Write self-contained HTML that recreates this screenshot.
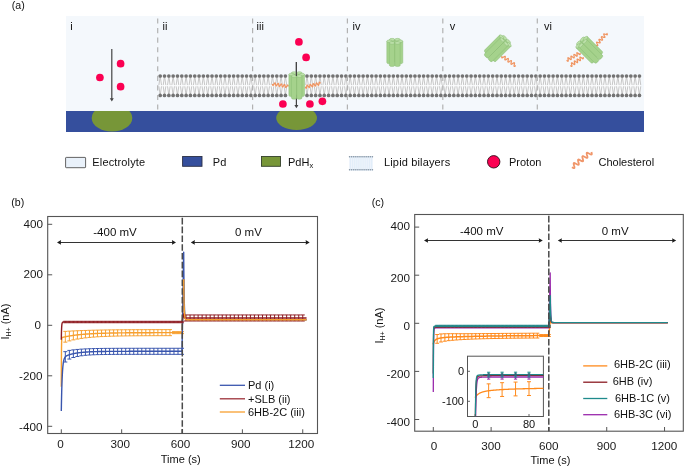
<!DOCTYPE html>
<html><head><meta charset="utf-8"><style>
html,body{margin:0;padding:0;background:#fff;}
body{width:685px;height:468px;overflow:hidden;}
svg{display:block;will-change:transform;}
</style></head><body>
<svg width="685" height="468" viewBox="0 0 685 468">
<rect width="685" height="468" fill="#fff"/>
<rect x="66" y="16" width="578" height="95" fill="#f4f8fc"/>
<rect x="66" y="111" width="578" height="21" fill="#354f9d"/>
<rect x="159.2" y="76.0" width="481.26000000000005" height="19.400000000000006" fill="#fbfcfd"/><path d="M158.9,85.10000000000001 L160.2,76.0 L161.5,85.10000000000001 M158.9,86.3 L160.2,95.4 L161.5,86.3 M163.22,85.10000000000001 L164.52,76.0 L165.82,85.10000000000001 M163.22,86.3 L164.52,95.4 L165.82,86.3 M167.54,85.10000000000001 L168.84,76.0 L170.14,85.10000000000001 M167.54,86.3 L168.84,95.4 L170.14,86.3 M171.85,85.10000000000001 L173.15,76.0 L174.45,85.10000000000001 M171.85,86.3 L173.15,95.4 L174.45,86.3 M176.17,85.10000000000001 L177.47,76.0 L178.77,85.10000000000001 M176.17,86.3 L177.47,95.4 L178.77,86.3 M180.49,85.10000000000001 L181.79,76.0 L183.09,85.10000000000001 M180.49,86.3 L181.79,95.4 L183.09,86.3 M184.81,85.10000000000001 L186.11,76.0 L187.41,85.10000000000001 M184.81,86.3 L186.11,95.4 L187.41,86.3 M189.12,85.10000000000001 L190.42,76.0 L191.72,85.10000000000001 M189.12,86.3 L190.42,95.4 L191.72,86.3 M193.44,85.10000000000001 L194.74,76.0 L196.04,85.10000000000001 M193.44,86.3 L194.74,95.4 L196.04,86.3 M197.76,85.10000000000001 L199.06,76.0 L200.36,85.10000000000001 M197.76,86.3 L199.06,95.4 L200.36,86.3 M202.08,85.10000000000001 L203.38,76.0 L204.68,85.10000000000001 M202.08,86.3 L203.38,95.4 L204.68,86.3 M206.39,85.10000000000001 L207.69,76.0 L208.99,85.10000000000001 M206.39,86.3 L207.69,95.4 L208.99,86.3 M210.71,85.10000000000001 L212.01,76.0 L213.31,85.10000000000001 M210.71,86.3 L212.01,95.4 L213.31,86.3 M215.03,85.10000000000001 L216.33,76.0 L217.63,85.10000000000001 M215.03,86.3 L216.33,95.4 L217.63,86.3 M219.35,85.10000000000001 L220.65,76.0 L221.95,85.10000000000001 M219.35,86.3 L220.65,95.4 L221.95,86.3 M223.66,85.10000000000001 L224.96,76.0 L226.26,85.10000000000001 M223.66,86.3 L224.96,95.4 L226.26,86.3 M227.98,85.10000000000001 L229.28,76.0 L230.58,85.10000000000001 M227.98,86.3 L229.28,95.4 L230.58,86.3 M232.3,85.10000000000001 L233.6,76.0 L234.9,85.10000000000001 M232.3,86.3 L233.6,95.4 L234.9,86.3 M236.62,85.10000000000001 L237.92,76.0 L239.22,85.10000000000001 M236.62,86.3 L237.92,95.4 L239.22,86.3 M240.94,85.10000000000001 L242.24,76.0 L243.54,85.10000000000001 M240.94,86.3 L242.24,95.4 L243.54,86.3 M245.25,85.10000000000001 L246.55,76.0 L247.85,85.10000000000001 M245.25,86.3 L246.55,95.4 L247.85,86.3 M249.57,85.10000000000001 L250.87,76.0 L252.17,85.10000000000001 M249.57,86.3 L250.87,95.4 L252.17,86.3 M253.89,85.10000000000001 L255.19,76.0 L256.49,85.10000000000001 M253.89,86.3 L255.19,95.4 L256.49,86.3 M258.21,85.10000000000001 L259.51,76.0 L260.81,85.10000000000001 M258.21,86.3 L259.51,95.4 L260.81,86.3 M262.52,85.10000000000001 L263.82,76.0 L265.12,85.10000000000001 M262.52,86.3 L263.82,95.4 L265.12,86.3 M266.84,85.10000000000001 L268.14,76.0 L269.44,85.10000000000001 M266.84,86.3 L268.14,95.4 L269.44,86.3 M271.16,85.10000000000001 L272.46,76.0 L273.76,85.10000000000001 M271.16,86.3 L272.46,95.4 L273.76,86.3 M275.48,85.10000000000001 L276.78,76.0 L278.08,85.10000000000001 M275.48,86.3 L276.78,95.4 L278.08,86.3 M279.79,85.10000000000001 L281.09,76.0 L282.39,85.10000000000001 M279.79,86.3 L281.09,95.4 L282.39,86.3 M284.11,85.10000000000001 L285.41,76.0 L286.71,85.10000000000001 M284.11,86.3 L285.41,95.4 L286.71,86.3 M305.7,85.10000000000001 L307,76.0 L308.3,85.10000000000001 M305.7,86.3 L307,95.4 L308.3,86.3 M310.02,85.10000000000001 L311.32,76.0 L312.62,85.10000000000001 M310.02,86.3 L311.32,95.4 L312.62,86.3 M314.34,85.10000000000001 L315.64,76.0 L316.94,85.10000000000001 M314.34,86.3 L315.64,95.4 L316.94,86.3 M318.65,85.10000000000001 L319.95,76.0 L321.25,85.10000000000001 M318.65,86.3 L319.95,95.4 L321.25,86.3 M322.97,85.10000000000001 L324.27,76.0 L325.57,85.10000000000001 M322.97,86.3 L324.27,95.4 L325.57,86.3 M327.29,85.10000000000001 L328.59,76.0 L329.89,85.10000000000001 M327.29,86.3 L328.59,95.4 L329.89,86.3 M331.61,85.10000000000001 L332.91,76.0 L334.21,85.10000000000001 M331.61,86.3 L332.91,95.4 L334.21,86.3 M335.92,85.10000000000001 L337.22,76.0 L338.52,85.10000000000001 M335.92,86.3 L337.22,95.4 L338.52,86.3 M340.24,85.10000000000001 L341.54,76.0 L342.84,85.10000000000001 M340.24,86.3 L341.54,95.4 L342.84,86.3 M344.56,85.10000000000001 L345.86,76.0 L347.16,85.10000000000001 M344.56,86.3 L345.86,95.4 L347.16,86.3 M348.88,85.10000000000001 L350.18,76.0 L351.48,85.10000000000001 M348.88,86.3 L350.18,95.4 L351.48,86.3 M353.19,85.10000000000001 L354.49,76.0 L355.79,85.10000000000001 M353.19,86.3 L354.49,95.4 L355.79,86.3 M357.51,85.10000000000001 L358.81,76.0 L360.11,85.10000000000001 M357.51,86.3 L358.81,95.4 L360.11,86.3 M361.83,85.10000000000001 L363.13,76.0 L364.43,85.10000000000001 M361.83,86.3 L363.13,95.4 L364.43,86.3 M366.15,85.10000000000001 L367.45,76.0 L368.75,85.10000000000001 M366.15,86.3 L367.45,95.4 L368.75,86.3 M370.47,85.10000000000001 L371.77,76.0 L373.07,85.10000000000001 M370.47,86.3 L371.77,95.4 L373.07,86.3 M374.78,85.10000000000001 L376.08,76.0 L377.38,85.10000000000001 M374.78,86.3 L376.08,95.4 L377.38,86.3 M379.1,85.10000000000001 L380.4,76.0 L381.7,85.10000000000001 M379.1,86.3 L380.4,95.4 L381.7,86.3 M383.42,85.10000000000001 L384.72,76.0 L386.02,85.10000000000001 M383.42,86.3 L384.72,95.4 L386.02,86.3 M387.74,85.10000000000001 L389.04,76.0 L390.34,85.10000000000001 M387.74,86.3 L389.04,95.4 L390.34,86.3 M392.05,85.10000000000001 L393.35,76.0 L394.65,85.10000000000001 M392.05,86.3 L393.35,95.4 L394.65,86.3 M396.37,85.10000000000001 L397.67,76.0 L398.97,85.10000000000001 M396.37,86.3 L397.67,95.4 L398.97,86.3 M400.69,85.10000000000001 L401.99,76.0 L403.29,85.10000000000001 M400.69,86.3 L401.99,95.4 L403.29,86.3 M405.01,85.10000000000001 L406.31,76.0 L407.61,85.10000000000001 M405.01,86.3 L406.31,95.4 L407.61,86.3 M409.32,85.10000000000001 L410.62,76.0 L411.92,85.10000000000001 M409.32,86.3 L410.62,95.4 L411.92,86.3 M413.64,85.10000000000001 L414.94,76.0 L416.24,85.10000000000001 M413.64,86.3 L414.94,95.4 L416.24,86.3 M417.96,85.10000000000001 L419.26,76.0 L420.56,85.10000000000001 M417.96,86.3 L419.26,95.4 L420.56,86.3 M422.28,85.10000000000001 L423.58,76.0 L424.88,85.10000000000001 M422.28,86.3 L423.58,95.4 L424.88,86.3 M426.59,85.10000000000001 L427.89,76.0 L429.19,85.10000000000001 M426.59,86.3 L427.89,95.4 L429.19,86.3 M430.91,85.10000000000001 L432.21,76.0 L433.51,85.10000000000001 M430.91,86.3 L432.21,95.4 L433.51,86.3 M435.23,85.10000000000001 L436.53,76.0 L437.83,85.10000000000001 M435.23,86.3 L436.53,95.4 L437.83,86.3 M439.55,85.10000000000001 L440.85,76.0 L442.15,85.10000000000001 M439.55,86.3 L440.85,95.4 L442.15,86.3 M443.87,85.10000000000001 L445.17,76.0 L446.47,85.10000000000001 M443.87,86.3 L445.17,95.4 L446.47,86.3 M448.18,85.10000000000001 L449.48,76.0 L450.78,85.10000000000001 M448.18,86.3 L449.48,95.4 L450.78,86.3 M452.5,85.10000000000001 L453.8,76.0 L455.1,85.10000000000001 M452.5,86.3 L453.8,95.4 L455.1,86.3 M456.82,85.10000000000001 L458.12,76.0 L459.42,85.10000000000001 M456.82,86.3 L458.12,95.4 L459.42,86.3 M461.14,85.10000000000001 L462.44,76.0 L463.74,85.10000000000001 M461.14,86.3 L462.44,95.4 L463.74,86.3 M465.45,85.10000000000001 L466.75,76.0 L468.05,85.10000000000001 M465.45,86.3 L466.75,95.4 L468.05,86.3 M469.77,85.10000000000001 L471.07,76.0 L472.37,85.10000000000001 M469.77,86.3 L471.07,95.4 L472.37,86.3 M474.09,85.10000000000001 L475.39,76.0 L476.69,85.10000000000001 M474.09,86.3 L475.39,95.4 L476.69,86.3 M478.41,85.10000000000001 L479.71,76.0 L481.01,85.10000000000001 M478.41,86.3 L479.71,95.4 L481.01,86.3 M482.72,85.10000000000001 L484.02,76.0 L485.32,85.10000000000001 M482.72,86.3 L484.02,95.4 L485.32,86.3 M487.04,85.10000000000001 L488.34,76.0 L489.64,85.10000000000001 M487.04,86.3 L488.34,95.4 L489.64,86.3 M491.36,85.10000000000001 L492.66,76.0 L493.96,85.10000000000001 M491.36,86.3 L492.66,95.4 L493.96,86.3 M495.68,85.10000000000001 L496.98,76.0 L498.28,85.10000000000001 M495.68,86.3 L496.98,95.4 L498.28,86.3 M499.99,85.10000000000001 L501.29,76.0 L502.59,85.10000000000001 M499.99,86.3 L501.29,95.4 L502.59,86.3 M504.31,85.10000000000001 L505.61,76.0 L506.91,85.10000000000001 M504.31,86.3 L505.61,95.4 L506.91,86.3 M508.63,85.10000000000001 L509.93,76.0 L511.23,85.10000000000001 M508.63,86.3 L509.93,95.4 L511.23,86.3 M512.95,85.10000000000001 L514.25,76.0 L515.55,85.10000000000001 M512.95,86.3 L514.25,95.4 L515.55,86.3 M517.27,85.10000000000001 L518.57,76.0 L519.87,85.10000000000001 M517.27,86.3 L518.57,95.4 L519.87,86.3 M521.58,85.10000000000001 L522.88,76.0 L524.18,85.10000000000001 M521.58,86.3 L522.88,95.4 L524.18,86.3 M525.9,85.10000000000001 L527.2,76.0 L528.5,85.10000000000001 M525.9,86.3 L527.2,95.4 L528.5,86.3 M530.22,85.10000000000001 L531.52,76.0 L532.82,85.10000000000001 M530.22,86.3 L531.52,95.4 L532.82,86.3 M534.54,85.10000000000001 L535.84,76.0 L537.14,85.10000000000001 M534.54,86.3 L535.84,95.4 L537.14,86.3 M538.85,85.10000000000001 L540.15,76.0 L541.45,85.10000000000001 M538.85,86.3 L540.15,95.4 L541.45,86.3 M543.17,85.10000000000001 L544.47,76.0 L545.77,85.10000000000001 M543.17,86.3 L544.47,95.4 L545.77,86.3 M547.49,85.10000000000001 L548.79,76.0 L550.09,85.10000000000001 M547.49,86.3 L548.79,95.4 L550.09,86.3 M551.81,85.10000000000001 L553.11,76.0 L554.41,85.10000000000001 M551.81,86.3 L553.11,95.4 L554.41,86.3 M556.12,85.10000000000001 L557.42,76.0 L558.72,85.10000000000001 M556.12,86.3 L557.42,95.4 L558.72,86.3 M560.44,85.10000000000001 L561.74,76.0 L563.04,85.10000000000001 M560.44,86.3 L561.74,95.4 L563.04,86.3 M564.76,85.10000000000001 L566.06,76.0 L567.36,85.10000000000001 M564.76,86.3 L566.06,95.4 L567.36,86.3 M569.08,85.10000000000001 L570.38,76.0 L571.68,85.10000000000001 M569.08,86.3 L570.38,95.4 L571.68,86.3 M573.4,85.10000000000001 L574.7,76.0 L576,85.10000000000001 M573.4,86.3 L574.7,95.4 L576,86.3 M577.71,85.10000000000001 L579.01,76.0 L580.31,85.10000000000001 M577.71,86.3 L579.01,95.4 L580.31,86.3 M582.03,85.10000000000001 L583.33,76.0 L584.63,85.10000000000001 M582.03,86.3 L583.33,95.4 L584.63,86.3 M586.35,85.10000000000001 L587.65,76.0 L588.95,85.10000000000001 M586.35,86.3 L587.65,95.4 L588.95,86.3 M590.67,85.10000000000001 L591.97,76.0 L593.27,85.10000000000001 M590.67,86.3 L591.97,95.4 L593.27,86.3 M594.98,85.10000000000001 L596.28,76.0 L597.58,85.10000000000001 M594.98,86.3 L596.28,95.4 L597.58,86.3 M599.3,85.10000000000001 L600.6,76.0 L601.9,85.10000000000001 M599.3,86.3 L600.6,95.4 L601.9,86.3 M603.62,85.10000000000001 L604.92,76.0 L606.22,85.10000000000001 M603.62,86.3 L604.92,95.4 L606.22,86.3 M607.94,85.10000000000001 L609.24,76.0 L610.54,85.10000000000001 M607.94,86.3 L609.24,95.4 L610.54,86.3 M612.25,85.10000000000001 L613.55,76.0 L614.85,85.10000000000001 M612.25,86.3 L613.55,95.4 L614.85,86.3 M616.57,85.10000000000001 L617.87,76.0 L619.17,85.10000000000001 M616.57,86.3 L617.87,95.4 L619.17,86.3 M620.89,85.10000000000001 L622.19,76.0 L623.49,85.10000000000001 M620.89,86.3 L622.19,95.4 L623.49,86.3 M625.21,85.10000000000001 L626.51,76.0 L627.81,85.10000000000001 M625.21,86.3 L626.51,95.4 L627.81,86.3 M629.52,85.10000000000001 L630.82,76.0 L632.12,85.10000000000001 M629.52,86.3 L630.82,95.4 L632.12,86.3 M633.84,85.10000000000001 L635.14,76.0 L636.44,85.10000000000001 M633.84,86.3 L635.14,95.4 L636.44,86.3 M638.16,85.10000000000001 L639.46,76.0 L640.76,85.10000000000001 M638.16,86.3 L639.46,95.4 L640.76,86.3" stroke="#bdbdbd" stroke-width="0.85" fill="none"/><circle cx="160.2" cy="76.0" r="1.85" fill="#737373"/><circle cx="160.2" cy="95.4" r="1.85" fill="#737373"/><circle cx="164.52" cy="76.0" r="1.85" fill="#737373"/><circle cx="164.52" cy="95.4" r="1.85" fill="#737373"/><circle cx="168.84" cy="76.0" r="1.85" fill="#737373"/><circle cx="168.84" cy="95.4" r="1.85" fill="#737373"/><circle cx="173.15" cy="76.0" r="1.85" fill="#737373"/><circle cx="173.15" cy="95.4" r="1.85" fill="#737373"/><circle cx="177.47" cy="76.0" r="1.85" fill="#737373"/><circle cx="177.47" cy="95.4" r="1.85" fill="#737373"/><circle cx="181.79" cy="76.0" r="1.85" fill="#737373"/><circle cx="181.79" cy="95.4" r="1.85" fill="#737373"/><circle cx="186.11" cy="76.0" r="1.85" fill="#737373"/><circle cx="186.11" cy="95.4" r="1.85" fill="#737373"/><circle cx="190.42" cy="76.0" r="1.85" fill="#737373"/><circle cx="190.42" cy="95.4" r="1.85" fill="#737373"/><circle cx="194.74" cy="76.0" r="1.85" fill="#737373"/><circle cx="194.74" cy="95.4" r="1.85" fill="#737373"/><circle cx="199.06" cy="76.0" r="1.85" fill="#737373"/><circle cx="199.06" cy="95.4" r="1.85" fill="#737373"/><circle cx="203.38" cy="76.0" r="1.85" fill="#737373"/><circle cx="203.38" cy="95.4" r="1.85" fill="#737373"/><circle cx="207.69" cy="76.0" r="1.85" fill="#737373"/><circle cx="207.69" cy="95.4" r="1.85" fill="#737373"/><circle cx="212.01" cy="76.0" r="1.85" fill="#737373"/><circle cx="212.01" cy="95.4" r="1.85" fill="#737373"/><circle cx="216.33" cy="76.0" r="1.85" fill="#737373"/><circle cx="216.33" cy="95.4" r="1.85" fill="#737373"/><circle cx="220.65" cy="76.0" r="1.85" fill="#737373"/><circle cx="220.65" cy="95.4" r="1.85" fill="#737373"/><circle cx="224.96" cy="76.0" r="1.85" fill="#737373"/><circle cx="224.96" cy="95.4" r="1.85" fill="#737373"/><circle cx="229.28" cy="76.0" r="1.85" fill="#737373"/><circle cx="229.28" cy="95.4" r="1.85" fill="#737373"/><circle cx="233.6" cy="76.0" r="1.85" fill="#737373"/><circle cx="233.6" cy="95.4" r="1.85" fill="#737373"/><circle cx="237.92" cy="76.0" r="1.85" fill="#737373"/><circle cx="237.92" cy="95.4" r="1.85" fill="#737373"/><circle cx="242.24" cy="76.0" r="1.85" fill="#737373"/><circle cx="242.24" cy="95.4" r="1.85" fill="#737373"/><circle cx="246.55" cy="76.0" r="1.85" fill="#737373"/><circle cx="246.55" cy="95.4" r="1.85" fill="#737373"/><circle cx="250.87" cy="76.0" r="1.85" fill="#737373"/><circle cx="250.87" cy="95.4" r="1.85" fill="#737373"/><circle cx="255.19" cy="76.0" r="1.85" fill="#737373"/><circle cx="255.19" cy="95.4" r="1.85" fill="#737373"/><circle cx="259.51" cy="76.0" r="1.85" fill="#737373"/><circle cx="259.51" cy="95.4" r="1.85" fill="#737373"/><circle cx="263.82" cy="76.0" r="1.85" fill="#737373"/><circle cx="263.82" cy="95.4" r="1.85" fill="#737373"/><circle cx="268.14" cy="76.0" r="1.85" fill="#737373"/><circle cx="268.14" cy="95.4" r="1.85" fill="#737373"/><circle cx="272.46" cy="76.0" r="1.85" fill="#737373"/><circle cx="272.46" cy="95.4" r="1.85" fill="#737373"/><circle cx="276.78" cy="76.0" r="1.85" fill="#737373"/><circle cx="276.78" cy="95.4" r="1.85" fill="#737373"/><circle cx="281.09" cy="76.0" r="1.85" fill="#737373"/><circle cx="281.09" cy="95.4" r="1.85" fill="#737373"/><circle cx="285.41" cy="76.0" r="1.85" fill="#737373"/><circle cx="285.41" cy="95.4" r="1.85" fill="#737373"/><circle cx="307" cy="76.0" r="1.85" fill="#737373"/><circle cx="307" cy="95.4" r="1.85" fill="#737373"/><circle cx="311.32" cy="76.0" r="1.85" fill="#737373"/><circle cx="311.32" cy="95.4" r="1.85" fill="#737373"/><circle cx="315.64" cy="76.0" r="1.85" fill="#737373"/><circle cx="315.64" cy="95.4" r="1.85" fill="#737373"/><circle cx="319.95" cy="76.0" r="1.85" fill="#737373"/><circle cx="319.95" cy="95.4" r="1.85" fill="#737373"/><circle cx="324.27" cy="76.0" r="1.85" fill="#737373"/><circle cx="324.27" cy="95.4" r="1.85" fill="#737373"/><circle cx="328.59" cy="76.0" r="1.85" fill="#737373"/><circle cx="328.59" cy="95.4" r="1.85" fill="#737373"/><circle cx="332.91" cy="76.0" r="1.85" fill="#737373"/><circle cx="332.91" cy="95.4" r="1.85" fill="#737373"/><circle cx="337.22" cy="76.0" r="1.85" fill="#737373"/><circle cx="337.22" cy="95.4" r="1.85" fill="#737373"/><circle cx="341.54" cy="76.0" r="1.85" fill="#737373"/><circle cx="341.54" cy="95.4" r="1.85" fill="#737373"/><circle cx="345.86" cy="76.0" r="1.85" fill="#737373"/><circle cx="345.86" cy="95.4" r="1.85" fill="#737373"/><circle cx="350.18" cy="76.0" r="1.85" fill="#737373"/><circle cx="350.18" cy="95.4" r="1.85" fill="#737373"/><circle cx="354.49" cy="76.0" r="1.85" fill="#737373"/><circle cx="354.49" cy="95.4" r="1.85" fill="#737373"/><circle cx="358.81" cy="76.0" r="1.85" fill="#737373"/><circle cx="358.81" cy="95.4" r="1.85" fill="#737373"/><circle cx="363.13" cy="76.0" r="1.85" fill="#737373"/><circle cx="363.13" cy="95.4" r="1.85" fill="#737373"/><circle cx="367.45" cy="76.0" r="1.85" fill="#737373"/><circle cx="367.45" cy="95.4" r="1.85" fill="#737373"/><circle cx="371.77" cy="76.0" r="1.85" fill="#737373"/><circle cx="371.77" cy="95.4" r="1.85" fill="#737373"/><circle cx="376.08" cy="76.0" r="1.85" fill="#737373"/><circle cx="376.08" cy="95.4" r="1.85" fill="#737373"/><circle cx="380.4" cy="76.0" r="1.85" fill="#737373"/><circle cx="380.4" cy="95.4" r="1.85" fill="#737373"/><circle cx="384.72" cy="76.0" r="1.85" fill="#737373"/><circle cx="384.72" cy="95.4" r="1.85" fill="#737373"/><circle cx="389.04" cy="76.0" r="1.85" fill="#737373"/><circle cx="389.04" cy="95.4" r="1.85" fill="#737373"/><circle cx="393.35" cy="76.0" r="1.85" fill="#737373"/><circle cx="393.35" cy="95.4" r="1.85" fill="#737373"/><circle cx="397.67" cy="76.0" r="1.85" fill="#737373"/><circle cx="397.67" cy="95.4" r="1.85" fill="#737373"/><circle cx="401.99" cy="76.0" r="1.85" fill="#737373"/><circle cx="401.99" cy="95.4" r="1.85" fill="#737373"/><circle cx="406.31" cy="76.0" r="1.85" fill="#737373"/><circle cx="406.31" cy="95.4" r="1.85" fill="#737373"/><circle cx="410.62" cy="76.0" r="1.85" fill="#737373"/><circle cx="410.62" cy="95.4" r="1.85" fill="#737373"/><circle cx="414.94" cy="76.0" r="1.85" fill="#737373"/><circle cx="414.94" cy="95.4" r="1.85" fill="#737373"/><circle cx="419.26" cy="76.0" r="1.85" fill="#737373"/><circle cx="419.26" cy="95.4" r="1.85" fill="#737373"/><circle cx="423.58" cy="76.0" r="1.85" fill="#737373"/><circle cx="423.58" cy="95.4" r="1.85" fill="#737373"/><circle cx="427.89" cy="76.0" r="1.85" fill="#737373"/><circle cx="427.89" cy="95.4" r="1.85" fill="#737373"/><circle cx="432.21" cy="76.0" r="1.85" fill="#737373"/><circle cx="432.21" cy="95.4" r="1.85" fill="#737373"/><circle cx="436.53" cy="76.0" r="1.85" fill="#737373"/><circle cx="436.53" cy="95.4" r="1.85" fill="#737373"/><circle cx="440.85" cy="76.0" r="1.85" fill="#737373"/><circle cx="440.85" cy="95.4" r="1.85" fill="#737373"/><circle cx="445.17" cy="76.0" r="1.85" fill="#737373"/><circle cx="445.17" cy="95.4" r="1.85" fill="#737373"/><circle cx="449.48" cy="76.0" r="1.85" fill="#737373"/><circle cx="449.48" cy="95.4" r="1.85" fill="#737373"/><circle cx="453.8" cy="76.0" r="1.85" fill="#737373"/><circle cx="453.8" cy="95.4" r="1.85" fill="#737373"/><circle cx="458.12" cy="76.0" r="1.85" fill="#737373"/><circle cx="458.12" cy="95.4" r="1.85" fill="#737373"/><circle cx="462.44" cy="76.0" r="1.85" fill="#737373"/><circle cx="462.44" cy="95.4" r="1.85" fill="#737373"/><circle cx="466.75" cy="76.0" r="1.85" fill="#737373"/><circle cx="466.75" cy="95.4" r="1.85" fill="#737373"/><circle cx="471.07" cy="76.0" r="1.85" fill="#737373"/><circle cx="471.07" cy="95.4" r="1.85" fill="#737373"/><circle cx="475.39" cy="76.0" r="1.85" fill="#737373"/><circle cx="475.39" cy="95.4" r="1.85" fill="#737373"/><circle cx="479.71" cy="76.0" r="1.85" fill="#737373"/><circle cx="479.71" cy="95.4" r="1.85" fill="#737373"/><circle cx="484.02" cy="76.0" r="1.85" fill="#737373"/><circle cx="484.02" cy="95.4" r="1.85" fill="#737373"/><circle cx="488.34" cy="76.0" r="1.85" fill="#737373"/><circle cx="488.34" cy="95.4" r="1.85" fill="#737373"/><circle cx="492.66" cy="76.0" r="1.85" fill="#737373"/><circle cx="492.66" cy="95.4" r="1.85" fill="#737373"/><circle cx="496.98" cy="76.0" r="1.85" fill="#737373"/><circle cx="496.98" cy="95.4" r="1.85" fill="#737373"/><circle cx="501.29" cy="76.0" r="1.85" fill="#737373"/><circle cx="501.29" cy="95.4" r="1.85" fill="#737373"/><circle cx="505.61" cy="76.0" r="1.85" fill="#737373"/><circle cx="505.61" cy="95.4" r="1.85" fill="#737373"/><circle cx="509.93" cy="76.0" r="1.85" fill="#737373"/><circle cx="509.93" cy="95.4" r="1.85" fill="#737373"/><circle cx="514.25" cy="76.0" r="1.85" fill="#737373"/><circle cx="514.25" cy="95.4" r="1.85" fill="#737373"/><circle cx="518.57" cy="76.0" r="1.85" fill="#737373"/><circle cx="518.57" cy="95.4" r="1.85" fill="#737373"/><circle cx="522.88" cy="76.0" r="1.85" fill="#737373"/><circle cx="522.88" cy="95.4" r="1.85" fill="#737373"/><circle cx="527.2" cy="76.0" r="1.85" fill="#737373"/><circle cx="527.2" cy="95.4" r="1.85" fill="#737373"/><circle cx="531.52" cy="76.0" r="1.85" fill="#737373"/><circle cx="531.52" cy="95.4" r="1.85" fill="#737373"/><circle cx="535.84" cy="76.0" r="1.85" fill="#737373"/><circle cx="535.84" cy="95.4" r="1.85" fill="#737373"/><circle cx="540.15" cy="76.0" r="1.85" fill="#737373"/><circle cx="540.15" cy="95.4" r="1.85" fill="#737373"/><circle cx="544.47" cy="76.0" r="1.85" fill="#737373"/><circle cx="544.47" cy="95.4" r="1.85" fill="#737373"/><circle cx="548.79" cy="76.0" r="1.85" fill="#737373"/><circle cx="548.79" cy="95.4" r="1.85" fill="#737373"/><circle cx="553.11" cy="76.0" r="1.85" fill="#737373"/><circle cx="553.11" cy="95.4" r="1.85" fill="#737373"/><circle cx="557.42" cy="76.0" r="1.85" fill="#737373"/><circle cx="557.42" cy="95.4" r="1.85" fill="#737373"/><circle cx="561.74" cy="76.0" r="1.85" fill="#737373"/><circle cx="561.74" cy="95.4" r="1.85" fill="#737373"/><circle cx="566.06" cy="76.0" r="1.85" fill="#737373"/><circle cx="566.06" cy="95.4" r="1.85" fill="#737373"/><circle cx="570.38" cy="76.0" r="1.85" fill="#737373"/><circle cx="570.38" cy="95.4" r="1.85" fill="#737373"/><circle cx="574.7" cy="76.0" r="1.85" fill="#737373"/><circle cx="574.7" cy="95.4" r="1.85" fill="#737373"/><circle cx="579.01" cy="76.0" r="1.85" fill="#737373"/><circle cx="579.01" cy="95.4" r="1.85" fill="#737373"/><circle cx="583.33" cy="76.0" r="1.85" fill="#737373"/><circle cx="583.33" cy="95.4" r="1.85" fill="#737373"/><circle cx="587.65" cy="76.0" r="1.85" fill="#737373"/><circle cx="587.65" cy="95.4" r="1.85" fill="#737373"/><circle cx="591.97" cy="76.0" r="1.85" fill="#737373"/><circle cx="591.97" cy="95.4" r="1.85" fill="#737373"/><circle cx="596.28" cy="76.0" r="1.85" fill="#737373"/><circle cx="596.28" cy="95.4" r="1.85" fill="#737373"/><circle cx="600.6" cy="76.0" r="1.85" fill="#737373"/><circle cx="600.6" cy="95.4" r="1.85" fill="#737373"/><circle cx="604.92" cy="76.0" r="1.85" fill="#737373"/><circle cx="604.92" cy="95.4" r="1.85" fill="#737373"/><circle cx="609.24" cy="76.0" r="1.85" fill="#737373"/><circle cx="609.24" cy="95.4" r="1.85" fill="#737373"/><circle cx="613.55" cy="76.0" r="1.85" fill="#737373"/><circle cx="613.55" cy="95.4" r="1.85" fill="#737373"/><circle cx="617.87" cy="76.0" r="1.85" fill="#737373"/><circle cx="617.87" cy="95.4" r="1.85" fill="#737373"/><circle cx="622.19" cy="76.0" r="1.85" fill="#737373"/><circle cx="622.19" cy="95.4" r="1.85" fill="#737373"/><circle cx="626.51" cy="76.0" r="1.85" fill="#737373"/><circle cx="626.51" cy="95.4" r="1.85" fill="#737373"/><circle cx="630.82" cy="76.0" r="1.85" fill="#737373"/><circle cx="630.82" cy="95.4" r="1.85" fill="#737373"/><circle cx="635.14" cy="76.0" r="1.85" fill="#737373"/><circle cx="635.14" cy="95.4" r="1.85" fill="#737373"/><circle cx="639.46" cy="76.0" r="1.85" fill="#737373"/><circle cx="639.46" cy="95.4" r="1.85" fill="#737373"/>
<line x1="157.7" y1="18.5" x2="157.7" y2="111" stroke="#b2b2b2" stroke-width="1.2" stroke-dasharray="5.1,4.45"/>
<line x1="252.6" y1="18.5" x2="252.6" y2="111" stroke="#b2b2b2" stroke-width="1.2" stroke-dasharray="5.1,4.45"/>
<line x1="347.4" y1="18.5" x2="347.4" y2="111" stroke="#b2b2b2" stroke-width="1.2" stroke-dasharray="5.1,4.45"/>
<line x1="442.8" y1="18.5" x2="442.8" y2="111" stroke="#b2b2b2" stroke-width="1.2" stroke-dasharray="5.1,4.45"/>
<line x1="537.3" y1="18.5" x2="537.3" y2="111" stroke="#b2b2b2" stroke-width="1.2" stroke-dasharray="5.1,4.45"/>
<text x="70.3" y="29.6" font-family="Liberation Sans, sans-serif" font-size="11" fill="#111">i</text>
<text x="162.5" y="29.6" font-family="Liberation Sans, sans-serif" font-size="11" fill="#111">ii</text>
<text x="256.5" y="29.6" font-family="Liberation Sans, sans-serif" font-size="11" fill="#111">iii</text>
<text x="352.6" y="29.6" font-family="Liberation Sans, sans-serif" font-size="11" fill="#111">iv</text>
<text x="449.8" y="29.6" font-family="Liberation Sans, sans-serif" font-size="11" fill="#111">v</text>
<text x="544.0" y="29.6" font-family="Liberation Sans, sans-serif" font-size="11" fill="#111">vi</text>
<clipPath id="c112"><rect x="90.7" y="111" width="42.6" height="30"/></clipPath><ellipse cx="112" cy="118" rx="20.3" ry="13.4" fill="#779638" clip-path="url(#c112)"/>
<line x1="111.8" y1="49" x2="111.8" y2="99.0" stroke="#444" stroke-width="1.2"/><path d="M109.8,98.3 L113.8,98.3 L111.8,101.5 Z" fill="#444"/>
<circle cx="120.6" cy="63.7" r="3.85" fill="#fb0052"/>
<circle cx="99.9" cy="77.5" r="3.85" fill="#fb0052"/>
<circle cx="120.6" cy="86.7" r="3.85" fill="#fb0052"/>
<clipPath id="c296"><rect x="275.20000000000005" y="111" width="42.8" height="30"/></clipPath><ellipse cx="296.6" cy="118" rx="20.4" ry="12" fill="#779638" clip-path="url(#c296)"/>
<path d="M272.4,83.9 L272.55,84.63 L272.73,85.18 L272.97,85.41 L273.26,85.27 L273.61,84.81 L273.99,84.16 L274.37,83.51 L274.72,83.05 L275.01,82.91 L275.25,83.14 L275.43,83.69 L275.58,84.42 L275.73,85.15 L275.91,85.7 L276.15,85.93 L276.44,85.79 L276.79,85.33 L277.17,84.68 L277.55,84.03 L277.9,83.57 L278.19,83.43 L278.43,83.66 L278.61,84.21 L278.76,84.94 L278.91,85.67 L279.09,86.22 L279.33,86.45 L279.62,86.31 L279.97,85.85 L280.35,85.2 L280.73,84.55 L281.08,84.09 L281.37,83.95 L281.61,84.18 L281.79,84.73 L281.94,85.46 L282.09,86.19 L282.27,86.74 L282.51,86.97 L282.8,86.83 L283.15,86.37 L283.53,85.72 L283.91,85.07 L284.26,84.61 L284.55,84.47 L284.79,84.7 L284.97,85.25 L285.12,85.98 L285.27,86.71 L285.45,87.26 L285.69,87.49 L285.98,87.35 L286.33,86.89 L286.71,86.24 L287.09,85.59 L287.44,85.13 L287.73,84.99 L287.97,85.22 L288.15,85.77 L288.3,86.5" stroke="#f09460" stroke-width="1.25" fill="none"/>
<path d="M305.2,87 L305.62,87.62 L305.99,88.06 L306.29,88.18 L306.5,87.94 L306.64,87.38 L306.73,86.64 L306.82,85.9 L306.96,85.34 L307.17,85.1 L307.47,85.22 L307.84,85.66 L308.26,86.28 L308.68,86.9 L309.05,87.34 L309.35,87.46 L309.56,87.22 L309.7,86.66 L309.79,85.92 L309.88,85.18 L310.02,84.62 L310.23,84.38 L310.53,84.5 L310.9,84.94 L311.32,85.56 L311.74,86.18 L312.11,86.62 L312.41,86.74 L312.62,86.5 L312.76,85.94 L312.85,85.2 L312.94,84.46 L313.08,83.9 L313.29,83.66 L313.59,83.78 L313.96,84.22 L314.38,84.84 L314.8,85.46 L315.17,85.9 L315.47,86.02 L315.68,85.78 L315.82,85.22 L315.91,84.48 L316,83.74 L316.14,83.18 L316.35,82.94 L316.65,83.06 L317.02,83.5 L317.44,84.12 L317.86,84.74 L318.23,85.18 L318.53,85.3 L318.74,85.06 L318.88,84.5 L318.97,83.76 L319.06,83.02 L319.2,82.46 L319.41,82.22 L319.71,82.34 L320.08,82.78 L320.5,83.4" stroke="#f09460" stroke-width="1.25" fill="none"/>
<line x1="296.4" y1="62.1" x2="296.4" y2="105.8" stroke="#444" stroke-width="1.2"/><path d="M294.4,105.1 L298.4,105.1 L296.4,108.3 Z" fill="#444"/>
<g transform="translate(296.7,85.3) rotate(0) scale(0.98)"><path d="M-5.4,-12.6 L-5.4,9 A2.7,1.35 0 0 0 0,9 L0,-12.6 Z" fill="#a5d28c" stroke="#86b971" stroke-width="0.45"/><ellipse cx="-2.7" cy="-12.6" rx="2.7" ry="1.35" fill="#bde0aa" stroke="#86b971" stroke-width="0.45"/><path d="M0,-12.6 L0,9 A2.7,1.35 0 0 0 5.4,9 L5.4,-12.6 Z" fill="#a5d28c" stroke="#86b971" stroke-width="0.45"/><ellipse cx="2.7" cy="-12.6" rx="2.7" ry="1.35" fill="#bde0aa" stroke="#86b971" stroke-width="0.45"/><path d="M-8,-11 L-8,10.2 A2.7,1.35 0 0 0 -2.6,10.2 L-2.6,-11 Z" fill="#a5d28c" stroke="#86b971" stroke-width="0.45"/><ellipse cx="-5.3" cy="-11" rx="2.7" ry="1.35" fill="#bde0aa" stroke="#86b971" stroke-width="0.45"/><path d="M2.6,-11 L2.6,10.2 A2.7,1.35 0 0 0 8,10.2 L8,-11 Z" fill="#a5d28c" stroke="#86b971" stroke-width="0.45"/><ellipse cx="5.3" cy="-11" rx="2.7" ry="1.35" fill="#bde0aa" stroke="#86b971" stroke-width="0.45"/><path d="M-5.4,-9.4 L-5.4,12.9 A2.7,1.35 0 0 0 0,12.9 L0,-9.4 Z" fill="#a5d28c" stroke="#86b971" stroke-width="0.45"/><ellipse cx="-2.7" cy="-9.4" rx="2.7" ry="1.35" fill="#bde0aa" stroke="#86b971" stroke-width="0.45"/><path d="M0,-9.4 L0,12.9 A2.7,1.35 0 0 0 5.4,12.9 L5.4,-9.4 Z" fill="#a5d28c" stroke="#86b971" stroke-width="0.45"/><ellipse cx="2.7" cy="-9.4" rx="2.7" ry="1.35" fill="#bde0aa" stroke="#86b971" stroke-width="0.45"/></g>
<line x1="296.4" y1="62.1" x2="296.4" y2="76" stroke="#444" stroke-width="1.2"/>
<circle cx="298.9" cy="41.9" r="3.85" fill="#fb0052"/>
<circle cx="306.1" cy="57.4" r="3.85" fill="#fb0052"/>
<circle cx="282.9" cy="104" r="3.85" fill="#fb0052"/>
<circle cx="309.9" cy="104" r="3.85" fill="#fb0052"/>
<circle cx="322.4" cy="101.3" r="3.85" fill="#fb0052"/>
<g transform="translate(394.8,52.3) rotate(0) scale(1.0)"><path d="M-5.4,-12.6 L-5.4,9 A2.7,1.35 0 0 0 0,9 L0,-12.6 Z" fill="#a5d28c" stroke="#86b971" stroke-width="0.45"/><ellipse cx="-2.7" cy="-12.6" rx="2.7" ry="1.35" fill="#bde0aa" stroke="#86b971" stroke-width="0.45"/><path d="M0,-12.6 L0,9 A2.7,1.35 0 0 0 5.4,9 L5.4,-12.6 Z" fill="#a5d28c" stroke="#86b971" stroke-width="0.45"/><ellipse cx="2.7" cy="-12.6" rx="2.7" ry="1.35" fill="#bde0aa" stroke="#86b971" stroke-width="0.45"/><path d="M-8,-11 L-8,10.2 A2.7,1.35 0 0 0 -2.6,10.2 L-2.6,-11 Z" fill="#a5d28c" stroke="#86b971" stroke-width="0.45"/><ellipse cx="-5.3" cy="-11" rx="2.7" ry="1.35" fill="#bde0aa" stroke="#86b971" stroke-width="0.45"/><path d="M2.6,-11 L2.6,10.2 A2.7,1.35 0 0 0 8,10.2 L8,-11 Z" fill="#a5d28c" stroke="#86b971" stroke-width="0.45"/><ellipse cx="5.3" cy="-11" rx="2.7" ry="1.35" fill="#bde0aa" stroke="#86b971" stroke-width="0.45"/><path d="M-5.4,-9.4 L-5.4,12.9 A2.7,1.35 0 0 0 0,12.9 L0,-9.4 Z" fill="#a5d28c" stroke="#86b971" stroke-width="0.45"/><ellipse cx="-2.7" cy="-9.4" rx="2.7" ry="1.35" fill="#bde0aa" stroke="#86b971" stroke-width="0.45"/><path d="M0,-9.4 L0,12.9 A2.7,1.35 0 0 0 5.4,12.9 L5.4,-9.4 Z" fill="#a5d28c" stroke="#86b971" stroke-width="0.45"/><ellipse cx="2.7" cy="-9.4" rx="2.7" ry="1.35" fill="#bde0aa" stroke="#86b971" stroke-width="0.45"/></g>
<path d="M502,56 L501.84,56.72 L501.77,57.32 L501.84,57.7 L502.11,57.81 L502.54,57.67 L503.12,57.34 L503.74,56.93 L504.34,56.56 L504.83,56.34 L505.16,56.37 L505.29,56.66 L505.26,57.2 L505.12,57.89 L504.96,58.62 L504.84,59.27 L504.87,59.73 L505.06,59.94 L505.45,59.88 L505.98,59.6 L506.6,59.2 L507.22,58.8 L507.75,58.52 L508.14,58.46 L508.33,58.67 L508.36,59.13 L508.24,59.78 L508.08,60.51 L507.94,61.2 L507.91,61.74 L508.04,62.03 L508.37,62.06 L508.86,61.84 L509.46,61.47 L510.08,61.06 L510.66,60.73 L511.09,60.59 L511.36,60.7 L511.43,61.08 L511.36,61.68 L511.2,62.4 L511.04,63.12 L510.97,63.72 L511.04,64.1 L511.31,64.21 L511.74,64.07 L512.32,63.74 L512.94,63.33 L513.54,62.96 L514.03,62.74 L514.36,62.77 L514.49,63.06 L514.46,63.6 L514.32,64.29 L514.16,65.02 L514.04,65.67 L514.07,66.13 L514.26,66.34 L514.65,66.28 L515.18,66 L515.8,65.6" stroke="#f09460" stroke-width="1.25" fill="none"/>
<g transform="translate(497.5,48.5) rotate(45) scale(1.0)"><path d="M-5.4,-12.6 L-5.4,9 A2.7,1.35 0 0 0 0,9 L0,-12.6 Z" fill="#a5d28c" stroke="#86b971" stroke-width="0.45"/><ellipse cx="-2.7" cy="-12.6" rx="2.7" ry="1.35" fill="#bde0aa" stroke="#86b971" stroke-width="0.45"/><path d="M0,-12.6 L0,9 A2.7,1.35 0 0 0 5.4,9 L5.4,-12.6 Z" fill="#a5d28c" stroke="#86b971" stroke-width="0.45"/><ellipse cx="2.7" cy="-12.6" rx="2.7" ry="1.35" fill="#bde0aa" stroke="#86b971" stroke-width="0.45"/><path d="M-8,-11 L-8,10.2 A2.7,1.35 0 0 0 -2.6,10.2 L-2.6,-11 Z" fill="#a5d28c" stroke="#86b971" stroke-width="0.45"/><ellipse cx="-5.3" cy="-11" rx="2.7" ry="1.35" fill="#bde0aa" stroke="#86b971" stroke-width="0.45"/><path d="M2.6,-11 L2.6,10.2 A2.7,1.35 0 0 0 8,10.2 L8,-11 Z" fill="#a5d28c" stroke="#86b971" stroke-width="0.45"/><ellipse cx="5.3" cy="-11" rx="2.7" ry="1.35" fill="#bde0aa" stroke="#86b971" stroke-width="0.45"/><path d="M-5.4,-9.4 L-5.4,12.9 A2.7,1.35 0 0 0 0,12.9 L0,-9.4 Z" fill="#a5d28c" stroke="#86b971" stroke-width="0.45"/><ellipse cx="-2.7" cy="-9.4" rx="2.7" ry="1.35" fill="#bde0aa" stroke="#86b971" stroke-width="0.45"/><path d="M0,-9.4 L0,12.9 A2.7,1.35 0 0 0 5.4,12.9 L5.4,-9.4 Z" fill="#a5d28c" stroke="#86b971" stroke-width="0.45"/><ellipse cx="2.7" cy="-9.4" rx="2.7" ry="1.35" fill="#bde0aa" stroke="#86b971" stroke-width="0.45"/></g>
<path d="M566.6,60.3 L567.16,60.77 L567.64,61.11 L567.99,61.22 L568.19,61.04 L568.23,60.6 L568.17,59.95 L568.05,59.22 L567.96,58.53 L567.96,58.01 L568.1,57.74 L568.4,57.76 L568.85,58.03 L569.39,58.47 L569.95,58.95 L570.47,59.35 L570.87,59.54 L571.12,59.47 L571.21,59.11 L571.18,58.52 L571.07,57.8 L570.96,57.08 L570.92,56.49 L571.01,56.13 L571.26,56.06 L571.67,56.25 L572.18,56.65 L572.74,57.13 L573.28,57.57 L573.73,57.84 L574.03,57.86 L574.18,57.59 L574.18,57.07 L574.08,56.38 L573.97,55.65 L573.9,55 L573.94,54.56 L574.14,54.38 L574.49,54.49 L574.98,54.83 L575.53,55.3 L576.09,55.77 L576.57,56.11 L576.93,56.22 L577.12,56.04 L577.17,55.6 L577.1,54.95 L576.98,54.22 L576.89,53.53 L576.89,53.01 L577.03,52.74 L577.34,52.76 L577.78,53.03 L578.32,53.47 L578.89,53.95 L579.4,54.35 L579.8,54.54 L580.05,54.47 L580.15,54.11 L580.11,53.52 L580,52.8" stroke="#f09460" stroke-width="1.25" fill="none"/>
<path d="M570.3,65.6 L570.89,66.02 L571.4,66.32 L571.77,66.4 L571.95,66.21 L571.95,65.76 L571.83,65.12 L571.65,64.4 L571.5,63.72 L571.46,63.2 L571.58,62.92 L571.88,62.92 L572.35,63.15 L572.92,63.54 L573.52,63.98 L574.07,64.33 L574.49,64.49 L574.73,64.39 L574.79,64.02 L574.7,63.44 L574.53,62.73 L574.36,62.03 L574.28,61.44 L574.34,61.08 L574.58,60.98 L575,61.14 L575.54,61.49 L576.15,61.92 L576.72,62.32 L577.19,62.55 L577.49,62.54 L577.61,62.26 L577.57,61.74 L577.42,61.06 L577.24,60.34 L577.11,59.71 L577.12,59.26 L577.3,59.07 L577.66,59.15 L578.17,59.45 L578.77,59.87 L579.36,60.29 L579.87,60.58 L580.23,60.66 L580.41,60.47 L580.42,60.03 L580.3,59.39 L580.12,58.67 L579.97,57.99 L579.92,57.47 L580.04,57.19 L580.35,57.18 L580.81,57.42 L581.39,57.81 L581.99,58.24 L582.54,58.59 L582.95,58.75 L583.2,58.66 L583.26,58.29 L583.17,57.71 L583,57" stroke="#f09460" stroke-width="1.25" fill="none"/>
<path d="M596,45.3 L596.69,45.54 L597.27,45.69 L597.65,45.66 L597.79,45.42 L597.69,44.97 L597.42,44.37 L597.07,43.71 L596.76,43.08 L596.6,42.58 L596.65,42.27 L596.95,42.17 L597.47,42.26 L598.14,42.48 L598.85,42.73 L599.48,42.92 L599.93,42.96 L600.15,42.79 L600.13,42.41 L599.9,41.85 L599.57,41.2 L599.23,40.55 L599.01,39.99 L598.98,39.61 L599.2,39.44 L599.66,39.48 L600.29,39.67 L600.99,39.92 L601.66,40.14 L602.18,40.23 L602.48,40.13 L602.54,39.82 L602.37,39.32 L602.06,38.69 L601.71,38.03 L601.44,37.43 L601.34,36.98 L601.48,36.74 L601.86,36.71 L602.44,36.86 L603.13,37.1 L603.83,37.34 L604.41,37.49 L604.79,37.46 L604.92,37.22 L604.83,36.77 L604.55,36.17 L604.2,35.51 L603.89,34.88 L603.73,34.38 L603.78,34.07 L604.09,33.97 L604.61,34.06 L605.27,34.28 L605.98,34.53 L606.61,34.72 L607.06,34.76 L607.28,34.59 L607.26,34.21 L607.04,33.65 L606.7,33" stroke="#f09460" stroke-width="1.25" fill="none"/>
<g transform="translate(589.5,50) rotate(-45) scale(1.0)"><path d="M-5.4,-12.6 L-5.4,9 A2.7,1.35 0 0 0 0,9 L0,-12.6 Z" fill="#a5d28c" stroke="#86b971" stroke-width="0.45"/><ellipse cx="-2.7" cy="-12.6" rx="2.7" ry="1.35" fill="#bde0aa" stroke="#86b971" stroke-width="0.45"/><path d="M0,-12.6 L0,9 A2.7,1.35 0 0 0 5.4,9 L5.4,-12.6 Z" fill="#a5d28c" stroke="#86b971" stroke-width="0.45"/><ellipse cx="2.7" cy="-12.6" rx="2.7" ry="1.35" fill="#bde0aa" stroke="#86b971" stroke-width="0.45"/><path d="M-8,-11 L-8,10.2 A2.7,1.35 0 0 0 -2.6,10.2 L-2.6,-11 Z" fill="#a5d28c" stroke="#86b971" stroke-width="0.45"/><ellipse cx="-5.3" cy="-11" rx="2.7" ry="1.35" fill="#bde0aa" stroke="#86b971" stroke-width="0.45"/><path d="M2.6,-11 L2.6,10.2 A2.7,1.35 0 0 0 8,10.2 L8,-11 Z" fill="#a5d28c" stroke="#86b971" stroke-width="0.45"/><ellipse cx="5.3" cy="-11" rx="2.7" ry="1.35" fill="#bde0aa" stroke="#86b971" stroke-width="0.45"/><path d="M-5.4,-9.4 L-5.4,12.9 A2.7,1.35 0 0 0 0,12.9 L0,-9.4 Z" fill="#a5d28c" stroke="#86b971" stroke-width="0.45"/><ellipse cx="-2.7" cy="-9.4" rx="2.7" ry="1.35" fill="#bde0aa" stroke="#86b971" stroke-width="0.45"/><path d="M0,-9.4 L0,12.9 A2.7,1.35 0 0 0 5.4,12.9 L5.4,-9.4 Z" fill="#a5d28c" stroke="#86b971" stroke-width="0.45"/><ellipse cx="2.7" cy="-9.4" rx="2.7" ry="1.35" fill="#bde0aa" stroke="#86b971" stroke-width="0.45"/></g>
<rect x="65.6" y="157.4" width="20" height="10.3" rx="0.6" fill="#e9f1fa" stroke="#5c5c5c" stroke-width="0.95"/>
<text x="92.3" y="166.2" font-family="Liberation Sans, sans-serif" font-size="11" fill="#111" letter-spacing="0.15">Electrolyte</text>
<rect x="182.6" y="156.5" width="19.4" height="9.8" fill="#354f9d" stroke="#2b2f45" stroke-width="0.9"/>
<text x="212.8" y="166.2" font-family="Liberation Sans, sans-serif" font-size="11" fill="#111">Pd</text>
<rect x="261.5" y="156.5" width="19" height="9.8" fill="#779638" stroke="#33402a" stroke-width="0.9"/>
<text x="288" y="166.2" font-family="Liberation Sans, sans-serif" font-size="11" fill="#111">PdH<tspan font-size="7.5" dy="2">x</tspan></text>
<rect x="349" y="156" width="24" height="14.6" fill="#e1edf9"/><path d="M349.60,157.5 L349.60,169 M351.67,157.5 L351.67,169 M353.75,157.5 L353.75,169 M355.82,157.5 L355.82,169 M357.89,157.5 L357.89,169 M359.96,157.5 L359.96,169 M362.04,157.5 L362.04,169 M364.11,157.5 L364.11,169 M366.18,157.5 L366.18,169 M368.25,157.5 L368.25,169 M370.33,157.5 L370.33,169 M372.40,157.5 L372.40,169" stroke="#f6f9fd" stroke-width="0.7"/><circle cx="349.60" cy="156.7" r="0.8" fill="#8592a0"/><circle cx="349.60" cy="169.8" r="0.8" fill="#8592a0"/><circle cx="351.67" cy="156.7" r="0.8" fill="#8592a0"/><circle cx="351.67" cy="169.8" r="0.8" fill="#8592a0"/><circle cx="353.75" cy="156.7" r="0.8" fill="#8592a0"/><circle cx="353.75" cy="169.8" r="0.8" fill="#8592a0"/><circle cx="355.82" cy="156.7" r="0.8" fill="#8592a0"/><circle cx="355.82" cy="169.8" r="0.8" fill="#8592a0"/><circle cx="357.89" cy="156.7" r="0.8" fill="#8592a0"/><circle cx="357.89" cy="169.8" r="0.8" fill="#8592a0"/><circle cx="359.96" cy="156.7" r="0.8" fill="#8592a0"/><circle cx="359.96" cy="169.8" r="0.8" fill="#8592a0"/><circle cx="362.04" cy="156.7" r="0.8" fill="#8592a0"/><circle cx="362.04" cy="169.8" r="0.8" fill="#8592a0"/><circle cx="364.11" cy="156.7" r="0.8" fill="#8592a0"/><circle cx="364.11" cy="169.8" r="0.8" fill="#8592a0"/><circle cx="366.18" cy="156.7" r="0.8" fill="#8592a0"/><circle cx="366.18" cy="169.8" r="0.8" fill="#8592a0"/><circle cx="368.25" cy="156.7" r="0.8" fill="#8592a0"/><circle cx="368.25" cy="169.8" r="0.8" fill="#8592a0"/><circle cx="370.33" cy="156.7" r="0.8" fill="#8592a0"/><circle cx="370.33" cy="169.8" r="0.8" fill="#8592a0"/><circle cx="372.40" cy="156.7" r="0.8" fill="#8592a0"/><circle cx="372.40" cy="169.8" r="0.8" fill="#8592a0"/>
<text x="384" y="166.2" font-family="Liberation Sans, sans-serif" font-size="11" fill="#111" letter-spacing="0.15">Lipid bilayers</text>
<circle cx="493.7" cy="161.8" r="6.2" fill="#fb0052" stroke="#3a1020" stroke-width="0.95"/>
<text x="509" y="166.2" font-family="Liberation Sans, sans-serif" font-size="11" fill="#111">Proton</text>
<path d="M571.9,167.3 L572.82,167.79 L573.6,168.12 L574.16,168.16 L574.44,167.84 L574.45,167.18 L574.25,166.27 L573.97,165.25 L573.73,164.28 L573.67,163.52 L573.85,163.09 L574.32,163.01 L575.03,163.25 L575.92,163.71 L576.85,164.22 L577.7,164.62 L578.34,164.76 L578.71,164.56 L578.8,164.01 L578.67,163.17 L578.4,162.17 L578.13,161.16 L578,160.32 L578.09,159.77 L578.46,159.57 L579.1,159.72 L579.95,160.12 L580.88,160.63 L581.77,161.08 L582.48,161.33 L582.95,161.25 L583.13,160.81 L583.07,160.06 L582.83,159.09 L582.55,158.06 L582.35,157.15 L582.36,156.49 L582.64,156.18 L583.2,156.21 L583.98,156.54 L584.9,157.03 L585.82,157.52 L586.6,157.85 L587.16,157.89 L587.44,157.57 L587.45,156.92 L587.25,156 L586.97,154.98 L586.73,154.01 L586.67,153.25 L586.85,152.82 L587.32,152.74 L588.03,152.98 L588.92,153.44 L589.85,153.95 L590.7,154.35 L591.34,154.49 L591.71,154.3 L591.8,153.75 L591.67,152.9 L591.4,151.9" stroke="#f0966a" stroke-width="1.8" fill="none"/>
<text x="598.5" y="166.2" font-family="Liberation Sans, sans-serif" font-size="11" fill="#111">Cholesterol</text>
<text x="11.8" y="8.8" font-family="Liberation Sans, sans-serif" font-size="10.6" fill="#111">(a)</text>
<text x="11.3" y="206" font-family="Liberation Sans, sans-serif" font-size="10.6" fill="#111">(b)</text>
<text x="371.7" y="205.5" font-family="Liberation Sans, sans-serif" font-size="10.6" fill="#111">(c)</text>
<rect x="47.7" y="216.5" width="269.8" height="217.0" fill="none" stroke="#555" stroke-width="1.1"/><line x1="47.7" y1="224.3" x2="52.2" y2="224.3" stroke="#555" stroke-width="1"/><line x1="47.7" y1="274.8" x2="52.2" y2="274.8" stroke="#555" stroke-width="1"/><line x1="47.7" y1="325.3" x2="52.2" y2="325.3" stroke="#555" stroke-width="1"/><line x1="47.7" y1="375.8" x2="52.2" y2="375.8" stroke="#555" stroke-width="1"/><line x1="47.7" y1="426.3" x2="52.2" y2="426.3" stroke="#555" stroke-width="1"/><text x="43" y="227.79" font-family="Liberation Sans, sans-serif" font-size="11.7" fill="#1a1a1a" text-anchor="end">400</text><text x="42.9" y="278.44" font-family="Liberation Sans, sans-serif" font-size="11.7" fill="#1a1a1a" text-anchor="end">200</text><text x="40.9" y="328.94" font-family="Liberation Sans, sans-serif" font-size="11.7" fill="#1a1a1a" text-anchor="end">0</text><text x="42.4" y="379.79" font-family="Liberation Sans, sans-serif" font-size="11.7" fill="#1a1a1a" text-anchor="end">-200</text><text x="42.4" y="430.59" font-family="Liberation Sans, sans-serif" font-size="11.7" fill="#1a1a1a" text-anchor="end">-400</text><line x1="61.3" y1="433.5" x2="61.3" y2="429.3" stroke="#555" stroke-width="1"/><text x="60.6" y="448.4" font-family="Liberation Sans, sans-serif" font-size="11.7" fill="#1a1a1a" text-anchor="middle">0</text><line x1="121.66" y1="433.5" x2="121.66" y2="429.3" stroke="#555" stroke-width="1"/><text x="120.16" y="448.4" font-family="Liberation Sans, sans-serif" font-size="11.7" fill="#1a1a1a" text-anchor="middle">300</text><line x1="182.02" y1="433.5" x2="182.02" y2="429.3" stroke="#555" stroke-width="1"/><text x="180.52" y="448.4" font-family="Liberation Sans, sans-serif" font-size="11.7" fill="#1a1a1a" text-anchor="middle">600</text><line x1="242.38" y1="433.5" x2="242.38" y2="429.3" stroke="#555" stroke-width="1"/><text x="240.88" y="448.4" font-family="Liberation Sans, sans-serif" font-size="11.7" fill="#1a1a1a" text-anchor="middle">900</text><line x1="302.74" y1="433.5" x2="302.74" y2="429.3" stroke="#555" stroke-width="1"/><text x="301.24" y="448.4" font-family="Liberation Sans, sans-serif" font-size="11.7" fill="#1a1a1a" text-anchor="middle">1200</text>
<path d="M65.32,331.37 L65.32,342.15 M63.32,331.37 L67.32,331.37 M63.32,342.15 L67.32,342.15 M69.35,331.14 L69.35,340.88 M67.35,331.14 L71.35,331.14 M67.35,340.88 L71.35,340.88 M73.37,330.93 L73.37,339.86 M71.37,330.93 L75.37,330.93 M71.37,339.86 L75.37,339.86 M77.4,330.75 L77.4,339.04 M75.4,330.75 L79.4,330.75 M75.4,339.04 L79.4,339.04 M81.42,330.58 L81.42,338.38 M79.42,330.58 L83.42,330.58 M79.42,338.38 L83.42,338.38 M85.44,330.44 L85.44,337.85 M83.44,330.44 L87.44,330.44 M83.44,337.85 L87.44,337.85 M89.47,330.31 L89.47,337.42 M87.47,330.31 L91.47,330.31 M87.47,337.42 L91.47,337.42 M93.49,330.2 L93.49,337.08 M91.49,330.2 L95.49,330.2 M91.49,337.08 L95.49,337.08 M97.52,330.11 L97.52,336.81 M95.52,330.11 L99.52,330.11 M95.52,336.81 L99.52,336.81 M101.54,330.03 L101.54,336.58 M99.54,330.03 L103.54,330.03 M99.54,336.58 L103.54,336.58 M105.56,329.96 L105.56,336.41 M103.56,329.96 L107.56,329.96 M103.56,336.41 L107.56,336.41 M109.59,329.9 L109.59,336.26 M107.59,329.9 L111.59,329.9 M107.59,336.26 L111.59,336.26 M113.61,329.85 L113.61,336.15 M111.61,329.85 L115.61,329.85 M111.61,336.15 L115.61,336.15 M117.64,329.81 L117.64,336.05 M115.64,329.81 L119.64,329.81 M115.64,336.05 L119.64,336.05 M121.66,329.77 L121.66,335.98 M119.66,329.77 L123.66,329.77 M119.66,335.98 L123.66,335.98 M125.68,329.74 L125.68,335.91 M123.68,329.74 L127.68,329.74 M123.68,335.91 L127.68,335.91 M129.71,329.72 L129.71,335.86 M127.71,329.72 L131.71,329.72 M127.71,335.86 L131.71,335.86 M133.73,329.7 L133.73,335.82 M131.73,329.7 L135.73,329.7 M131.73,335.82 L135.73,335.82 M137.76,329.68 L137.76,335.79 M135.76,329.68 L139.76,329.68 M135.76,335.79 L139.76,335.79 M141.78,329.66 L141.78,335.77 M139.78,329.66 L143.78,329.66 M139.78,335.77 L143.78,335.77 M145.8,329.65 L145.8,335.74 M143.8,329.65 L147.8,329.65 M143.8,335.74 L147.8,335.74 M149.83,329.64 L149.83,335.73 M147.83,329.64 L151.83,329.64 M147.83,335.73 L151.83,335.73 M153.85,329.63 L153.85,335.71 M151.85,329.63 L155.85,329.63 M151.85,335.71 L155.85,335.71 M157.88,329.63 L157.88,335.7 M155.88,329.63 L159.88,329.63 M155.88,335.7 L159.88,335.7 M161.9,329.62 L161.9,335.69 M159.9,329.62 L163.9,329.62 M159.9,335.69 L163.9,335.69 M165.92,329.62 L165.92,335.68 M163.92,329.62 L167.92,329.62 M163.92,335.68 L167.92,335.68 M169.95,329.61 L169.95,335.68 M167.95,329.61 L171.95,329.61 M167.95,335.68 L171.95,335.68 M173.97,331.63 L173.97,333.65 M171.97,331.63 L175.97,331.63 M171.97,333.65 L175.97,333.65 M178,331.63 L178,333.65 M176,331.63 L180,331.63 M176,333.65 L180,333.65 M182.02,331.63 L182.02,333.65 M180.02,331.63 L184.02,331.63 M180.02,333.65 L184.02,333.65" stroke="#f7a030" stroke-width="1.0" fill="none"/>
<path d="M61.3,386.66 L61.3,386.63 L61.3,386.51 L61.3,386.24 L61.3,385.8 L61.3,385.17 L61.31,384.34 L61.31,383.28 L61.31,382.01 L61.32,380.53 L61.32,378.83 L61.33,376.95 L61.34,374.9 L61.35,372.7 L61.36,370.39 L61.37,367.99 L61.38,365.55 L61.39,363.09 L61.41,360.65 L61.42,358.26 L61.44,355.96 L61.46,353.76 L61.48,351.69 L61.5,349.76 L61.52,348 L61.54,346.4 L61.57,344.97 L61.59,343.7 L61.62,342.6 L61.65,341.65 L61.68,340.84 L61.71,340.15 L61.75,339.59 L61.78,339.12 L61.82,338.75 L61.86,338.44 L61.9,338.2 L61.94,338.02 L61.99,337.87 L62.04,337.76 L62.08,337.67 L62.13,337.6 L62.19,337.55 L62.24,337.5 L62.29,337.47 L62.35,337.44 L62.41,337.42 L62.47,337.4 L62.54,337.38 L62.6,337.36 L62.67,337.34 L62.74,337.33 L62.81,337.31 L62.88,337.29 L62.96,337.27 L63.04,337.25 L63.12,337.24 L63.2,337.22 L63.28,337.2 L63.37,337.18 L63.46,337.16 L63.55,337.14 L63.64,337.12 L63.74,337.1 L63.84,337.07 L63.94,337.05 L64.04,337.03 L64.15,337.01 L64.25,336.98 L64.36,336.96 L64.47,336.94 L64.59,336.91 L64.71,336.89 L64.83,336.86 L64.95,336.84 L65.07,336.81 L65.2,336.78 L65.33,336.76 L65.46,336.73 L65.6,336.7 L65.73,336.67 L65.87,336.65 L66.02,336.62 L66.16,336.59 L66.31,336.56 L66.46,336.53 L66.61,336.5 L66.77,336.47 L66.93,336.44 L67.09,336.41 L67.25,336.38 L67.42,336.35 L67.59,336.32 L67.76,336.29 L67.93,336.25 L68.11,336.22 L68.29,336.19 L68.48,336.16 L68.66,336.12 L68.85,336.09 L69.04,336.06 L69.24,336.03 L69.44,335.99 L69.64,335.96 L69.84,335.93 L70.05,335.89 L70.26,335.86 L70.47,335.82 L70.69,335.79 L70.91,335.76 L71.13,335.72 L71.35,335.69 L71.58,335.65 L71.81,335.62 L72.05,335.58 L72.28,335.55 L72.52,335.51 L72.77,335.48 L73.01,335.44 L73.26,335.41 L73.52,335.37 L73.77,335.34 L74.03,335.3 L74.29,335.27 L74.56,335.24 L74.83,335.2 L75.1,335.17 L75.38,335.13 L75.65,335.1 L75.94,335.06 L76.22,335.03 L76.51,334.99 L76.8,334.96 L77.1,334.93 L77.4,334.89 L77.7,334.86 L78,334.82 L78.31,334.79 L78.63,334.76 L78.94,334.72 L79.26,334.69 L79.58,334.66 L79.91,334.63 L80.24,334.59 L80.57,334.56 L80.91,334.53 L81.25,334.5 L81.59,334.46 L81.94,334.43 L82.29,334.4 L82.64,334.37 L83,334.34 L83.36,334.31 L83.72,334.28 L84.09,334.25 L84.46,334.22 L84.84,334.19 L85.22,334.16 L85.6,334.13 L85.99,334.1 L86.38,334.07 L86.77,334.05 L87.17,334.02 L87.57,333.99 L87.97,333.96 L88.38,333.94 L88.79,333.91 L89.21,333.88 L89.63,333.86 L90.05,333.83 L90.48,333.81 L90.91,333.78 L91.35,333.76 L91.79,333.73 L92.23,333.71 L92.67,333.68 L93.12,333.66 L93.58,333.64 L94.04,333.61 L94.5,333.59 L94.96,333.57 L95.43,333.55 L95.91,333.53 L96.38,333.51 L96.86,333.48 L97.35,333.46 L97.84,333.44 L98.33,333.42 L98.83,333.4 L99.33,333.39 L99.84,333.37 L100.34,333.35 L100.86,333.33 L101.37,333.31 L101.9,333.29 L102.42,333.28 L102.95,333.26 L103.48,333.24 L104.02,333.23 L104.56,333.21 L105.11,333.19 L105.66,333.18 L106.21,333.16 L106.77,333.15 L107.33,333.14 L107.9,333.12 L108.47,333.11 L109.04,333.09 L109.62,333.08 L110.2,333.07 L110.79,333.05 L111.38,333.04 L111.98,333.03 L112.58,333.02 L113.18,333.01 L113.79,332.99 L114.4,332.98 L115.02,332.97 L115.64,332.96 L116.27,332.95 L116.89,332.94 L117.53,332.93 L118.17,332.92 L118.81,332.91 L119.46,332.9 L120.11,332.89 L120.76,332.89 L121.42,332.88 L122.09,332.87 L122.76,332.86 L123.43,332.85 L124.11,332.85 L124.79,332.84 L125.48,332.83 L126.17,332.82 L126.86,332.82 L127.56,332.81 L128.26,332.8 L128.97,332.8 L129.69,332.79 L130.4,332.79 L131.13,332.78 L131.85,332.77 L132.58,332.77 L133.32,332.76 L134.06,332.76 L134.8,332.75 L135.55,332.75 L136.31,332.74 L137.07,332.74 L137.83,332.74 L138.6,332.73 L139.37,332.73 L140.15,332.72 L140.93,332.72 L141.71,332.72 L142.5,332.71 L143.3,332.71 L144.1,332.7 L144.9,332.7 L145.71,332.7 L146.53,332.7 L147.35,332.69 L148.17,332.69 L149,332.69 L149.83,332.68 L150.67,332.68 L151.51,332.68 L152.36,332.68 L153.21,332.67 L154.07,332.67 L154.93,332.67 L155.79,332.67 L156.66,332.67 L157.54,332.66 L158.42,332.66 L159.31,332.66 L160.2,332.66 L161.09,332.66 L161.99,332.66 L162.89,332.65 L163.8,332.65 L164.72,332.65 L165.64,332.65 L166.56,332.65 L167.49,332.65 L168.43,332.65 L169.36,332.65 L170.31,332.64 L171.26,332.64 L172.21,332.64 L173.17,332.64 L174.13,332.64 L175.1,332.64 L176.07,332.64 L177.05,332.64 L178.04,332.64 L179.02,332.64 L180.02,332.64 L181.02,332.64 L182.02,332.64 L183.69,279.35 L183.69,279.35 L183.69,279.39 L183.69,279.46 L183.69,279.57 L183.69,279.75 L183.7,279.97 L183.7,280.27 L183.7,280.63 L183.71,281.06 L183.71,281.56 L183.72,282.13 L183.73,282.78 L183.74,283.5 L183.75,284.29 L183.76,285.15 L183.77,286.08 L183.78,287.07 L183.8,288.12 L183.81,289.22 L183.83,290.37 L183.85,291.56 L183.87,292.78 L183.89,294.03 L183.91,295.3 L183.94,296.59 L183.96,297.88 L183.99,299.17 L184.02,300.45 L184.05,301.71 L184.08,302.95 L184.11,304.16 L184.15,305.34 L184.18,306.48 L184.22,307.58 L184.26,308.63 L184.3,309.63 L184.35,310.57 L184.39,311.47 L184.44,312.3 L184.49,313.08 L184.54,313.8 L184.59,314.47 L184.65,315.08 L184.7,315.64 L184.76,316.15 L184.82,316.61 L184.88,317.02 L184.95,317.39 L185.01,317.72 L185.08,318.01 L185.15,318.27 L185.23,318.49 L185.3,318.69 L185.38,318.86 L185.46,319 L185.54,319.13 L185.62,319.23 L185.71,319.32 L185.8,319.4 L185.89,319.46 L185.98,319.52 L186.08,319.56 L186.17,319.6 L186.27,319.63 L186.37,319.65 L186.48,319.67 L186.59,319.69 L186.7,319.7 L186.81,319.71 L186.92,319.72 L187.04,319.72 L187.16,319.73 L187.28,319.73 L187.4,319.74 L187.53,319.74 L187.66,319.74 L187.79,319.74 L187.93,319.74 L188.06,319.74 L188.2,319.74 L188.34,319.74 L188.49,319.74 L188.64,319.74 L188.79,319.74 L188.94,319.74 L189.1,319.74 L189.25,319.74 L189.42,319.74 L189.58,319.74 L189.75,319.74 L189.92,319.74 L190.09,319.74 L190.26,319.74 L190.44,319.74 L190.62,319.74 L190.81,319.74 L190.99,319.74 L191.18,319.74 L191.38,319.74 L191.57,319.74 L191.77,319.74 L191.97,319.74 L192.18,319.74 L192.38,319.74 L192.59,319.74 L192.81,319.74 L193.02,319.74 L193.24,319.74 L193.47,319.74 L193.69,319.74 L193.92,319.74 L194.15,319.74 L194.39,319.74 L194.63,319.74 L194.87,319.74 L195.11,319.74 L195.36,319.74 L195.61,319.74 L195.87,319.74 L196.12,319.74 L196.38,319.74 L196.65,319.74 L196.92,319.74 L197.19,319.74 L197.46,319.74 L197.74,319.74 L198.02,319.74 L198.3,319.74 L198.59,319.74 L198.88,319.74 L199.17,319.75 L199.47,319.75 L199.77,319.75 L200.07,319.75 L200.38,319.75 L200.69,319.75 L201.01,319.75 L201.32,319.75 L201.65,319.75 L201.97,319.75 L202.3,319.75 L202.63,319.75 L202.96,319.75 L203.3,319.75 L203.65,319.75 L203.99,319.75 L204.34,319.75 L204.69,319.75 L205.05,319.75 L205.41,319.75 L205.77,319.75 L206.14,319.75 L206.51,319.75 L206.89,319.75 L207.27,319.75 L207.65,319.75 L208.03,319.75 L208.42,319.75 L208.82,319.75 L209.21,319.75 L209.61,319.75 L210.02,319.75 L210.43,319.75 L210.84,319.75 L211.26,319.75 L211.67,319.75 L212.1,319.75 L212.53,319.75 L212.96,319.75 L213.39,319.75 L213.83,319.75 L214.27,319.75 L214.72,319.75 L215.17,319.75 L215.62,319.75 L216.08,319.75 L216.54,319.75 L217.01,319.75 L217.48,319.75 L217.95,319.75 L218.43,319.75 L218.91,319.75 L219.4,319.75 L219.89,319.75 L220.38,319.75 L220.88,319.75 L221.38,319.75 L221.89,319.75 L222.4,319.75 L222.91,319.75 L223.43,319.75 L223.95,319.75 L224.48,319.75 L225.01,319.75 L225.54,319.75 L226.08,319.75 L226.63,319.75 L227.17,319.75 L227.72,319.75 L228.28,319.75 L228.84,319.75 L229.4,319.75 L229.97,319.75 L230.54,319.75 L231.12,319.75 L231.7,319.75 L232.28,319.75 L232.87,319.75 L233.47,319.75 L234.06,319.75 L234.67,319.75 L235.27,319.75 L235.88,319.75 L236.5,319.75 L237.12,319.75 L237.74,319.75 L238.37,319.75 L239,319.75 L239.64,319.75 L240.28,319.75 L240.92,319.75 L241.57,319.75 L242.22,319.75 L242.88,319.75 L243.55,319.75 L244.21,319.75 L244.89,319.75 L245.56,319.75 L246.24,319.75 L246.93,319.75 L247.62,319.75 L248.31,319.75 L249.01,319.75 L249.71,319.75 L250.42,319.75 L251.13,319.75 L251.85,319.75 L252.57,319.75 L253.3,319.75 L254.03,319.75 L254.76,319.75 L255.5,319.75 L256.25,319.75 L256.99,319.75 L257.75,319.75 L258.51,319.75 L259.27,319.75 L260.04,319.75 L260.81,319.75 L261.58,319.75 L262.37,319.75 L263.15,319.75 L263.94,319.75 L264.74,319.75 L265.54,319.75 L266.34,319.75 L267.15,319.75 L267.97,319.75 L268.78,319.75 L269.61,319.75 L270.44,319.75 L271.27,319.75 L272.11,319.75 L272.95,319.75 L273.8,319.75 L274.65,319.75 L275.51,319.75 L276.37,319.75 L277.24,319.75 L278.11,319.75 L278.99,319.75 L279.87,319.75 L280.75,319.75 L281.65,319.75 L282.54,319.75 L283.44,319.75 L284.35,319.75 L285.26,319.75 L286.18,319.75 L287.1,319.75 L288.02,319.75 L288.95,319.75 L289.89,319.75 L290.83,319.75 L291.77,319.75 L292.73,319.75 L293.68,319.75 L294.64,319.75 L295.61,319.75 L296.58,319.75 L297.55,319.75 L298.53,319.75 L299.52,319.75 L300.51,319.75 L301.51,319.75 L302.51,319.75 L303.51,319.75 L304.53,319.75 L305.54,319.75 L306.56,319.75" stroke="#f7a030" stroke-width="1.4" fill="none" stroke-linejoin="round"/>
<path d="M65.32,351.66 L65.32,362.01 M63.32,351.66 L67.32,351.66 M63.32,362.01 L67.32,362.01 M69.35,350.4 L69.35,359.06 M67.35,350.4 L71.35,350.4 M67.35,359.06 L71.35,359.06 M73.37,349.86 L73.37,357.5 M71.37,349.86 L75.37,349.86 M71.37,357.5 L75.37,357.5 M77.4,349.45 L77.4,356.47 M75.4,349.45 L79.4,349.45 M75.4,356.47 L79.4,356.47 M81.42,349.13 L81.42,355.78 M79.42,349.13 L83.42,349.13 M79.42,355.78 L83.42,355.78 M85.44,348.9 L85.44,355.31 M83.44,348.9 L87.44,348.9 M83.44,355.31 L87.44,355.31 M89.47,348.73 L89.47,355 M87.47,348.73 L91.47,348.73 M87.47,355 L91.47,355 M93.49,348.6 L93.49,354.79 M91.49,348.6 L95.49,348.6 M91.49,354.79 L95.49,354.79 M97.52,348.51 L97.52,354.64 M95.52,348.51 L99.52,348.51 M95.52,354.64 L99.52,354.64 M101.54,348.44 L101.54,354.55 M99.54,348.44 L103.54,348.44 M99.54,354.55 L103.54,354.55 M105.56,348.39 L105.56,354.48 M103.56,348.39 L107.56,348.39 M103.56,354.48 L107.56,354.48 M109.59,348.36 L109.59,354.44 M107.59,348.36 L111.59,348.36 M107.59,354.44 L111.59,354.44 M113.61,348.33 L113.61,354.41 M111.61,348.33 L115.61,348.33 M111.61,354.41 L115.61,354.41 M117.64,348.32 L117.64,354.38 M115.64,348.32 L119.64,348.32 M115.64,354.38 L119.64,354.38 M121.66,348.31 L121.66,354.37 M119.66,348.31 L123.66,348.31 M119.66,354.37 L123.66,354.37 M125.68,348.3 L125.68,354.36 M123.68,348.3 L127.68,348.3 M123.68,354.36 L127.68,354.36 M129.71,348.29 L129.71,354.35 M127.71,348.29 L131.71,348.29 M127.71,354.35 L131.71,354.35 M133.73,348.29 L133.73,354.35 M131.73,348.29 L135.73,348.29 M131.73,354.35 L135.73,354.35 M137.76,348.28 L137.76,354.34 M135.76,348.28 L139.76,348.28 M135.76,354.34 L139.76,354.34 M141.78,348.28 L141.78,354.34 M139.78,348.28 L143.78,348.28 M139.78,354.34 L143.78,354.34 M145.8,348.28 L145.8,354.34 M143.8,348.28 L147.8,348.28 M143.8,354.34 L147.8,354.34 M149.83,348.28 L149.83,354.34 M147.83,348.28 L151.83,348.28 M147.83,354.34 L151.83,354.34 M153.85,348.28 L153.85,354.34 M151.85,348.28 L155.85,348.28 M151.85,354.34 L155.85,354.34 M157.88,348.28 L157.88,354.34 M155.88,348.28 L159.88,348.28 M155.88,354.34 L159.88,354.34 M161.9,348.28 L161.9,354.34 M159.9,348.28 L163.9,348.28 M159.9,354.34 L163.9,354.34 M165.92,348.28 L165.92,354.34 M163.92,348.28 L167.92,348.28 M163.92,354.34 L167.92,354.34 M169.95,348.28 L169.95,354.34 M167.95,348.28 L171.95,348.28 M167.95,354.34 L171.95,354.34 M173.97,348.28 L173.97,354.34 M171.97,348.28 L175.97,348.28 M171.97,354.34 L175.97,354.34 M178,348.28 L178,354.34 M176,348.28 L180,348.28 M176,354.34 L180,354.34 M182.02,348.28 L182.02,354.34 M180.02,348.28 L184.02,348.28 M180.02,354.34 L184.02,354.34" stroke="#3a56ae" stroke-width="1.0" fill="none"/>
<path d="M61.3,410.9 L61.3,410.89 L61.3,410.87 L61.3,410.83 L61.3,410.75 L61.3,410.64 L61.31,410.5 L61.31,410.31 L61.31,410.08 L61.32,409.81 L61.32,409.48 L61.33,409.11 L61.34,408.68 L61.35,408.2 L61.36,407.67 L61.37,407.08 L61.38,406.44 L61.39,405.75 L61.41,405 L61.42,404.21 L61.44,403.36 L61.46,402.46 L61.48,401.52 L61.5,400.53 L61.52,399.5 L61.54,398.43 L61.57,397.32 L61.59,396.18 L61.62,395.01 L61.65,393.81 L61.68,392.59 L61.71,391.35 L61.75,390.1 L61.78,388.83 L61.82,387.56 L61.86,386.28 L61.9,385.01 L61.94,383.74 L61.99,382.48 L62.04,381.23 L62.08,380 L62.13,378.78 L62.19,377.59 L62.24,376.42 L62.29,375.28 L62.35,374.17 L62.41,373.09 L62.47,372.05 L62.54,371.04 L62.6,370.07 L62.67,369.13 L62.74,368.24 L62.81,367.38 L62.88,366.57 L62.96,365.79 L63.04,365.06 L63.12,364.36 L63.2,363.71 L63.28,363.09 L63.37,362.51 L63.46,361.96 L63.55,361.45 L63.64,360.97 L63.74,360.53 L63.84,360.11 L63.94,359.73 L64.04,359.37 L64.15,359.04 L64.25,358.73 L64.36,358.45 L64.47,358.19 L64.59,357.95 L64.71,357.72 L64.83,357.52 L64.95,357.33 L65.07,357.15 L65.2,356.99 L65.33,356.83 L65.46,356.69 L65.6,356.56 L65.73,356.44 L65.87,356.32 L66.02,356.21 L66.16,356.11 L66.31,356.01 L66.46,355.92 L66.61,355.83 L66.77,355.75 L66.93,355.67 L67.09,355.59 L67.25,355.51 L67.42,355.44 L67.59,355.36 L67.76,355.29 L67.93,355.22 L68.11,355.16 L68.29,355.09 L68.48,355.02 L68.66,354.96 L68.85,354.89 L69.04,354.83 L69.24,354.77 L69.44,354.7 L69.64,354.64 L69.84,354.58 L70.05,354.52 L70.26,354.46 L70.47,354.4 L70.69,354.34 L70.91,354.28 L71.13,354.22 L71.35,354.16 L71.58,354.1 L71.81,354.04 L72.05,353.99 L72.28,353.93 L72.52,353.87 L72.77,353.82 L73.01,353.76 L73.26,353.71 L73.52,353.65 L73.77,353.6 L74.03,353.55 L74.29,353.49 L74.56,353.44 L74.83,353.39 L75.1,353.34 L75.38,353.29 L75.65,353.24 L75.94,353.19 L76.22,353.14 L76.51,353.1 L76.8,353.05 L77.1,353 L77.4,352.96 L77.7,352.91 L78,352.87 L78.31,352.83 L78.63,352.78 L78.94,352.74 L79.26,352.7 L79.58,352.66 L79.91,352.62 L80.24,352.58 L80.57,352.55 L80.91,352.51 L81.25,352.47 L81.59,352.44 L81.94,352.4 L82.29,352.37 L82.64,352.34 L83,352.3 L83.36,352.27 L83.72,352.24 L84.09,352.21 L84.46,352.18 L84.84,352.15 L85.22,352.12 L85.6,352.09 L85.99,352.07 L86.38,352.04 L86.77,352.02 L87.17,351.99 L87.57,351.97 L87.97,351.94 L88.38,351.92 L88.79,351.9 L89.21,351.88 L89.63,351.85 L90.05,351.83 L90.48,351.81 L90.91,351.79 L91.35,351.78 L91.79,351.76 L92.23,351.74 L92.67,351.72 L93.12,351.71 L93.58,351.69 L94.04,351.67 L94.5,351.66 L94.96,351.64 L95.43,351.63 L95.91,351.62 L96.38,351.6 L96.86,351.59 L97.35,351.58 L97.84,351.57 L98.33,351.56 L98.83,351.55 L99.33,351.53 L99.84,351.52 L100.34,351.52 L100.86,351.51 L101.37,351.5 L101.9,351.49 L102.42,351.48 L102.95,351.47 L103.48,351.46 L104.02,351.46 L104.56,351.45 L105.11,351.44 L105.66,351.44 L106.21,351.43 L106.77,351.42 L107.33,351.42 L107.9,351.41 L108.47,351.41 L109.04,351.4 L109.62,351.4 L110.2,351.39 L110.79,351.39 L111.38,351.38 L111.98,351.38 L112.58,351.38 L113.18,351.37 L113.79,351.37 L114.4,351.37 L115.02,351.36 L115.64,351.36 L116.27,351.36 L116.89,351.35 L117.53,351.35 L118.17,351.35 L118.81,351.35 L119.46,351.34 L120.11,351.34 L120.76,351.34 L121.42,351.34 L122.09,351.34 L122.76,351.33 L123.43,351.33 L124.11,351.33 L124.79,351.33 L125.48,351.33 L126.17,351.33 L126.86,351.33 L127.56,351.33 L128.26,351.32 L128.97,351.32 L129.69,351.32 L130.4,351.32 L131.13,351.32 L131.85,351.32 L132.58,351.32 L133.32,351.32 L134.06,351.32 L134.8,351.32 L135.55,351.32 L136.31,351.32 L137.07,351.32 L137.83,351.31 L138.6,351.31 L139.37,351.31 L140.15,351.31 L140.93,351.31 L141.71,351.31 L142.5,351.31 L143.3,351.31 L144.1,351.31 L144.9,351.31 L145.71,351.31 L146.53,351.31 L147.35,351.31 L148.17,351.31 L149,351.31 L149.83,351.31 L150.67,351.31 L151.51,351.31 L152.36,351.31 L153.21,351.31 L154.07,351.31 L154.93,351.31 L155.79,351.31 L156.66,351.31 L157.54,351.31 L158.42,351.31 L159.31,351.31 L160.2,351.31 L161.09,351.31 L161.99,351.31 L162.89,351.31 L163.8,351.31 L164.72,351.31 L165.64,351.31 L166.56,351.31 L167.49,351.31 L168.43,351.31 L169.36,351.31 L170.31,351.31 L171.26,351.31 L172.21,351.31 L173.17,351.31 L174.13,351.31 L175.1,351.31 L176.07,351.31 L177.05,351.31 L178.04,351.31 L179.02,351.31 L180.02,351.31 L181.02,351.31 L182.02,351.31 L183.69,252.08 L183.69,252.09 L183.69,252.14 L183.69,252.26 L183.69,252.46 L183.69,252.75 L183.7,253.13 L183.7,253.62 L183.7,254.22 L183.71,254.94 L183.71,255.78 L183.72,256.74 L183.73,257.83 L183.74,259.03 L183.75,260.36 L183.76,261.8 L183.77,263.35 L183.78,265.01 L183.8,266.77 L183.81,268.61 L183.83,270.54 L183.85,272.53 L183.87,274.58 L183.89,276.67 L183.91,278.8 L183.94,280.96 L183.96,283.12 L183.99,285.27 L184.02,287.42 L184.05,289.54 L184.08,291.62 L184.11,293.65 L184.15,295.62 L184.18,297.53 L184.22,299.37 L184.26,301.13 L184.3,302.8 L184.35,304.39 L184.39,305.88 L184.44,307.28 L184.49,308.58 L184.54,309.79 L184.59,310.91 L184.65,311.93 L184.7,312.87 L184.76,313.72 L184.82,314.49 L184.88,315.18 L184.95,315.8 L185.01,316.35 L185.08,316.84 L185.15,317.27 L185.23,317.64 L185.3,317.97 L185.38,318.25 L185.46,318.5 L185.54,318.71 L185.62,318.89 L185.71,319.04 L185.8,319.17 L185.89,319.27 L185.98,319.36 L186.08,319.44 L186.17,319.5 L186.27,319.55 L186.37,319.59 L186.48,319.62 L186.59,319.65 L186.7,319.67 L186.81,319.69 L186.92,319.7 L187.04,319.71 L187.16,319.72 L187.28,319.72 L187.4,319.73 L187.53,319.73 L187.66,319.74 L187.79,319.74 L187.93,319.74 L188.06,319.74 L188.2,319.74 L188.34,319.74 L188.49,319.74 L188.64,319.74 L188.79,319.74 L188.94,319.74 L189.1,319.74 L189.25,319.74 L189.42,319.74 L189.58,319.74 L189.75,319.74 L189.92,319.74 L190.09,319.74 L190.26,319.74 L190.44,319.74 L190.62,319.74 L190.81,319.74 L190.99,319.74 L191.18,319.74 L191.38,319.74 L191.57,319.74 L191.77,319.74 L191.97,319.74 L192.18,319.74 L192.38,319.74 L192.59,319.74 L192.81,319.74 L193.02,319.74 L193.24,319.74 L193.47,319.74 L193.69,319.74 L193.92,319.74 L194.15,319.74 L194.39,319.74 L194.63,319.74 L194.87,319.74 L195.11,319.74 L195.36,319.74 L195.61,319.74 L195.87,319.74 L196.12,319.74 L196.38,319.74 L196.65,319.74 L196.92,319.74 L197.19,319.74 L197.46,319.74 L197.74,319.74 L198.02,319.74 L198.3,319.74 L198.59,319.74 L198.88,319.74 L199.17,319.74 L199.47,319.75 L199.77,319.75 L200.07,319.75 L200.38,319.75 L200.69,319.75 L201.01,319.75 L201.32,319.75 L201.65,319.75 L201.97,319.75 L202.3,319.75 L202.63,319.75 L202.96,319.75 L203.3,319.75 L203.65,319.75 L203.99,319.75 L204.34,319.75 L204.69,319.75 L205.05,319.75 L205.41,319.75 L205.77,319.75 L206.14,319.75 L206.51,319.75 L206.89,319.75 L207.27,319.75 L207.65,319.75 L208.03,319.75 L208.42,319.75 L208.82,319.75 L209.21,319.75 L209.61,319.75 L210.02,319.75 L210.43,319.75 L210.84,319.75 L211.26,319.75 L211.67,319.75 L212.1,319.75 L212.53,319.75 L212.96,319.75 L213.39,319.75 L213.83,319.75 L214.27,319.75 L214.72,319.75 L215.17,319.75 L215.62,319.75 L216.08,319.75 L216.54,319.75 L217.01,319.75 L217.48,319.75 L217.95,319.75 L218.43,319.75 L218.91,319.75 L219.4,319.75 L219.89,319.75 L220.38,319.75 L220.88,319.75 L221.38,319.75 L221.89,319.75 L222.4,319.75 L222.91,319.75 L223.43,319.75 L223.95,319.75 L224.48,319.75 L225.01,319.75 L225.54,319.75 L226.08,319.75 L226.63,319.75 L227.17,319.75 L227.72,319.75 L228.28,319.75 L228.84,319.75 L229.4,319.75 L229.97,319.75 L230.54,319.75 L231.12,319.75 L231.7,319.75 L232.28,319.75 L232.87,319.75 L233.47,319.75 L234.06,319.75 L234.67,319.75 L235.27,319.75 L235.88,319.75 L236.5,319.75 L237.12,319.75 L237.74,319.75 L238.37,319.75 L239,319.75 L239.64,319.75 L240.28,319.75 L240.92,319.75 L241.57,319.75 L242.22,319.75 L242.88,319.75 L243.55,319.75 L244.21,319.75 L244.89,319.75 L245.56,319.75 L246.24,319.75 L246.93,319.75 L247.62,319.75 L248.31,319.75 L249.01,319.75 L249.71,319.75 L250.42,319.75 L251.13,319.75 L251.85,319.75 L252.57,319.75 L253.3,319.75 L254.03,319.75 L254.76,319.75 L255.5,319.75 L256.25,319.75 L256.99,319.75 L257.75,319.75 L258.51,319.75 L259.27,319.75 L260.04,319.75 L260.81,319.75 L261.58,319.75 L262.37,319.75 L263.15,319.75 L263.94,319.75 L264.74,319.75 L265.54,319.75 L266.34,319.75 L267.15,319.75 L267.97,319.75 L268.78,319.75 L269.61,319.75 L270.44,319.75 L271.27,319.75 L272.11,319.75 L272.95,319.75 L273.8,319.75 L274.65,319.75 L275.51,319.75 L276.37,319.75 L277.24,319.75 L278.11,319.75 L278.99,319.75 L279.87,319.75 L280.75,319.75 L281.65,319.75 L282.54,319.75 L283.44,319.75 L284.35,319.75 L285.26,319.75 L286.18,319.75 L287.1,319.75 L288.02,319.75 L288.95,319.75 L289.89,319.75 L290.83,319.75 L291.77,319.75 L292.73,319.75 L293.68,319.75 L294.64,319.75 L295.61,319.75 L296.58,319.75 L297.55,319.75 L298.53,319.75 L299.52,319.75 L300.51,319.75 L301.51,319.75 L302.51,319.75 L303.51,319.75 L304.53,319.75 L305.54,319.75 L306.56,319.75" stroke="#3a56ae" stroke-width="1.4" fill="none" stroke-linejoin="round"/>
<path d="M65.32,321.26 L65.32,322.78 M63.32,321.26 L67.32,321.26 M63.32,322.78 L67.32,322.78 M69.35,321.26 L69.35,322.78 M67.35,321.26 L71.35,321.26 M67.35,322.78 L71.35,322.78 M73.37,321.26 L73.37,322.78 M71.37,321.26 L75.37,321.26 M71.37,322.78 L75.37,322.78 M77.4,321.26 L77.4,322.78 M75.4,321.26 L79.4,321.26 M75.4,322.78 L79.4,322.78 M81.42,321.26 L81.42,322.78 M79.42,321.26 L83.42,321.26 M79.42,322.78 L83.42,322.78 M85.44,321.26 L85.44,322.78 M83.44,321.26 L87.44,321.26 M83.44,322.78 L87.44,322.78 M89.47,321.26 L89.47,322.78 M87.47,321.26 L91.47,321.26 M87.47,322.78 L91.47,322.78 M93.49,321.26 L93.49,322.78 M91.49,321.26 L95.49,321.26 M91.49,322.78 L95.49,322.78 M97.52,321.26 L97.52,322.78 M95.52,321.26 L99.52,321.26 M95.52,322.78 L99.52,322.78 M101.54,321.26 L101.54,322.78 M99.54,321.26 L103.54,321.26 M99.54,322.78 L103.54,322.78 M105.56,321.26 L105.56,322.78 M103.56,321.26 L107.56,321.26 M103.56,322.78 L107.56,322.78 M109.59,321.26 L109.59,322.78 M107.59,321.26 L111.59,321.26 M107.59,322.78 L111.59,322.78 M113.61,321.26 L113.61,322.78 M111.61,321.26 L115.61,321.26 M111.61,322.78 L115.61,322.78 M117.64,321.26 L117.64,322.78 M115.64,321.26 L119.64,321.26 M115.64,322.78 L119.64,322.78 M121.66,321.26 L121.66,322.78 M119.66,321.26 L123.66,321.26 M119.66,322.78 L123.66,322.78 M125.68,321.26 L125.68,322.78 M123.68,321.26 L127.68,321.26 M123.68,322.78 L127.68,322.78 M129.71,321.26 L129.71,322.78 M127.71,321.26 L131.71,321.26 M127.71,322.78 L131.71,322.78 M133.73,321.26 L133.73,322.78 M131.73,321.26 L135.73,321.26 M131.73,322.78 L135.73,322.78 M137.76,321.26 L137.76,322.78 M135.76,321.26 L139.76,321.26 M135.76,322.78 L139.76,322.78 M141.78,321.26 L141.78,322.78 M139.78,321.26 L143.78,321.26 M139.78,322.78 L143.78,322.78 M145.8,321.26 L145.8,322.78 M143.8,321.26 L147.8,321.26 M143.8,322.78 L147.8,322.78 M149.83,321.26 L149.83,322.78 M147.83,321.26 L151.83,321.26 M147.83,322.78 L151.83,322.78 M153.85,321.26 L153.85,322.78 M151.85,321.26 L155.85,321.26 M151.85,322.78 L155.85,322.78 M157.88,321.26 L157.88,322.78 M155.88,321.26 L159.88,321.26 M155.88,322.78 L159.88,322.78 M161.9,321.26 L161.9,322.78 M159.9,321.26 L163.9,321.26 M159.9,322.78 L163.9,322.78 M165.92,321.26 L165.92,322.78 M163.92,321.26 L167.92,321.26 M163.92,322.78 L167.92,322.78 M169.95,321.26 L169.95,322.78 M167.95,321.26 L171.95,321.26 M167.95,322.78 L171.95,322.78 M173.97,321.26 L173.97,322.78 M171.97,321.26 L175.97,321.26 M171.97,322.78 L175.97,322.78 M178,321.26 L178,322.78 M176,321.26 L180,321.26 M176,322.78 L180,322.78 M182.02,321.26 L182.02,322.78 M180.02,321.26 L184.02,321.26 M180.02,322.78 L184.02,322.78" stroke="#8e1c22" stroke-width="0.9" fill="none"/>
<path d="M186.04,314.94 L186.04,321 M184.04,314.94 L188.04,314.94 M184.04,321 L188.04,321 M190.07,314.95 L190.07,321.01 M188.07,314.95 L192.07,314.95 M188.07,321.01 L192.07,321.01 M194.09,314.95 L194.09,321.01 M192.09,314.95 L196.09,314.95 M192.09,321.01 L196.09,321.01 M198.12,314.95 L198.12,321.01 M196.12,314.95 L200.12,314.95 M196.12,321.01 L200.12,321.01 M202.14,314.95 L202.14,321.01 M200.14,314.95 L204.14,314.95 M200.14,321.01 L204.14,321.01 M206.16,314.95 L206.16,321.01 M204.16,314.95 L208.16,314.95 M204.16,321.01 L208.16,321.01 M210.19,314.95 L210.19,321.01 M208.19,314.95 L212.19,314.95 M208.19,321.01 L212.19,321.01 M214.21,314.95 L214.21,321.01 M212.21,314.95 L216.21,314.95 M212.21,321.01 L216.21,321.01 M218.24,314.95 L218.24,321.01 M216.24,314.95 L220.24,314.95 M216.24,321.01 L220.24,321.01 M222.26,314.95 L222.26,321.01 M220.26,314.95 L224.26,314.95 M220.26,321.01 L224.26,321.01 M226.28,314.95 L226.28,321.01 M224.28,314.95 L228.28,314.95 M224.28,321.01 L228.28,321.01 M230.31,314.95 L230.31,321.01 M228.31,314.95 L232.31,314.95 M228.31,321.01 L232.31,321.01 M234.33,314.95 L234.33,321.01 M232.33,314.95 L236.33,314.95 M232.33,321.01 L236.33,321.01 M238.36,314.95 L238.36,321.01 M236.36,314.95 L240.36,314.95 M236.36,321.01 L240.36,321.01 M242.38,314.95 L242.38,321.01 M240.38,314.95 L244.38,314.95 M240.38,321.01 L244.38,321.01 M246.4,314.95 L246.4,321.01 M244.4,314.95 L248.4,314.95 M244.4,321.01 L248.4,321.01 M250.43,314.95 L250.43,321.01 M248.43,314.95 L252.43,314.95 M248.43,321.01 L252.43,321.01 M254.45,314.95 L254.45,321.01 M252.45,314.95 L256.45,314.95 M252.45,321.01 L256.45,321.01 M258.48,314.95 L258.48,321.01 M256.48,314.95 L260.48,314.95 M256.48,321.01 L260.48,321.01 M262.5,314.95 L262.5,321.01 M260.5,314.95 L264.5,314.95 M260.5,321.01 L264.5,321.01 M266.52,314.95 L266.52,321.01 M264.52,314.95 L268.52,314.95 M264.52,321.01 L268.52,321.01 M270.55,314.95 L270.55,321.01 M268.55,314.95 L272.55,314.95 M268.55,321.01 L272.55,321.01 M274.57,314.95 L274.57,321.01 M272.57,314.95 L276.57,314.95 M272.57,321.01 L276.57,321.01 M278.6,314.95 L278.6,321.01 M276.6,314.95 L280.6,314.95 M276.6,321.01 L280.6,321.01 M282.62,314.95 L282.62,321.01 M280.62,314.95 L284.62,314.95 M280.62,321.01 L284.62,321.01 M286.64,314.95 L286.64,321.01 M284.64,314.95 L288.64,314.95 M284.64,321.01 L288.64,321.01 M290.67,314.95 L290.67,321.01 M288.67,314.95 L292.67,314.95 M288.67,321.01 L292.67,321.01 M294.69,314.95 L294.69,321.01 M292.69,314.95 L296.69,314.95 M292.69,321.01 L296.69,321.01 M298.72,314.95 L298.72,321.01 M296.72,314.95 L300.72,314.95 M296.72,321.01 L300.72,321.01 M302.74,314.95 L302.74,321.01 M300.74,314.95 L304.74,314.95 M300.74,321.01 L304.74,321.01" stroke="#8e1c22" stroke-width="1.0" fill="none"/>
<path d="M61.3,339.69 L61.3,339.69 L61.3,339.67 L61.3,339.62 L61.3,339.55 L61.3,339.44 L61.31,339.3 L61.31,339.11 L61.31,338.89 L61.32,338.62 L61.32,338.31 L61.33,337.96 L61.34,337.57 L61.35,337.13 L61.36,336.66 L61.37,336.15 L61.38,335.61 L61.39,335.04 L61.41,334.44 L61.42,333.82 L61.44,333.19 L61.46,332.54 L61.48,331.89 L61.5,331.24 L61.52,330.59 L61.54,329.94 L61.57,329.32 L61.59,328.7 L61.62,328.11 L61.65,327.55 L61.68,327.01 L61.71,326.5 L61.75,326.02 L61.78,325.57 L61.82,325.15 L61.86,324.77 L61.9,324.42 L61.94,324.1 L61.99,323.82 L62.04,323.56 L62.08,323.33 L62.13,323.13 L62.19,322.96 L62.24,322.8 L62.29,322.67 L62.35,322.56 L62.41,322.46 L62.47,322.38 L62.54,322.31 L62.6,322.25 L62.67,322.21 L62.74,322.17 L62.81,322.14 L62.88,322.11 L62.96,322.09 L63.04,322.07 L63.12,322.06 L63.2,322.05 L63.28,322.04 L63.37,322.04 L63.46,322.03 L63.55,322.03 L63.64,322.02 L63.74,322.02 L63.84,322.02 L63.94,322.02 L64.04,322.02 L64.15,322.02 L64.25,322.02 L64.36,322.02 L64.47,322.02 L64.59,322.02 L64.71,322.02 L64.83,322.02 L64.95,322.02 L65.07,322.02 L65.2,322.02 L65.33,322.02 L65.46,322.02 L65.6,322.02 L65.73,322.02 L65.87,322.02 L66.02,322.02 L66.16,322.02 L66.31,322.02 L66.46,322.02 L66.61,322.02 L66.77,322.02 L66.93,322.02 L67.09,322.02 L67.25,322.02 L67.42,322.02 L67.59,322.02 L67.76,322.02 L67.93,322.02 L68.11,322.02 L68.29,322.02 L68.48,322.02 L68.66,322.02 L68.85,322.02 L69.04,322.02 L69.24,322.02 L69.44,322.02 L69.64,322.02 L69.84,322.02 L70.05,322.02 L70.26,322.02 L70.47,322.02 L70.69,322.02 L70.91,322.02 L71.13,322.02 L71.35,322.02 L71.58,322.02 L71.81,322.02 L72.05,322.02 L72.28,322.02 L72.52,322.02 L72.77,322.02 L73.01,322.02 L73.26,322.02 L73.52,322.02 L73.77,322.02 L74.03,322.02 L74.29,322.02 L74.56,322.02 L74.83,322.02 L75.1,322.02 L75.38,322.02 L75.65,322.02 L75.94,322.02 L76.22,322.02 L76.51,322.02 L76.8,322.02 L77.1,322.02 L77.4,322.02 L77.7,322.02 L78,322.02 L78.31,322.02 L78.63,322.02 L78.94,322.02 L79.26,322.02 L79.58,322.02 L79.91,322.02 L80.24,322.02 L80.57,322.02 L80.91,322.02 L81.25,322.02 L81.59,322.02 L81.94,322.02 L82.29,322.02 L82.64,322.02 L83,322.02 L83.36,322.02 L83.72,322.02 L84.09,322.02 L84.46,322.02 L84.84,322.02 L85.22,322.02 L85.6,322.02 L85.99,322.02 L86.38,322.02 L86.77,322.02 L87.17,322.02 L87.57,322.02 L87.97,322.02 L88.38,322.02 L88.79,322.02 L89.21,322.02 L89.63,322.02 L90.05,322.02 L90.48,322.02 L90.91,322.02 L91.35,322.02 L91.79,322.02 L92.23,322.02 L92.67,322.02 L93.12,322.02 L93.58,322.02 L94.04,322.02 L94.5,322.02 L94.96,322.02 L95.43,322.02 L95.91,322.02 L96.38,322.02 L96.86,322.02 L97.35,322.02 L97.84,322.02 L98.33,322.02 L98.83,322.02 L99.33,322.02 L99.84,322.02 L100.34,322.02 L100.86,322.02 L101.37,322.02 L101.9,322.02 L102.42,322.02 L102.95,322.02 L103.48,322.02 L104.02,322.02 L104.56,322.02 L105.11,322.02 L105.66,322.02 L106.21,322.02 L106.77,322.02 L107.33,322.02 L107.9,322.02 L108.47,322.02 L109.04,322.02 L109.62,322.02 L110.2,322.02 L110.79,322.02 L111.38,322.02 L111.98,322.02 L112.58,322.02 L113.18,322.02 L113.79,322.02 L114.4,322.02 L115.02,322.02 L115.64,322.02 L116.27,322.02 L116.89,322.02 L117.53,322.02 L118.17,322.02 L118.81,322.02 L119.46,322.02 L120.11,322.02 L120.76,322.02 L121.42,322.02 L122.09,322.02 L122.76,322.02 L123.43,322.02 L124.11,322.02 L124.79,322.02 L125.48,322.02 L126.17,322.02 L126.86,322.02 L127.56,322.02 L128.26,322.02 L128.97,322.02 L129.69,322.02 L130.4,322.02 L131.13,322.02 L131.85,322.02 L132.58,322.02 L133.32,322.02 L134.06,322.02 L134.8,322.02 L135.55,322.02 L136.31,322.02 L137.07,322.02 L137.83,322.02 L138.6,322.02 L139.37,322.02 L140.15,322.02 L140.93,322.02 L141.71,322.02 L142.5,322.02 L143.3,322.02 L144.1,322.02 L144.9,322.02 L145.71,322.02 L146.53,322.02 L147.35,322.02 L148.17,322.02 L149,322.02 L149.83,322.02 L150.67,322.02 L151.51,322.02 L152.36,322.02 L153.21,322.02 L154.07,322.02 L154.93,322.02 L155.79,322.02 L156.66,322.02 L157.54,322.02 L158.42,322.02 L159.31,322.02 L160.2,322.02 L161.09,322.02 L161.99,322.02 L162.89,322.02 L163.8,322.02 L164.72,322.02 L165.64,322.02 L166.56,322.02 L167.49,322.02 L168.43,322.02 L169.36,322.02 L170.31,322.02 L171.26,322.02 L172.21,322.02 L173.17,322.02 L174.13,322.02 L175.1,322.02 L176.07,322.02 L177.05,322.02 L178.04,322.02 L179.02,322.02 L180.02,322.02 L181.02,322.02 L182.02,322.02 L183.69,313.94 L183.69,313.94 L183.69,313.94 L183.69,313.95 L183.69,313.96 L183.69,313.98 L183.7,314.01 L183.7,314.04 L183.7,314.08 L183.71,314.13 L183.71,314.18 L183.72,314.24 L183.73,314.31 L183.74,314.39 L183.75,314.48 L183.76,314.57 L183.77,314.67 L183.78,314.78 L183.8,314.89 L183.81,315.01 L183.83,315.13 L183.85,315.26 L183.87,315.39 L183.89,315.52 L183.91,315.65 L183.94,315.79 L183.96,315.92 L183.99,316.05 L184.02,316.18 L184.05,316.31 L184.08,316.44 L184.11,316.56 L184.15,316.68 L184.18,316.79 L184.22,316.9 L184.26,317 L184.3,317.1 L184.35,317.19 L184.39,317.27 L184.44,317.35 L184.49,317.42 L184.54,317.49 L184.59,317.55 L184.65,317.6 L184.7,317.65 L184.76,317.7 L184.82,317.73 L184.88,317.77 L184.95,317.8 L185.01,317.83 L185.08,317.85 L185.15,317.87 L185.23,317.89 L185.3,317.9 L185.38,317.92 L185.46,317.93 L185.54,317.94 L185.62,317.94 L185.71,317.95 L185.8,317.96 L185.89,317.96 L185.98,317.96 L186.08,317.97 L186.17,317.97 L186.27,317.97 L186.37,317.97 L186.48,317.97 L186.59,317.97 L186.7,317.98 L186.81,317.98 L186.92,317.98 L187.04,317.98 L187.16,317.98 L187.28,317.98 L187.4,317.98 L187.53,317.98 L187.66,317.98 L187.79,317.98 L187.93,317.98 L188.06,317.98 L188.2,317.98 L188.34,317.98 L188.49,317.98 L188.64,317.98 L188.79,317.98 L188.94,317.98 L189.1,317.98 L189.25,317.98 L189.42,317.98 L189.58,317.98 L189.75,317.98 L189.92,317.98 L190.09,317.98 L190.26,317.98 L190.44,317.98 L190.62,317.98 L190.81,317.98 L190.99,317.98 L191.18,317.98 L191.38,317.98 L191.57,317.98 L191.77,317.98 L191.97,317.98 L192.18,317.98 L192.38,317.98 L192.59,317.98 L192.81,317.98 L193.02,317.98 L193.24,317.98 L193.47,317.98 L193.69,317.98 L193.92,317.98 L194.15,317.98 L194.39,317.98 L194.63,317.98 L194.87,317.98 L195.11,317.98 L195.36,317.98 L195.61,317.98 L195.87,317.98 L196.12,317.98 L196.38,317.98 L196.65,317.98 L196.92,317.98 L197.19,317.98 L197.46,317.98 L197.74,317.98 L198.02,317.98 L198.3,317.98 L198.59,317.98 L198.88,317.98 L199.17,317.98 L199.47,317.98 L199.77,317.98 L200.07,317.98 L200.38,317.98 L200.69,317.98 L201.01,317.98 L201.32,317.98 L201.65,317.98 L201.97,317.98 L202.3,317.98 L202.63,317.98 L202.96,317.98 L203.3,317.98 L203.65,317.98 L203.99,317.98 L204.34,317.98 L204.69,317.98 L205.05,317.98 L205.41,317.98 L205.77,317.98 L206.14,317.98 L206.51,317.98 L206.89,317.98 L207.27,317.98 L207.65,317.98 L208.03,317.98 L208.42,317.98 L208.82,317.98 L209.21,317.98 L209.61,317.98 L210.02,317.98 L210.43,317.98 L210.84,317.98 L211.26,317.98 L211.67,317.98 L212.1,317.98 L212.53,317.98 L212.96,317.98 L213.39,317.98 L213.83,317.98 L214.27,317.98 L214.72,317.98 L215.17,317.98 L215.62,317.98 L216.08,317.98 L216.54,317.98 L217.01,317.98 L217.48,317.98 L217.95,317.98 L218.43,317.98 L218.91,317.98 L219.4,317.98 L219.89,317.98 L220.38,317.98 L220.88,317.98 L221.38,317.98 L221.89,317.98 L222.4,317.98 L222.91,317.98 L223.43,317.98 L223.95,317.98 L224.48,317.98 L225.01,317.98 L225.54,317.98 L226.08,317.98 L226.63,317.98 L227.17,317.98 L227.72,317.98 L228.28,317.98 L228.84,317.98 L229.4,317.98 L229.97,317.98 L230.54,317.98 L231.12,317.98 L231.7,317.98 L232.28,317.98 L232.87,317.98 L233.47,317.98 L234.06,317.98 L234.67,317.98 L235.27,317.98 L235.88,317.98 L236.5,317.98 L237.12,317.98 L237.74,317.98 L238.37,317.98 L239,317.98 L239.64,317.98 L240.28,317.98 L240.92,317.98 L241.57,317.98 L242.22,317.98 L242.88,317.98 L243.55,317.98 L244.21,317.98 L244.89,317.98 L245.56,317.98 L246.24,317.98 L246.93,317.98 L247.62,317.98 L248.31,317.98 L249.01,317.98 L249.71,317.98 L250.42,317.98 L251.13,317.98 L251.85,317.98 L252.57,317.98 L253.3,317.98 L254.03,317.98 L254.76,317.98 L255.5,317.98 L256.25,317.98 L256.99,317.98 L257.75,317.98 L258.51,317.98 L259.27,317.98 L260.04,317.98 L260.81,317.98 L261.58,317.98 L262.37,317.98 L263.15,317.98 L263.94,317.98 L264.74,317.98 L265.54,317.98 L266.34,317.98 L267.15,317.98 L267.97,317.98 L268.78,317.98 L269.61,317.98 L270.44,317.98 L271.27,317.98 L272.11,317.98 L272.95,317.98 L273.8,317.98 L274.65,317.98 L275.51,317.98 L276.37,317.98 L277.24,317.98 L278.11,317.98 L278.99,317.98 L279.87,317.98 L280.75,317.98 L281.65,317.98 L282.54,317.98 L283.44,317.98 L284.35,317.98 L285.26,317.98 L286.18,317.98 L287.1,317.98 L288.02,317.98 L288.95,317.98 L289.89,317.98 L290.83,317.98 L291.77,317.98 L292.73,317.98 L293.68,317.98 L294.64,317.98 L295.61,317.98 L296.58,317.98 L297.55,317.98 L298.53,317.98 L299.52,317.98 L300.51,317.98 L301.51,317.98 L302.51,317.98 L303.51,317.98 L304.53,317.98 L305.54,317.98 L306.56,317.98" stroke="#8e1c22" stroke-width="1.4" fill="none" stroke-linejoin="round"/>
<path d="M183.69,279.35 L183.69,279.35 L183.69,279.39 L183.69,279.46 L183.69,279.57 L183.69,279.75 L183.7,279.97 L183.7,280.27 L183.7,280.63 L183.71,281.06 L183.71,281.56 L183.72,282.13 L183.73,282.78 L183.74,283.5 L183.75,284.29 L183.76,285.15 L183.77,286.08 L183.78,287.07 L183.8,288.12 L183.81,289.22 L183.83,290.37 L183.85,291.56 L183.87,292.78 L183.89,294.03 L183.91,295.3 L183.94,296.59 L183.96,297.88 L183.99,299.17 L184.02,300.45 L184.05,301.71 L184.08,302.95 L184.11,304.16 L184.15,305.34 L184.18,306.48 L184.22,307.58 L184.26,308.63 L184.3,309.63 L184.35,310.57 L184.39,311.47 L184.44,312.3 L184.49,313.08 L184.54,313.8 L184.59,314.47 L184.65,315.08 L184.7,315.64 L184.76,316.15 L184.82,316.61 L184.88,317.02 L184.95,317.39 L185.01,317.72 L185.08,318.01 L185.15,318.27 L185.23,318.49 L185.3,318.69 L185.38,318.86 L185.46,319 L185.54,319.13 L185.62,319.23 L185.71,319.32 L185.8,319.4 L185.89,319.46 L185.98,319.52 L186.08,319.56 L186.17,319.6 L186.27,319.63 L186.37,319.65 L186.48,319.67 L186.59,319.69 L186.7,319.7 L186.81,319.71 L186.92,319.72 L187.04,319.72 L187.16,319.73 L187.28,319.73 L187.4,319.74 L187.53,319.74 L187.66,319.74 L187.79,319.74 L187.93,319.74 L188.06,319.74 L188.2,319.74 L188.34,319.74 L188.49,319.74 L188.64,319.74 L188.79,319.74 L188.94,319.74 L189.1,319.74 L189.25,319.74 L189.42,319.74 L189.58,319.74 L189.75,319.74 L189.92,319.74 L190.09,319.74 L190.26,319.74 L190.44,319.74 L190.62,319.74 L190.81,319.74 L190.99,319.74 L191.18,319.74 L191.38,319.74 L191.57,319.74 L191.77,319.74 L191.97,319.74 L192.18,319.74 L192.38,319.74 L192.59,319.74 L192.81,319.74 L193.02,319.74 L193.24,319.74 L193.47,319.74 L193.69,319.74 L193.92,319.74 L194.15,319.74 L194.39,319.74 L194.63,319.74 L194.87,319.74 L195.11,319.74 L195.36,319.74 L195.61,319.74 L195.87,319.74 L196.12,319.74 L196.38,319.74 L196.65,319.74 L196.92,319.74 L197.19,319.74 L197.46,319.74 L197.74,319.74 L198.02,319.74 L198.3,319.74 L198.59,319.74 L198.88,319.74 L199.17,319.75 L199.47,319.75 L199.77,319.75 L200.07,319.75 L200.38,319.75 L200.69,319.75 L201.01,319.75 L201.32,319.75 L201.65,319.75 L201.97,319.75 L202.3,319.75 L202.63,319.75 L202.96,319.75 L203.3,319.75 L203.65,319.75 L203.99,319.75 L204.34,319.75 L204.69,319.75 L205.05,319.75 L205.41,319.75 L205.77,319.75 L206.14,319.75 L206.51,319.75 L206.89,319.75 L207.27,319.75 L207.65,319.75 L208.03,319.75 L208.42,319.75 L208.82,319.75 L209.21,319.75 L209.61,319.75 L210.02,319.75 L210.43,319.75 L210.84,319.75 L211.26,319.75 L211.67,319.75 L212.1,319.75 L212.53,319.75 L212.96,319.75 L213.39,319.75 L213.83,319.75 L214.27,319.75 L214.72,319.75 L215.17,319.75 L215.62,319.75 L216.08,319.75 L216.54,319.75 L217.01,319.75 L217.48,319.75 L217.95,319.75 L218.43,319.75 L218.91,319.75 L219.4,319.75 L219.89,319.75 L220.38,319.75 L220.88,319.75 L221.38,319.75 L221.89,319.75 L222.4,319.75 L222.91,319.75 L223.43,319.75 L223.95,319.75 L224.48,319.75 L225.01,319.75 L225.54,319.75 L226.08,319.75 L226.63,319.75 L227.17,319.75 L227.72,319.75 L228.28,319.75 L228.84,319.75 L229.4,319.75 L229.97,319.75 L230.54,319.75 L231.12,319.75 L231.7,319.75 L232.28,319.75 L232.87,319.75 L233.47,319.75 L234.06,319.75 L234.67,319.75 L235.27,319.75 L235.88,319.75 L236.5,319.75 L237.12,319.75 L237.74,319.75 L238.37,319.75 L239,319.75 L239.64,319.75 L240.28,319.75 L240.92,319.75 L241.57,319.75 L242.22,319.75 L242.88,319.75 L243.55,319.75 L244.21,319.75 L244.89,319.75 L245.56,319.75 L246.24,319.75 L246.93,319.75 L247.62,319.75 L248.31,319.75 L249.01,319.75 L249.71,319.75 L250.42,319.75 L251.13,319.75 L251.85,319.75 L252.57,319.75 L253.3,319.75 L254.03,319.75 L254.76,319.75 L255.5,319.75 L256.25,319.75 L256.99,319.75 L257.75,319.75 L258.51,319.75 L259.27,319.75 L260.04,319.75 L260.81,319.75 L261.58,319.75 L262.37,319.75 L263.15,319.75 L263.94,319.75 L264.74,319.75 L265.54,319.75 L266.34,319.75 L267.15,319.75 L267.97,319.75 L268.78,319.75 L269.61,319.75 L270.44,319.75 L271.27,319.75 L272.11,319.75 L272.95,319.75 L273.8,319.75 L274.65,319.75 L275.51,319.75 L276.37,319.75 L277.24,319.75 L278.11,319.75 L278.99,319.75 L279.87,319.75 L280.75,319.75 L281.65,319.75 L282.54,319.75 L283.44,319.75 L284.35,319.75 L285.26,319.75 L286.18,319.75 L287.1,319.75 L288.02,319.75 L288.95,319.75 L289.89,319.75 L290.83,319.75 L291.77,319.75 L292.73,319.75 L293.68,319.75 L294.64,319.75 L295.61,319.75 L296.58,319.75 L297.55,319.75 L298.53,319.75 L299.52,319.75 L300.51,319.75 L301.51,319.75 L302.51,319.75 L303.51,319.75 L304.53,319.75 L305.54,319.75 L306.56,319.75" stroke="#f7a030" stroke-width="1.4" fill="none"/>
<line x1="182.3" y1="217.8" x2="182.3" y2="433.5" stroke="#4a4a4a" stroke-width="1.5" stroke-dasharray="6.6,2.2"/>
<line x1="59" y1="242.4" x2="174" y2="242.4" stroke="#333" stroke-width="1.05"/><path d="M57,242.4 L61.1,240.1 L60.7,242.4 L61.1,244.7 Z" fill="#1a1a1a"/><path d="M176,242.4 L171.9,240.1 L172.3,242.4 L171.9,244.7 Z" fill="#1a1a1a"/><line x1="192.8" y1="242.4" x2="307.7" y2="242.4" stroke="#333" stroke-width="1.05"/><path d="M190.8,242.4 L194.9,240.1 L194.5,242.4 L194.9,244.7 Z" fill="#1a1a1a"/><path d="M309.7,242.4 L305.6,240.1 L306,242.4 L305.6,244.7 Z" fill="#1a1a1a"/><text x="115" y="236" font-family="Liberation Sans, sans-serif" font-size="11.5" fill="#111" text-anchor="middle">-400 mV</text><text x="248.4" y="236" font-family="Liberation Sans, sans-serif" font-size="11.5" fill="#111" text-anchor="middle">0 mV</text>
<line x1="219.8" y1="385.3" x2="245" y2="385.3" stroke="#3a56ae" stroke-width="1.3"/>
<text x="248" y="389.3" font-family="Liberation Sans, sans-serif" font-size="11" fill="#111">Pd (i)</text>
<line x1="219.8" y1="398.8" x2="245" y2="398.8" stroke="#9c3038" stroke-width="1.3"/>
<text x="248" y="402.8" font-family="Liberation Sans, sans-serif" font-size="11" fill="#111">+SLB (ii)</text>
<line x1="219.8" y1="412" x2="245" y2="412" stroke="#f7a030" stroke-width="1.3"/>
<text x="248" y="416" font-family="Liberation Sans, sans-serif" font-size="11" fill="#111">6HB-2C (iii)</text>
<text x="160.8" y="463" font-family="Liberation Sans, sans-serif" font-size="11" fill="#111">Time (s)</text>
<text transform="translate(8.6,339.6) rotate(-90)" font-family="Liberation Sans, sans-serif" font-size="11" fill="#111">I<tspan font-size="7" dy="2">H+</tspan><tspan dy="-2"> (nA)</tspan></text>
<rect x="414.7" y="214.5" width="268.59999999999997" height="216.7" fill="none" stroke="#555" stroke-width="1.1"/><line x1="414.7" y1="227.1" x2="419.2" y2="227.1" stroke="#555" stroke-width="1"/><line x1="414.7" y1="275.2" x2="419.2" y2="275.2" stroke="#555" stroke-width="1"/><line x1="414.7" y1="323.3" x2="419.2" y2="323.3" stroke="#555" stroke-width="1"/><line x1="414.7" y1="371.4" x2="419.2" y2="371.4" stroke="#555" stroke-width="1"/><line x1="414.7" y1="419.5" x2="419.2" y2="419.5" stroke="#555" stroke-width="1"/><text x="410" y="229.89" font-family="Liberation Sans, sans-serif" font-size="11.7" fill="#1a1a1a" text-anchor="end">400</text><text x="410" y="281.69" font-family="Liberation Sans, sans-serif" font-size="11.7" fill="#1a1a1a" text-anchor="end">200</text><text x="410.1" y="329.69" font-family="Liberation Sans, sans-serif" font-size="11.7" fill="#1a1a1a" text-anchor="end">0</text><text x="410" y="378.39" font-family="Liberation Sans, sans-serif" font-size="11.7" fill="#1a1a1a" text-anchor="end">-200</text><text x="410" y="426.49" font-family="Liberation Sans, sans-serif" font-size="11.7" fill="#1a1a1a" text-anchor="end">-400</text><line x1="433.3" y1="431.2" x2="433.3" y2="427.0" stroke="#555" stroke-width="1"/><text x="433.9" y="449.8" font-family="Liberation Sans, sans-serif" font-size="11.7" fill="#1a1a1a" text-anchor="middle">0</text><line x1="491.11" y1="431.2" x2="491.11" y2="427.0" stroke="#555" stroke-width="1"/><text x="490.91" y="449.8" font-family="Liberation Sans, sans-serif" font-size="11.7" fill="#1a1a1a" text-anchor="middle">300</text><line x1="548.92" y1="431.2" x2="548.92" y2="427.0" stroke="#555" stroke-width="1"/><text x="548.72" y="449.8" font-family="Liberation Sans, sans-serif" font-size="11.7" fill="#1a1a1a" text-anchor="middle">600</text><line x1="606.73" y1="431.2" x2="606.73" y2="427.0" stroke="#555" stroke-width="1"/><text x="606.53" y="449.8" font-family="Liberation Sans, sans-serif" font-size="11.7" fill="#1a1a1a" text-anchor="middle">900</text><line x1="664.54" y1="431.2" x2="664.54" y2="427.0" stroke="#555" stroke-width="1"/><text x="664.34" y="449.8" font-family="Liberation Sans, sans-serif" font-size="11.7" fill="#1a1a1a" text-anchor="middle">1200</text>
<path d="M437.15,334.53 L437.15,343.28 M435.22,334.53 L439.08,334.53 M435.22,343.28 L439.08,343.28 M441.01,333.94 L441.01,341.98 M439.08,333.94 L442.94,333.94 M439.08,341.98 L442.94,341.98 M444.86,333.75 L444.86,341.2 M442.93,333.75 L446.79,333.75 M442.93,341.2 L446.79,341.2 M448.72,333.7 L448.72,340.67 M446.79,333.7 L450.65,333.7 M446.79,340.67 L450.65,340.67 M452.57,333.7 L452.57,340.28 M450.64,333.7 L454.5,333.7 M450.64,340.28 L454.5,340.28 M456.42,333.71 L456.42,339.97 M454.49,333.71 L458.35,333.71 M454.49,339.97 L458.35,339.97 M460.28,333.71 L460.28,339.71 M458.35,333.71 L462.21,333.71 M458.35,339.71 L462.21,339.71 M464.13,333.71 L464.13,339.49 M462.2,333.71 L466.06,333.71 M462.2,339.49 L466.06,339.49 M467.99,333.7 L467.99,339.3 M466.06,333.7 L469.92,333.7 M466.06,339.3 L469.92,339.3 M471.84,333.68 L471.84,339.14 M469.91,333.68 L473.77,333.68 M469.91,339.14 L473.77,339.14 M475.69,333.65 L475.69,338.99 M473.76,333.65 L477.62,333.65 M473.76,338.99 L477.62,338.99 M479.55,333.62 L479.55,338.87 M477.62,333.62 L481.48,333.62 M477.62,338.87 L481.48,338.87 M483.4,333.59 L483.4,338.76 M481.47,333.59 L485.33,333.59 M481.47,338.76 L485.33,338.76 M487.26,333.56 L487.26,338.66 M485.33,333.56 L489.19,333.56 M485.33,338.66 L489.19,338.66 M491.11,333.52 L491.11,338.57 M489.18,333.52 L493.04,333.52 M489.18,338.57 L493.04,338.57 M494.96,333.49 L494.96,338.5 M493.03,333.49 L496.89,333.49 M493.03,338.5 L496.89,338.5 M498.82,333.46 L498.82,338.43 M496.89,333.46 L500.75,333.46 M496.89,338.43 L500.75,338.43 M502.67,333.42 L502.67,338.37 M500.74,333.42 L504.6,333.42 M500.74,338.37 L504.6,338.37 M506.53,333.39 L506.53,338.31 M504.6,333.39 L508.46,333.39 M504.6,338.31 L508.46,338.31 M510.38,333.36 L510.38,338.26 M508.45,333.36 L512.31,333.36 M508.45,338.26 L512.31,338.26 M514.23,333.33 L514.23,338.21 M512.3,333.33 L516.16,333.33 M512.3,338.21 L516.16,338.21 M518.09,333.3 L518.09,338.17 M516.16,333.3 L520.02,333.3 M516.16,338.17 L520.02,338.17 M521.94,333.28 L521.94,338.14 M520.01,333.28 L523.87,333.28 M520.01,338.14 L523.87,338.14 M525.8,333.25 L525.8,338.1 M523.87,333.25 L527.73,333.25 M523.87,338.1 L527.73,338.1 M529.65,333.23 L529.65,338.07 M527.72,333.23 L531.58,333.23 M527.72,338.07 L531.58,338.07 M533.5,333.21 L533.5,338.04 M531.57,333.21 L535.43,333.21 M531.57,338.04 L535.43,338.04 M537.36,333.19 L537.36,338.02 M535.43,333.19 L539.29,333.19 M535.43,338.02 L539.29,338.02 M541.21,334.62 L541.21,336.54 M539.28,334.62 L543.14,334.62 M539.28,336.54 L543.14,336.54 M545.07,334.6 L545.07,336.52 M543.14,334.6 L547,334.6 M543.14,336.52 L547,336.52 M548.92,334.58 L548.92,336.51 M546.99,334.58 L550.85,334.58 M546.99,336.51 L550.85,336.51" stroke="#ff8a1c" stroke-width="1.0" fill="none"/>
<path d="M433.3,344.22 L433.3,344.22 L433.3,344.22 L433.3,344.22 L433.3,344.21 L433.3,344.21 L433.31,344.19 L433.31,344.18 L433.31,344.16 L433.32,344.14 L433.32,344.12 L433.33,344.09 L433.34,344.06 L433.35,344.03 L433.35,343.99 L433.36,343.95 L433.38,343.9 L433.39,343.85 L433.4,343.8 L433.42,343.74 L433.43,343.67 L433.45,343.61 L433.47,343.54 L433.49,343.46 L433.51,343.39 L433.53,343.31 L433.56,343.22 L433.58,343.13 L433.61,343.04 L433.64,342.95 L433.67,342.86 L433.7,342.76 L433.73,342.66 L433.76,342.56 L433.8,342.45 L433.84,342.35 L433.88,342.24 L433.92,342.14 L433.96,342.03 L434,341.92 L434.05,341.82 L434.1,341.71 L434.15,341.6 L434.2,341.5 L434.25,341.39 L434.31,341.29 L434.36,341.19 L434.42,341.08 L434.48,340.98 L434.55,340.89 L434.61,340.79 L434.68,340.69 L434.75,340.6 L434.82,340.51 L434.89,340.42 L434.96,340.33 L435.04,340.25 L435.12,340.17 L435.2,340.08 L435.28,340.01 L435.37,339.93 L435.46,339.85 L435.54,339.78 L435.64,339.71 L435.73,339.64 L435.83,339.58 L435.92,339.51 L436.03,339.45 L436.13,339.39 L436.23,339.33 L436.34,339.27 L436.45,339.22 L436.56,339.16 L436.68,339.11 L436.79,339.06 L436.91,339 L437.03,338.95 L437.16,338.91 L437.29,338.86 L437.41,338.81 L437.55,338.77 L437.68,338.72 L437.82,338.68 L437.96,338.64 L438.1,338.59 L438.24,338.55 L438.39,338.51 L438.54,338.47 L438.69,338.43 L438.84,338.39 L439,338.36 L439.16,338.32 L439.32,338.28 L439.49,338.25 L439.65,338.21 L439.82,338.17 L440,338.14 L440.17,338.11 L440.35,338.07 L440.53,338.04 L440.72,338.01 L440.9,337.98 L441.09,337.94 L441.29,337.91 L441.48,337.88 L441.68,337.85 L441.88,337.82 L442.08,337.8 L442.29,337.77 L442.5,337.74 L442.71,337.71 L442.93,337.69 L443.15,337.66 L443.37,337.63 L443.59,337.61 L443.82,337.58 L444.05,337.56 L444.28,337.54 L444.52,337.51 L444.76,337.49 L445,337.47 L445.25,337.44 L445.49,337.42 L445.74,337.4 L446,337.38 L446.26,337.36 L446.52,337.34 L446.78,337.32 L447.05,337.3 L447.32,337.28 L447.59,337.26 L447.87,337.24 L448.15,337.22 L448.43,337.21 L448.72,337.19 L449.01,337.17 L449.3,337.15 L449.59,337.14 L449.89,337.12 L450.2,337.11 L450.5,337.09 L450.81,337.07 L451.12,337.06 L451.44,337.04 L451.76,337.03 L452.08,337.01 L452.4,337 L452.73,336.98 L453.06,336.97 L453.4,336.95 L453.74,336.94 L454.08,336.93 L454.43,336.91 L454.78,336.9 L455.13,336.88 L455.48,336.87 L455.84,336.86 L456.21,336.84 L456.57,336.83 L456.94,336.82 L457.32,336.81 L457.69,336.79 L458.08,336.78 L458.46,336.77 L458.85,336.75 L459.24,336.74 L459.63,336.73 L460.03,336.72 L460.43,336.7 L460.84,336.69 L461.25,336.68 L461.66,336.67 L462.08,336.66 L462.5,336.64 L462.92,336.63 L463.35,336.62 L463.78,336.61 L464.21,336.6 L464.65,336.58 L465.1,336.57 L465.54,336.56 L465.99,336.55 L466.44,336.54 L466.9,336.52 L467.36,336.51 L467.83,336.5 L468.3,336.49 L468.77,336.48 L469.24,336.47 L469.72,336.46 L470.21,336.44 L470.69,336.43 L471.19,336.42 L471.68,336.41 L472.18,336.4 L472.68,336.39 L473.19,336.38 L473.7,336.37 L474.22,336.35 L474.73,336.34 L475.26,336.33 L475.78,336.32 L476.31,336.31 L476.85,336.3 L477.39,336.29 L477.93,336.28 L478.47,336.27 L479.03,336.26 L479.58,336.25 L480.14,336.23 L480.7,336.22 L481.27,336.21 L481.84,336.2 L482.41,336.19 L482.99,336.18 L483.57,336.17 L484.16,336.16 L484.75,336.15 L485.34,336.14 L485.94,336.13 L486.55,336.12 L487.15,336.11 L487.76,336.1 L488.38,336.09 L489,336.08 L489.62,336.07 L490.25,336.06 L490.88,336.05 L491.52,336.04 L492.16,336.03 L492.8,336.02 L493.45,336.01 L494.11,336.01 L494.76,336 L495.43,335.99 L496.09,335.98 L496.76,335.97 L497.44,335.96 L498.11,335.95 L498.8,335.94 L499.48,335.93 L500.18,335.93 L500.87,335.92 L501.57,335.91 L502.28,335.9 L502.99,335.89 L503.7,335.88 L504.42,335.87 L505.14,335.87 L505.87,335.86 L506.6,335.85 L507.33,335.84 L508.07,335.83 L508.81,335.83 L509.56,335.82 L510.32,335.81 L511.07,335.8 L511.83,335.8 L512.6,335.79 L513.37,335.78 L514.15,335.77 L514.93,335.77 L515.71,335.76 L516.5,335.75 L517.29,335.75 L518.09,335.74 L518.89,335.73 L519.7,335.73 L520.51,335.72 L521.33,335.71 L522.15,335.71 L522.97,335.7 L523.8,335.69 L524.63,335.69 L525.47,335.68 L526.32,335.67 L527.16,335.67 L528.02,335.66 L528.87,335.66 L529.74,335.65 L530.6,335.64 L531.47,335.64 L532.35,335.63 L533.23,335.63 L534.12,335.62 L535,335.62 L535.9,335.61 L536.8,335.61 L537.7,335.6 L538.61,335.6 L539.52,335.59 L540.44,335.59 L541.37,335.58 L542.29,335.58 L543.23,335.57 L544.16,335.57 L545.1,335.56 L546.05,335.56 L547,335.55 L547.96,335.55 L548.92,335.54 L550.19,320.41 L550.19,320.41 L550.19,320.42 L550.19,320.42 L550.19,320.43 L550.2,320.44 L550.2,320.46 L550.2,320.47 L550.21,320.5 L550.21,320.53 L550.22,320.56 L550.22,320.6 L550.23,320.64 L550.24,320.68 L550.25,320.74 L550.26,320.79 L550.27,320.85 L550.28,320.91 L550.3,320.98 L550.31,321.05 L550.33,321.12 L550.34,321.2 L550.36,321.28 L550.38,321.36 L550.4,321.43 L550.43,321.51 L550.45,321.59 L550.48,321.67 L550.5,321.75 L550.53,321.83 L550.56,321.9 L550.6,321.98 L550.63,322.05 L550.66,322.11 L550.7,322.18 L550.74,322.24 L550.78,322.29 L550.82,322.35 L550.86,322.4 L550.91,322.44 L550.96,322.49 L551,322.53 L551.05,322.56 L551.11,322.6 L551.16,322.62 L551.22,322.65 L551.27,322.67 L551.33,322.69 L551.4,322.71 L551.46,322.73 L551.53,322.74 L551.59,322.76 L551.66,322.77 L551.73,322.78 L551.81,322.78 L551.88,322.79 L551.96,322.79 L552.04,322.8 L552.12,322.8 L552.21,322.81 L552.3,322.81 L552.38,322.81 L552.48,322.81 L552.57,322.81 L552.66,322.82 L552.76,322.82 L552.86,322.82 L552.96,322.82 L553.07,322.82 L553.18,322.82 L553.29,322.82 L553.4,322.82 L553.51,322.82 L553.63,322.82 L553.75,322.82 L553.87,322.82 L553.99,322.82 L554.12,322.82 L554.25,322.82 L554.38,322.82 L554.51,322.82 L554.65,322.82 L554.79,322.82 L554.93,322.82 L555.07,322.82 L555.22,322.82 L555.37,322.82 L555.52,322.82 L555.67,322.82 L555.83,322.82 L555.99,322.82 L556.15,322.82 L556.32,322.82 L556.49,322.82 L556.66,322.82 L556.83,322.82 L557.01,322.82 L557.18,322.82 L557.37,322.82 L557.55,322.82 L557.74,322.82 L557.93,322.82 L558.12,322.82 L558.32,322.82 L558.51,322.82 L558.72,322.82 L558.92,322.82 L559.13,322.82 L559.34,322.82 L559.55,322.82 L559.77,322.82 L559.99,322.82 L560.21,322.82 L560.43,322.82 L560.66,322.82 L560.89,322.82 L561.13,322.82 L561.36,322.82 L561.6,322.82 L561.85,322.82 L562.09,322.82 L562.34,322.82 L562.6,322.82 L562.85,322.82 L563.11,322.82 L563.37,322.82 L563.64,322.82 L563.91,322.82 L564.18,322.82 L564.45,322.82 L564.73,322.82 L565.01,322.82 L565.3,322.82 L565.58,322.82 L565.88,322.82 L566.17,322.82 L566.47,322.82 L566.77,322.82 L567.07,322.82 L567.38,322.82 L567.69,322.82 L568,322.82 L568.32,322.82 L568.64,322.82 L568.97,322.82 L569.3,322.82 L569.63,322.82 L569.96,322.82 L570.3,322.82 L570.64,322.82 L570.99,322.82 L571.33,322.82 L571.69,322.82 L572.04,322.82 L572.4,322.82 L572.76,322.82 L573.13,322.82 L573.5,322.82 L573.87,322.82 L574.25,322.82 L574.63,322.82 L575.01,322.82 L575.4,322.82 L575.79,322.82 L576.18,322.82 L576.58,322.82 L576.98,322.82 L577.39,322.82 L577.8,322.82 L578.21,322.82 L578.62,322.82 L579.04,322.82 L579.47,322.82 L579.9,322.82 L580.33,322.82 L580.76,322.82 L581.2,322.82 L581.64,322.82 L582.09,322.82 L582.54,322.82 L582.99,322.82 L583.45,322.82 L583.91,322.82 L584.38,322.82 L584.84,322.82 L585.32,322.82 L585.79,322.82 L586.27,322.82 L586.76,322.82 L587.25,322.82 L587.74,322.82 L588.23,322.82 L588.73,322.82 L589.24,322.82 L589.75,322.82 L590.26,322.82 L590.77,322.82 L591.29,322.82 L591.82,322.82 L592.34,322.82 L592.88,322.82 L593.41,322.82 L593.95,322.82 L594.49,322.82 L595.04,322.82 L595.59,322.82 L596.15,322.82 L596.71,322.82 L597.27,322.82 L597.84,322.82 L598.41,322.82 L598.99,322.82 L599.57,322.82 L600.15,322.82 L600.74,322.82 L601.34,322.82 L601.93,322.82 L602.53,322.82 L603.14,322.82 L603.75,322.82 L604.36,322.82 L604.98,322.82 L605.6,322.82 L606.23,322.82 L606.86,322.82 L607.49,322.82 L608.13,322.82 L608.77,322.82 L609.42,322.82 L610.07,322.82 L610.73,322.82 L611.39,322.82 L612.05,322.82 L612.72,322.82 L613.39,322.82 L614.07,322.82 L614.75,322.82 L615.44,322.82 L616.13,322.82 L616.82,322.82 L617.52,322.82 L618.23,322.82 L618.94,322.82 L619.65,322.82 L620.36,322.82 L621.09,322.82 L621.81,322.82 L622.54,322.82 L623.28,322.82 L624.01,322.82 L624.76,322.82 L625.51,322.82 L626.26,322.82 L627.02,322.82 L627.78,322.82 L628.54,322.82 L629.31,322.82 L630.09,322.82 L630.87,322.82 L631.65,322.82 L632.44,322.82 L633.23,322.82 L634.03,322.82 L634.83,322.82 L635.64,322.82 L636.45,322.82 L637.27,322.82 L638.09,322.82 L638.91,322.82 L639.74,322.82 L640.58,322.82 L641.42,322.82 L642.26,322.82 L643.11,322.82 L643.96,322.82 L644.82,322.82 L645.68,322.82 L646.55,322.82 L647.42,322.82 L648.3,322.82 L649.18,322.82 L650.07,322.82 L650.96,322.82 L651.85,322.82 L652.75,322.82 L653.66,322.82 L654.57,322.82 L655.48,322.82 L656.4,322.82 L657.33,322.82 L658.26,322.82 L659.19,322.82 L660.13,322.82 L661.07,322.82 L662.02,322.82 L662.98,322.82 L663.93,322.82 L664.9,322.82 L665.87,322.82 L666.84,322.82 L667.82,322.82" stroke="#ff8a1c" stroke-width="1.5" fill="none" stroke-linejoin="round"/>
<path d="M433.3,392.08 L433.3,392.06 L433.3,391.93 L433.3,391.67 L433.3,391.23 L433.3,390.6 L433.31,389.76 L433.31,388.7 L433.31,387.41 L433.32,385.89 L433.32,384.15 L433.33,382.19 L433.34,380.03 L433.35,377.68 L433.35,375.18 L433.36,372.55 L433.38,369.81 L433.39,367 L433.4,364.16 L433.42,361.3 L433.43,358.47 L433.45,355.7 L433.47,353.01 L433.49,350.42 L433.51,347.97 L433.53,345.66 L433.56,343.51 L433.58,341.53 L433.61,339.73 L433.64,338.09 L433.67,336.63 L433.7,335.34 L433.73,334.2 L433.76,333.21 L433.8,332.36 L433.84,331.64 L433.88,331.02 L433.92,330.5 L433.96,330.07 L434,329.71 L434.05,329.42 L434.1,329.18 L434.15,328.98 L434.2,328.82 L434.25,328.69 L434.31,328.58 L434.36,328.49 L434.42,328.41 L434.48,328.35 L434.55,328.3 L434.61,328.25 L434.68,328.21 L434.75,328.18 L434.82,328.15 L434.89,328.12 L434.96,328.1 L435.04,328.07 L435.12,328.05 L435.2,328.03 L435.28,328.02 L435.37,328 L435.46,327.99 L435.54,327.97 L435.64,327.96 L435.73,327.95 L435.83,327.94 L435.92,327.93 L436.03,327.93 L436.13,327.92 L436.23,327.91 L436.34,327.91 L436.45,327.9 L436.56,327.9 L436.68,327.89 L436.79,327.89 L436.91,327.89 L437.03,327.88 L437.16,327.88 L437.29,327.88 L437.41,327.88 L437.55,327.88 L437.68,327.88 L437.82,327.87 L437.96,327.87 L438.1,327.87 L438.24,327.87 L438.39,327.87 L438.54,327.87 L438.69,327.87 L438.84,327.87 L439,327.87 L439.16,327.87 L439.32,327.87 L439.49,327.87 L439.65,327.87 L439.82,327.87 L440,327.87 L440.17,327.87 L440.35,327.87 L440.53,327.87 L440.72,327.87 L440.9,327.87 L441.09,327.87 L441.29,327.87 L441.48,327.87 L441.68,327.87 L441.88,327.87 L442.08,327.87 L442.29,327.87 L442.5,327.87 L442.71,327.87 L442.93,327.87 L443.15,327.87 L443.37,327.87 L443.59,327.87 L443.82,327.87 L444.05,327.87 L444.28,327.87 L444.52,327.87 L444.76,327.87 L445,327.87 L445.25,327.87 L445.49,327.87 L445.74,327.87 L446,327.87 L446.26,327.87 L446.52,327.87 L446.78,327.87 L447.05,327.87 L447.32,327.87 L447.59,327.87 L447.87,327.87 L448.15,327.87 L448.43,327.87 L448.72,327.87 L449.01,327.87 L449.3,327.87 L449.59,327.87 L449.89,327.87 L450.2,327.87 L450.5,327.87 L450.81,327.87 L451.12,327.87 L451.44,327.87 L451.76,327.87 L452.08,327.87 L452.4,327.87 L452.73,327.87 L453.06,327.87 L453.4,327.87 L453.74,327.87 L454.08,327.87 L454.43,327.87 L454.78,327.87 L455.13,327.87 L455.48,327.87 L455.84,327.87 L456.21,327.87 L456.57,327.87 L456.94,327.87 L457.32,327.87 L457.69,327.87 L458.08,327.87 L458.46,327.87 L458.85,327.87 L459.24,327.87 L459.63,327.87 L460.03,327.87 L460.43,327.87 L460.84,327.87 L461.25,327.87 L461.66,327.87 L462.08,327.87 L462.5,327.87 L462.92,327.87 L463.35,327.87 L463.78,327.87 L464.21,327.87 L464.65,327.87 L465.1,327.87 L465.54,327.87 L465.99,327.87 L466.44,327.87 L466.9,327.87 L467.36,327.87 L467.83,327.87 L468.3,327.87 L468.77,327.87 L469.24,327.87 L469.72,327.87 L470.21,327.87 L470.69,327.87 L471.19,327.87 L471.68,327.87 L472.18,327.87 L472.68,327.87 L473.19,327.87 L473.7,327.87 L474.22,327.87 L474.73,327.87 L475.26,327.87 L475.78,327.87 L476.31,327.87 L476.85,327.87 L477.39,327.87 L477.93,327.87 L478.47,327.87 L479.03,327.87 L479.58,327.87 L480.14,327.87 L480.7,327.87 L481.27,327.87 L481.84,327.87 L482.41,327.87 L482.99,327.87 L483.57,327.87 L484.16,327.87 L484.75,327.87 L485.34,327.87 L485.94,327.87 L486.55,327.87 L487.15,327.87 L487.76,327.87 L488.38,327.87 L489,327.87 L489.62,327.87 L490.25,327.87 L490.88,327.87 L491.52,327.87 L492.16,327.87 L492.8,327.87 L493.45,327.87 L494.11,327.87 L494.76,327.87 L495.43,327.87 L496.09,327.87 L496.76,327.87 L497.44,327.87 L498.11,327.87 L498.8,327.87 L499.48,327.87 L500.18,327.87 L500.87,327.87 L501.57,327.87 L502.28,327.87 L502.99,327.87 L503.7,327.87 L504.42,327.87 L505.14,327.87 L505.87,327.87 L506.6,327.87 L507.33,327.87 L508.07,327.87 L508.81,327.87 L509.56,327.87 L510.32,327.87 L511.07,327.87 L511.83,327.87 L512.6,327.87 L513.37,327.87 L514.15,327.87 L514.93,327.87 L515.71,327.87 L516.5,327.87 L517.29,327.87 L518.09,327.87 L518.89,327.87 L519.7,327.87 L520.51,327.87 L521.33,327.87 L522.15,327.87 L522.97,327.87 L523.8,327.87 L524.63,327.87 L525.47,327.87 L526.32,327.87 L527.16,327.87 L528.02,327.87 L528.87,327.87 L529.74,327.87 L530.6,327.87 L531.47,327.87 L532.35,327.87 L533.23,327.87 L534.12,327.87 L535,327.87 L535.9,327.87 L536.8,327.87 L537.7,327.87 L538.61,327.87 L539.52,327.87 L540.44,327.87 L541.37,327.87 L542.29,327.87 L543.23,327.87 L544.16,327.87 L545.1,327.87 L546.05,327.87 L547,327.87 L547.96,327.87 L548.92,327.87 L550.19,272.8 L550.19,272.81 L550.19,272.86 L550.19,272.96 L550.19,273.14 L550.2,273.4 L550.2,273.74 L550.2,274.18 L550.21,274.72 L550.21,275.36 L550.22,276.1 L550.22,276.96 L550.23,277.91 L550.24,278.98 L550.25,280.14 L550.26,281.39 L550.27,282.74 L550.28,284.16 L550.3,285.66 L550.31,287.23 L550.33,288.84 L550.34,290.5 L550.36,292.2 L550.38,293.91 L550.4,295.63 L550.43,297.35 L550.45,299.06 L550.48,300.74 L550.5,302.39 L550.53,303.99 L550.56,305.54 L550.6,307.03 L550.63,308.46 L550.66,309.81 L550.7,311.09 L550.74,312.29 L550.78,313.41 L550.82,314.44 L550.86,315.4 L550.91,316.27 L550.96,317.07 L551,317.79 L551.05,318.44 L551.11,319.02 L551.16,319.53 L551.22,319.99 L551.27,320.38 L551.33,320.73 L551.4,321.03 L551.46,321.29 L551.53,321.51 L551.59,321.7 L551.66,321.86 L551.73,322 L551.81,322.11 L551.88,322.2 L551.96,322.28 L552.04,322.34 L552.12,322.39 L552.21,322.43 L552.3,322.46 L552.38,322.49 L552.48,322.51 L552.57,322.53 L552.66,322.54 L552.76,322.55 L552.86,322.56 L552.96,322.56 L553.07,322.57 L553.18,322.57 L553.29,322.57 L553.4,322.57 L553.51,322.58 L553.63,322.58 L553.75,322.58 L553.87,322.58 L553.99,322.58 L554.12,322.58 L554.25,322.58 L554.38,322.58 L554.51,322.58 L554.65,322.58 L554.79,322.58 L554.93,322.58 L555.07,322.58 L555.22,322.58 L555.37,322.58 L555.52,322.58 L555.67,322.58 L555.83,322.58 L555.99,322.58 L556.15,322.58 L556.32,322.58 L556.49,322.58 L556.66,322.58 L556.83,322.58 L557.01,322.58 L557.18,322.58 L557.37,322.58 L557.55,322.58 L557.74,322.58 L557.93,322.58 L558.12,322.58 L558.32,322.58 L558.51,322.58 L558.72,322.58 L558.92,322.58 L559.13,322.58 L559.34,322.58 L559.55,322.58 L559.77,322.58 L559.99,322.58 L560.21,322.58 L560.43,322.58 L560.66,322.58 L560.89,322.58 L561.13,322.58 L561.36,322.58 L561.6,322.58 L561.85,322.58 L562.09,322.58 L562.34,322.58 L562.6,322.58 L562.85,322.58 L563.11,322.58 L563.37,322.58 L563.64,322.58 L563.91,322.58 L564.18,322.58 L564.45,322.58 L564.73,322.58 L565.01,322.58 L565.3,322.58 L565.58,322.58 L565.88,322.58 L566.17,322.58 L566.47,322.58 L566.77,322.58 L567.07,322.58 L567.38,322.58 L567.69,322.58 L568,322.58 L568.32,322.58 L568.64,322.58 L568.97,322.58 L569.3,322.58 L569.63,322.58 L569.96,322.58 L570.3,322.58 L570.64,322.58 L570.99,322.58 L571.33,322.58 L571.69,322.58 L572.04,322.58 L572.4,322.58 L572.76,322.58 L573.13,322.58 L573.5,322.58 L573.87,322.58 L574.25,322.58 L574.63,322.58 L575.01,322.58 L575.4,322.58 L575.79,322.58 L576.18,322.58 L576.58,322.58 L576.98,322.58 L577.39,322.58 L577.8,322.58 L578.21,322.58 L578.62,322.58 L579.04,322.58 L579.47,322.58 L579.9,322.58 L580.33,322.58 L580.76,322.58 L581.2,322.58 L581.64,322.58 L582.09,322.58 L582.54,322.58 L582.99,322.58 L583.45,322.58 L583.91,322.58 L584.38,322.58 L584.84,322.58 L585.32,322.58 L585.79,322.58 L586.27,322.58 L586.76,322.58 L587.25,322.58 L587.74,322.58 L588.23,322.58 L588.73,322.58 L589.24,322.58 L589.75,322.58 L590.26,322.58 L590.77,322.58 L591.29,322.58 L591.82,322.58 L592.34,322.58 L592.88,322.58 L593.41,322.58 L593.95,322.58 L594.49,322.58 L595.04,322.58 L595.59,322.58 L596.15,322.58 L596.71,322.58 L597.27,322.58 L597.84,322.58 L598.41,322.58 L598.99,322.58 L599.57,322.58 L600.15,322.58 L600.74,322.58 L601.34,322.58 L601.93,322.58 L602.53,322.58 L603.14,322.58 L603.75,322.58 L604.36,322.58 L604.98,322.58 L605.6,322.58 L606.23,322.58 L606.86,322.58 L607.49,322.58 L608.13,322.58 L608.77,322.58 L609.42,322.58 L610.07,322.58 L610.73,322.58 L611.39,322.58 L612.05,322.58 L612.72,322.58 L613.39,322.58 L614.07,322.58 L614.75,322.58 L615.44,322.58 L616.13,322.58 L616.82,322.58 L617.52,322.58 L618.23,322.58 L618.94,322.58 L619.65,322.58 L620.36,322.58 L621.09,322.58 L621.81,322.58 L622.54,322.58 L623.28,322.58 L624.01,322.58 L624.76,322.58 L625.51,322.58 L626.26,322.58 L627.02,322.58 L627.78,322.58 L628.54,322.58 L629.31,322.58 L630.09,322.58 L630.87,322.58 L631.65,322.58 L632.44,322.58 L633.23,322.58 L634.03,322.58 L634.83,322.58 L635.64,322.58 L636.45,322.58 L637.27,322.58 L638.09,322.58 L638.91,322.58 L639.74,322.58 L640.58,322.58 L641.42,322.58 L642.26,322.58 L643.11,322.58 L643.96,322.58 L644.82,322.58 L645.68,322.58 L646.55,322.58 L647.42,322.58 L648.3,322.58 L649.18,322.58 L650.07,322.58 L650.96,322.58 L651.85,322.58 L652.75,322.58 L653.66,322.58 L654.57,322.58 L655.48,322.58 L656.4,322.58 L657.33,322.58 L658.26,322.58 L659.19,322.58 L660.13,322.58 L661.07,322.58 L662.02,322.58 L662.98,322.58 L663.93,322.58 L664.9,322.58 L665.87,322.58 L666.84,322.58 L667.82,322.58" stroke="#9a2aac" stroke-width="1.3" fill="none" stroke-linejoin="round"/>
<path d="M433.3,373.56 L433.3,373.54 L433.3,373.42 L433.3,373.17 L433.3,372.77 L433.3,372.18 L433.31,371.39 L433.31,370.41 L433.31,369.22 L433.32,367.83 L433.32,366.25 L433.33,364.49 L433.34,362.57 L433.35,360.51 L433.35,358.35 L433.36,356.1 L433.38,353.81 L433.39,351.51 L433.4,349.23 L433.42,346.99 L433.43,344.83 L433.45,342.76 L433.47,340.82 L433.49,339.01 L433.51,337.35 L433.53,335.85 L433.56,334.5 L433.58,333.3 L433.61,332.26 L433.64,331.35 L433.67,330.58 L433.7,329.93 L433.73,329.39 L433.76,328.94 L433.8,328.57 L433.84,328.27 L433.88,328.03 L433.92,327.84 L433.96,327.69 L434,327.57 L434.05,327.47 L434.1,327.39 L434.15,327.33 L434.2,327.28 L434.25,327.23 L434.31,327.2 L434.36,327.16 L434.42,327.13 L434.48,327.11 L434.55,327.08 L434.61,327.06 L434.68,327.03 L434.75,327.01 L434.82,326.99 L434.89,326.97 L434.96,326.95 L435.04,326.93 L435.12,326.92 L435.2,326.9 L435.28,326.88 L435.37,326.87 L435.46,326.85 L435.54,326.84 L435.64,326.83 L435.73,326.81 L435.83,326.8 L435.92,326.79 L436.03,326.78 L436.13,326.77 L436.23,326.76 L436.34,326.75 L436.45,326.75 L436.56,326.74 L436.68,326.73 L436.79,326.73 L436.91,326.72 L437.03,326.71 L437.16,326.71 L437.29,326.71 L437.41,326.7 L437.55,326.7 L437.68,326.69 L437.82,326.69 L437.96,326.69 L438.1,326.69 L438.24,326.68 L438.39,326.68 L438.54,326.68 L438.69,326.68 L438.84,326.68 L439,326.68 L439.16,326.67 L439.32,326.67 L439.49,326.67 L439.65,326.67 L439.82,326.67 L440,326.67 L440.17,326.67 L440.35,326.67 L440.53,326.67 L440.72,326.67 L440.9,326.67 L441.09,326.67 L441.29,326.67 L441.48,326.67 L441.68,326.67 L441.88,326.67 L442.08,326.67 L442.29,326.67 L442.5,326.67 L442.71,326.67 L442.93,326.67 L443.15,326.67 L443.37,326.67 L443.59,326.67 L443.82,326.67 L444.05,326.67 L444.28,326.67 L444.52,326.67 L444.76,326.67 L445,326.67 L445.25,326.67 L445.49,326.67 L445.74,326.67 L446,326.67 L446.26,326.67 L446.52,326.67 L446.78,326.67 L447.05,326.67 L447.32,326.67 L447.59,326.67 L447.87,326.67 L448.15,326.67 L448.43,326.67 L448.72,326.67 L449.01,326.67 L449.3,326.67 L449.59,326.67 L449.89,326.67 L450.2,326.67 L450.5,326.67 L450.81,326.67 L451.12,326.67 L451.44,326.67 L451.76,326.67 L452.08,326.67 L452.4,326.67 L452.73,326.67 L453.06,326.67 L453.4,326.67 L453.74,326.67 L454.08,326.67 L454.43,326.67 L454.78,326.67 L455.13,326.67 L455.48,326.67 L455.84,326.67 L456.21,326.67 L456.57,326.67 L456.94,326.67 L457.32,326.67 L457.69,326.67 L458.08,326.67 L458.46,326.67 L458.85,326.67 L459.24,326.67 L459.63,326.67 L460.03,326.67 L460.43,326.67 L460.84,326.67 L461.25,326.67 L461.66,326.67 L462.08,326.67 L462.5,326.67 L462.92,326.67 L463.35,326.67 L463.78,326.67 L464.21,326.67 L464.65,326.67 L465.1,326.67 L465.54,326.67 L465.99,326.67 L466.44,326.67 L466.9,326.67 L467.36,326.67 L467.83,326.67 L468.3,326.67 L468.77,326.67 L469.24,326.67 L469.72,326.67 L470.21,326.67 L470.69,326.67 L471.19,326.67 L471.68,326.67 L472.18,326.67 L472.68,326.67 L473.19,326.67 L473.7,326.67 L474.22,326.67 L474.73,326.67 L475.26,326.67 L475.78,326.67 L476.31,326.67 L476.85,326.67 L477.39,326.67 L477.93,326.67 L478.47,326.67 L479.03,326.67 L479.58,326.67 L480.14,326.67 L480.7,326.67 L481.27,326.67 L481.84,326.67 L482.41,326.67 L482.99,326.67 L483.57,326.67 L484.16,326.67 L484.75,326.67 L485.34,326.67 L485.94,326.67 L486.55,326.67 L487.15,326.67 L487.76,326.67 L488.38,326.67 L489,326.67 L489.62,326.67 L490.25,326.67 L490.88,326.67 L491.52,326.67 L492.16,326.67 L492.8,326.67 L493.45,326.67 L494.11,326.67 L494.76,326.67 L495.43,326.67 L496.09,326.67 L496.76,326.67 L497.44,326.67 L498.11,326.67 L498.8,326.67 L499.48,326.67 L500.18,326.67 L500.87,326.67 L501.57,326.67 L502.28,326.67 L502.99,326.67 L503.7,326.67 L504.42,326.67 L505.14,326.67 L505.87,326.67 L506.6,326.67 L507.33,326.67 L508.07,326.67 L508.81,326.67 L509.56,326.67 L510.32,326.67 L511.07,326.67 L511.83,326.67 L512.6,326.67 L513.37,326.67 L514.15,326.67 L514.93,326.67 L515.71,326.67 L516.5,326.67 L517.29,326.67 L518.09,326.67 L518.89,326.67 L519.7,326.67 L520.51,326.67 L521.33,326.67 L522.15,326.67 L522.97,326.67 L523.8,326.67 L524.63,326.67 L525.47,326.67 L526.32,326.67 L527.16,326.67 L528.02,326.67 L528.87,326.67 L529.74,326.67 L530.6,326.67 L531.47,326.67 L532.35,326.67 L533.23,326.67 L534.12,326.67 L535,326.67 L535.9,326.67 L536.8,326.67 L537.7,326.67 L538.61,326.67 L539.52,326.67 L540.44,326.67 L541.37,326.67 L542.29,326.67 L543.23,326.67 L544.16,326.67 L545.1,326.67 L546.05,326.67 L547,326.67 L547.96,326.67 L548.92,326.67 L550.19,308.87 L550.19,308.87 L550.19,308.89 L550.19,308.91 L550.19,308.96 L550.2,309.02 L550.2,309.1 L550.2,309.21 L550.21,309.35 L550.21,309.51 L550.22,309.69 L550.22,309.91 L550.23,310.15 L550.24,310.41 L550.25,310.7 L550.26,311.02 L550.27,311.36 L550.28,311.72 L550.3,312.1 L550.31,312.5 L550.33,312.92 L550.34,313.35 L550.36,313.79 L550.38,314.24 L550.4,314.69 L550.43,315.14 L550.45,315.6 L550.48,316.05 L550.5,316.49 L550.53,316.93 L550.56,317.36 L550.6,317.77 L550.63,318.17 L550.66,318.55 L550.7,318.92 L550.74,319.26 L550.78,319.59 L550.82,319.89 L550.86,320.18 L550.91,320.44 L550.96,320.69 L551,320.91 L551.05,321.12 L551.11,321.3 L551.16,321.47 L551.22,321.62 L551.27,321.75 L551.33,321.87 L551.4,321.98 L551.46,322.07 L551.53,322.15 L551.59,322.22 L551.66,322.28 L551.73,322.33 L551.81,322.37 L551.88,322.41 L551.96,322.44 L552.04,322.47 L552.12,322.49 L552.21,322.51 L552.3,322.52 L552.38,322.53 L552.48,322.54 L552.57,322.55 L552.66,322.56 L552.76,322.56 L552.86,322.57 L552.96,322.57 L553.07,322.57 L553.18,322.57 L553.29,322.57 L553.4,322.58 L553.51,322.58 L553.63,322.58 L553.75,322.58 L553.87,322.58 L553.99,322.58 L554.12,322.58 L554.25,322.58 L554.38,322.58 L554.51,322.58 L554.65,322.58 L554.79,322.58 L554.93,322.58 L555.07,322.58 L555.22,322.58 L555.37,322.58 L555.52,322.58 L555.67,322.58 L555.83,322.58 L555.99,322.58 L556.15,322.58 L556.32,322.58 L556.49,322.58 L556.66,322.58 L556.83,322.58 L557.01,322.58 L557.18,322.58 L557.37,322.58 L557.55,322.58 L557.74,322.58 L557.93,322.58 L558.12,322.58 L558.32,322.58 L558.51,322.58 L558.72,322.58 L558.92,322.58 L559.13,322.58 L559.34,322.58 L559.55,322.58 L559.77,322.58 L559.99,322.58 L560.21,322.58 L560.43,322.58 L560.66,322.58 L560.89,322.58 L561.13,322.58 L561.36,322.58 L561.6,322.58 L561.85,322.58 L562.09,322.58 L562.34,322.58 L562.6,322.58 L562.85,322.58 L563.11,322.58 L563.37,322.58 L563.64,322.58 L563.91,322.58 L564.18,322.58 L564.45,322.58 L564.73,322.58 L565.01,322.58 L565.3,322.58 L565.58,322.58 L565.88,322.58 L566.17,322.58 L566.47,322.58 L566.77,322.58 L567.07,322.58 L567.38,322.58 L567.69,322.58 L568,322.58 L568.32,322.58 L568.64,322.58 L568.97,322.58 L569.3,322.58 L569.63,322.58 L569.96,322.58 L570.3,322.58 L570.64,322.58 L570.99,322.58 L571.33,322.58 L571.69,322.58 L572.04,322.58 L572.4,322.58 L572.76,322.58 L573.13,322.58 L573.5,322.58 L573.87,322.58 L574.25,322.58 L574.63,322.58 L575.01,322.58 L575.4,322.58 L575.79,322.58 L576.18,322.58 L576.58,322.58 L576.98,322.58 L577.39,322.58 L577.8,322.58 L578.21,322.58 L578.62,322.58 L579.04,322.58 L579.47,322.58 L579.9,322.58 L580.33,322.58 L580.76,322.58 L581.2,322.58 L581.64,322.58 L582.09,322.58 L582.54,322.58 L582.99,322.58 L583.45,322.58 L583.91,322.58 L584.38,322.58 L584.84,322.58 L585.32,322.58 L585.79,322.58 L586.27,322.58 L586.76,322.58 L587.25,322.58 L587.74,322.58 L588.23,322.58 L588.73,322.58 L589.24,322.58 L589.75,322.58 L590.26,322.58 L590.77,322.58 L591.29,322.58 L591.82,322.58 L592.34,322.58 L592.88,322.58 L593.41,322.58 L593.95,322.58 L594.49,322.58 L595.04,322.58 L595.59,322.58 L596.15,322.58 L596.71,322.58 L597.27,322.58 L597.84,322.58 L598.41,322.58 L598.99,322.58 L599.57,322.58 L600.15,322.58 L600.74,322.58 L601.34,322.58 L601.93,322.58 L602.53,322.58 L603.14,322.58 L603.75,322.58 L604.36,322.58 L604.98,322.58 L605.6,322.58 L606.23,322.58 L606.86,322.58 L607.49,322.58 L608.13,322.58 L608.77,322.58 L609.42,322.58 L610.07,322.58 L610.73,322.58 L611.39,322.58 L612.05,322.58 L612.72,322.58 L613.39,322.58 L614.07,322.58 L614.75,322.58 L615.44,322.58 L616.13,322.58 L616.82,322.58 L617.52,322.58 L618.23,322.58 L618.94,322.58 L619.65,322.58 L620.36,322.58 L621.09,322.58 L621.81,322.58 L622.54,322.58 L623.28,322.58 L624.01,322.58 L624.76,322.58 L625.51,322.58 L626.26,322.58 L627.02,322.58 L627.78,322.58 L628.54,322.58 L629.31,322.58 L630.09,322.58 L630.87,322.58 L631.65,322.58 L632.44,322.58 L633.23,322.58 L634.03,322.58 L634.83,322.58 L635.64,322.58 L636.45,322.58 L637.27,322.58 L638.09,322.58 L638.91,322.58 L639.74,322.58 L640.58,322.58 L641.42,322.58 L642.26,322.58 L643.11,322.58 L643.96,322.58 L644.82,322.58 L645.68,322.58 L646.55,322.58 L647.42,322.58 L648.3,322.58 L649.18,322.58 L650.07,322.58 L650.96,322.58 L651.85,322.58 L652.75,322.58 L653.66,322.58 L654.57,322.58 L655.48,322.58 L656.4,322.58 L657.33,322.58 L658.26,322.58 L659.19,322.58 L660.13,322.58 L661.07,322.58 L662.02,322.58 L662.98,322.58 L663.93,322.58 L664.9,322.58 L665.87,322.58 L666.84,322.58 L667.82,322.58" stroke="#8b1a22" stroke-width="1.2" fill="none" stroke-linejoin="round"/>
<path d="M437.15,325.99 L437.15,327.43 M435.22,325.99 L439.08,325.99 M435.22,327.43 L439.08,327.43 M441.01,325.95 L441.01,327.39 M439.08,325.95 L442.94,325.95 M439.08,327.39 L442.94,327.39 M444.86,325.95 L444.86,327.39 M442.93,325.95 L446.79,325.95 M442.93,327.39 L446.79,327.39 M448.72,325.95 L448.72,327.39 M446.79,325.95 L450.65,325.95 M446.79,327.39 L450.65,327.39 M452.57,325.95 L452.57,327.39 M450.64,325.95 L454.5,325.95 M450.64,327.39 L454.5,327.39 M456.42,325.95 L456.42,327.39 M454.49,325.95 L458.35,325.95 M454.49,327.39 L458.35,327.39 M460.28,325.95 L460.28,327.39 M458.35,325.95 L462.21,325.95 M458.35,327.39 L462.21,327.39 M464.13,325.95 L464.13,327.39 M462.2,325.95 L466.06,325.95 M462.2,327.39 L466.06,327.39 M467.99,325.95 L467.99,327.39 M466.06,325.95 L469.92,325.95 M466.06,327.39 L469.92,327.39 M471.84,325.95 L471.84,327.39 M469.91,325.95 L473.77,325.95 M469.91,327.39 L473.77,327.39 M475.69,325.95 L475.69,327.39 M473.76,325.95 L477.62,325.95 M473.76,327.39 L477.62,327.39 M479.55,325.95 L479.55,327.39 M477.62,325.95 L481.48,325.95 M477.62,327.39 L481.48,327.39 M483.4,325.95 L483.4,327.39 M481.47,325.95 L485.33,325.95 M481.47,327.39 L485.33,327.39 M487.26,325.95 L487.26,327.39 M485.33,325.95 L489.19,325.95 M485.33,327.39 L489.19,327.39 M491.11,325.95 L491.11,327.39 M489.18,325.95 L493.04,325.95 M489.18,327.39 L493.04,327.39 M494.96,325.95 L494.96,327.39 M493.03,325.95 L496.89,325.95 M493.03,327.39 L496.89,327.39 M498.82,325.95 L498.82,327.39 M496.89,325.95 L500.75,325.95 M496.89,327.39 L500.75,327.39 M502.67,325.95 L502.67,327.39 M500.74,325.95 L504.6,325.95 M500.74,327.39 L504.6,327.39 M506.53,325.95 L506.53,327.39 M504.6,325.95 L508.46,325.95 M504.6,327.39 L508.46,327.39 M510.38,325.95 L510.38,327.39 M508.45,325.95 L512.31,325.95 M508.45,327.39 L512.31,327.39 M514.23,325.95 L514.23,327.39 M512.3,325.95 L516.16,325.95 M512.3,327.39 L516.16,327.39 M518.09,325.95 L518.09,327.39 M516.16,325.95 L520.02,325.95 M516.16,327.39 L520.02,327.39 M521.94,325.95 L521.94,327.39 M520.01,325.95 L523.87,325.95 M520.01,327.39 L523.87,327.39 M525.8,325.95 L525.8,327.39 M523.87,325.95 L527.73,325.95 M523.87,327.39 L527.73,327.39 M529.65,325.95 L529.65,327.39 M527.72,325.95 L531.58,325.95 M527.72,327.39 L531.58,327.39 M533.5,325.95 L533.5,327.39 M531.57,325.95 L535.43,325.95 M531.57,327.39 L535.43,327.39 M537.36,325.95 L537.36,327.39 M535.43,325.95 L539.29,325.95 M535.43,327.39 L539.29,327.39 M541.21,325.95 L541.21,327.39 M539.28,325.95 L543.14,325.95 M539.28,327.39 L543.14,327.39 M545.07,325.95 L545.07,327.39 M543.14,325.95 L547,325.95 M543.14,327.39 L547,327.39 M548.92,325.95 L548.92,327.39 M546.99,325.95 L550.85,325.95 M546.99,327.39 L550.85,327.39" stroke="#8b1a22" stroke-width="0.9" fill="none"/>
<path d="M437.15,325.26 L437.15,326.7 M435.22,325.26 L439.08,325.26 M435.22,326.7 L439.08,326.7 M441.01,325.23 L441.01,326.67 M439.08,325.23 L442.94,325.23 M439.08,326.67 L442.94,326.67 M444.86,325.22 L444.86,326.67 M442.93,325.22 L446.79,325.22 M442.93,326.67 L446.79,326.67 M448.72,325.22 L448.72,326.67 M446.79,325.22 L450.65,325.22 M446.79,326.67 L450.65,326.67 M452.57,325.22 L452.57,326.67 M450.64,325.22 L454.5,325.22 M450.64,326.67 L454.5,326.67 M456.42,325.22 L456.42,326.67 M454.49,325.22 L458.35,325.22 M454.49,326.67 L458.35,326.67 M460.28,325.22 L460.28,326.67 M458.35,325.22 L462.21,325.22 M458.35,326.67 L462.21,326.67 M464.13,325.22 L464.13,326.67 M462.2,325.22 L466.06,325.22 M462.2,326.67 L466.06,326.67 M467.99,325.22 L467.99,326.67 M466.06,325.22 L469.92,325.22 M466.06,326.67 L469.92,326.67 M471.84,325.22 L471.84,326.67 M469.91,325.22 L473.77,325.22 M469.91,326.67 L473.77,326.67 M475.69,325.22 L475.69,326.67 M473.76,325.22 L477.62,325.22 M473.76,326.67 L477.62,326.67 M479.55,325.22 L479.55,326.67 M477.62,325.22 L481.48,325.22 M477.62,326.67 L481.48,326.67 M483.4,325.22 L483.4,326.67 M481.47,325.22 L485.33,325.22 M481.47,326.67 L485.33,326.67 M487.26,325.22 L487.26,326.67 M485.33,325.22 L489.19,325.22 M485.33,326.67 L489.19,326.67 M491.11,325.22 L491.11,326.67 M489.18,325.22 L493.04,325.22 M489.18,326.67 L493.04,326.67 M494.96,325.22 L494.96,326.67 M493.03,325.22 L496.89,325.22 M493.03,326.67 L496.89,326.67 M498.82,325.22 L498.82,326.67 M496.89,325.22 L500.75,325.22 M496.89,326.67 L500.75,326.67 M502.67,325.22 L502.67,326.67 M500.74,325.22 L504.6,325.22 M500.74,326.67 L504.6,326.67 M506.53,325.22 L506.53,326.67 M504.6,325.22 L508.46,325.22 M504.6,326.67 L508.46,326.67 M510.38,325.22 L510.38,326.67 M508.45,325.22 L512.31,325.22 M508.45,326.67 L512.31,326.67 M514.23,325.22 L514.23,326.67 M512.3,325.22 L516.16,325.22 M512.3,326.67 L516.16,326.67 M518.09,325.22 L518.09,326.67 M516.16,325.22 L520.02,325.22 M516.16,326.67 L520.02,326.67 M521.94,325.22 L521.94,326.67 M520.01,325.22 L523.87,325.22 M520.01,326.67 L523.87,326.67 M525.8,325.22 L525.8,326.67 M523.87,325.22 L527.73,325.22 M523.87,326.67 L527.73,326.67 M529.65,325.22 L529.65,326.67 M527.72,325.22 L531.58,325.22 M527.72,326.67 L531.58,326.67 M533.5,325.22 L533.5,326.67 M531.57,325.22 L535.43,325.22 M531.57,326.67 L535.43,326.67 M537.36,325.22 L537.36,326.67 M535.43,325.22 L539.29,325.22 M535.43,326.67 L539.29,326.67 M541.21,325.22 L541.21,326.67 M539.28,325.22 L543.14,325.22 M539.28,326.67 L543.14,326.67 M545.07,325.22 L545.07,326.67 M543.14,325.22 L547,325.22 M543.14,326.67 L547,326.67 M548.92,325.22 L548.92,326.67 M546.99,325.22 L550.85,325.22 M546.99,326.67 L550.85,326.67" stroke="#1f8a8c" stroke-width="0.9" fill="none"/>
<path d="M433.3,377.89 L433.3,377.86 L433.3,377.71 L433.3,377.39 L433.3,376.86 L433.3,376.09 L433.31,375.08 L433.31,373.82 L433.31,372.29 L433.32,370.52 L433.32,368.51 L433.33,366.3 L433.34,363.9 L433.35,361.36 L433.35,358.72 L433.36,356.01 L433.38,353.28 L433.39,350.58 L433.4,347.94 L433.42,345.4 L433.43,342.99 L433.45,340.74 L433.47,338.66 L433.49,336.78 L433.51,335.09 L433.53,333.6 L433.56,332.3 L433.58,331.19 L433.61,330.24 L433.64,329.46 L433.67,328.8 L433.7,328.28 L433.73,327.85 L433.76,327.51 L433.8,327.25 L433.84,327.04 L433.88,326.88 L433.92,326.75 L433.96,326.66 L434,326.58 L434.05,326.53 L434.1,326.48 L434.15,326.44 L434.2,326.41 L434.25,326.38 L434.31,326.36 L434.36,326.33 L434.42,326.31 L434.48,326.29 L434.55,326.27 L434.61,326.26 L434.68,326.24 L434.75,326.22 L434.82,326.2 L434.89,326.19 L434.96,326.17 L435.04,326.16 L435.12,326.14 L435.2,326.13 L435.28,326.12 L435.37,326.11 L435.46,326.09 L435.54,326.08 L435.64,326.07 L435.73,326.06 L435.83,326.05 L435.92,326.04 L436.03,326.04 L436.13,326.03 L436.23,326.02 L436.34,326.01 L436.45,326.01 L436.56,326 L436.68,326 L436.79,325.99 L436.91,325.99 L437.03,325.98 L437.16,325.98 L437.29,325.98 L437.41,325.97 L437.55,325.97 L437.68,325.97 L437.82,325.96 L437.96,325.96 L438.1,325.96 L438.24,325.96 L438.39,325.96 L438.54,325.96 L438.69,325.95 L438.84,325.95 L439,325.95 L439.16,325.95 L439.32,325.95 L439.49,325.95 L439.65,325.95 L439.82,325.95 L440,325.95 L440.17,325.95 L440.35,325.95 L440.53,325.95 L440.72,325.95 L440.9,325.95 L441.09,325.95 L441.29,325.95 L441.48,325.95 L441.68,325.95 L441.88,325.95 L442.08,325.95 L442.29,325.95 L442.5,325.95 L442.71,325.95 L442.93,325.95 L443.15,325.95 L443.37,325.95 L443.59,325.95 L443.82,325.95 L444.05,325.95 L444.28,325.95 L444.52,325.95 L444.76,325.95 L445,325.95 L445.25,325.95 L445.49,325.95 L445.74,325.95 L446,325.95 L446.26,325.95 L446.52,325.95 L446.78,325.95 L447.05,325.95 L447.32,325.95 L447.59,325.95 L447.87,325.95 L448.15,325.95 L448.43,325.95 L448.72,325.95 L449.01,325.95 L449.3,325.95 L449.59,325.95 L449.89,325.95 L450.2,325.95 L450.5,325.95 L450.81,325.95 L451.12,325.95 L451.44,325.95 L451.76,325.95 L452.08,325.95 L452.4,325.95 L452.73,325.95 L453.06,325.95 L453.4,325.95 L453.74,325.95 L454.08,325.95 L454.43,325.95 L454.78,325.95 L455.13,325.95 L455.48,325.95 L455.84,325.95 L456.21,325.95 L456.57,325.95 L456.94,325.95 L457.32,325.95 L457.69,325.95 L458.08,325.95 L458.46,325.95 L458.85,325.95 L459.24,325.95 L459.63,325.95 L460.03,325.95 L460.43,325.95 L460.84,325.95 L461.25,325.95 L461.66,325.95 L462.08,325.95 L462.5,325.95 L462.92,325.95 L463.35,325.95 L463.78,325.95 L464.21,325.95 L464.65,325.95 L465.1,325.95 L465.54,325.95 L465.99,325.95 L466.44,325.95 L466.9,325.95 L467.36,325.95 L467.83,325.95 L468.3,325.95 L468.77,325.95 L469.24,325.95 L469.72,325.95 L470.21,325.95 L470.69,325.95 L471.19,325.95 L471.68,325.95 L472.18,325.95 L472.68,325.95 L473.19,325.95 L473.7,325.95 L474.22,325.95 L474.73,325.95 L475.26,325.95 L475.78,325.95 L476.31,325.95 L476.85,325.95 L477.39,325.95 L477.93,325.95 L478.47,325.95 L479.03,325.95 L479.58,325.95 L480.14,325.95 L480.7,325.95 L481.27,325.95 L481.84,325.95 L482.41,325.95 L482.99,325.95 L483.57,325.95 L484.16,325.95 L484.75,325.95 L485.34,325.95 L485.94,325.95 L486.55,325.95 L487.15,325.95 L487.76,325.95 L488.38,325.95 L489,325.95 L489.62,325.95 L490.25,325.95 L490.88,325.95 L491.52,325.95 L492.16,325.95 L492.8,325.95 L493.45,325.95 L494.11,325.95 L494.76,325.95 L495.43,325.95 L496.09,325.95 L496.76,325.95 L497.44,325.95 L498.11,325.95 L498.8,325.95 L499.48,325.95 L500.18,325.95 L500.87,325.95 L501.57,325.95 L502.28,325.95 L502.99,325.95 L503.7,325.95 L504.42,325.95 L505.14,325.95 L505.87,325.95 L506.6,325.95 L507.33,325.95 L508.07,325.95 L508.81,325.95 L509.56,325.95 L510.32,325.95 L511.07,325.95 L511.83,325.95 L512.6,325.95 L513.37,325.95 L514.15,325.95 L514.93,325.95 L515.71,325.95 L516.5,325.95 L517.29,325.95 L518.09,325.95 L518.89,325.95 L519.7,325.95 L520.51,325.95 L521.33,325.95 L522.15,325.95 L522.97,325.95 L523.8,325.95 L524.63,325.95 L525.47,325.95 L526.32,325.95 L527.16,325.95 L528.02,325.95 L528.87,325.95 L529.74,325.95 L530.6,325.95 L531.47,325.95 L532.35,325.95 L533.23,325.95 L534.12,325.95 L535,325.95 L535.9,325.95 L536.8,325.95 L537.7,325.95 L538.61,325.95 L539.52,325.95 L540.44,325.95 L541.37,325.95 L542.29,325.95 L543.23,325.95 L544.16,325.95 L545.1,325.95 L546.05,325.95 L547,325.95 L547.96,325.95 L548.92,325.95 L550.19,295.64 L550.19,295.65 L550.19,295.67 L550.19,295.72 L550.19,295.8 L550.2,295.91 L550.2,296.06 L550.2,296.26 L550.21,296.5 L550.21,296.78 L550.22,297.12 L550.22,297.5 L550.23,297.93 L550.24,298.41 L550.25,298.94 L550.26,299.51 L550.27,300.13 L550.28,300.79 L550.3,301.49 L550.31,302.22 L550.33,302.99 L550.34,303.78 L550.36,304.6 L550.38,305.43 L550.4,306.28 L550.43,307.13 L550.45,307.99 L550.48,308.85 L550.5,309.71 L550.53,310.55 L550.56,311.38 L550.6,312.19 L550.63,312.97 L550.66,313.73 L550.7,314.46 L550.74,315.16 L550.78,315.83 L550.82,316.46 L550.86,317.05 L550.91,317.61 L550.96,318.13 L551,318.61 L551.05,319.06 L551.11,319.47 L551.16,319.84 L551.22,320.18 L551.27,320.48 L551.33,320.76 L551.4,321.01 L551.46,321.23 L551.53,321.42 L551.59,321.59 L551.66,321.74 L551.73,321.87 L551.81,321.98 L551.88,322.08 L551.96,322.17 L552.04,322.24 L552.12,322.3 L552.21,322.35 L552.3,322.39 L552.38,322.43 L552.48,322.46 L552.57,322.48 L552.66,322.5 L552.76,322.52 L552.86,322.53 L552.96,322.54 L553.07,322.55 L553.18,322.55 L553.29,322.56 L553.4,322.56 L553.51,322.57 L553.63,322.57 L553.75,322.57 L553.87,322.57 L553.99,322.58 L554.12,322.58 L554.25,322.58 L554.38,322.58 L554.51,322.58 L554.65,322.58 L554.79,322.58 L554.93,322.58 L555.07,322.58 L555.22,322.58 L555.37,322.58 L555.52,322.58 L555.67,322.58 L555.83,322.58 L555.99,322.58 L556.15,322.58 L556.32,322.58 L556.49,322.58 L556.66,322.58 L556.83,322.58 L557.01,322.58 L557.18,322.58 L557.37,322.58 L557.55,322.58 L557.74,322.58 L557.93,322.58 L558.12,322.58 L558.32,322.58 L558.51,322.58 L558.72,322.58 L558.92,322.58 L559.13,322.58 L559.34,322.58 L559.55,322.58 L559.77,322.58 L559.99,322.58 L560.21,322.58 L560.43,322.58 L560.66,322.58 L560.89,322.58 L561.13,322.58 L561.36,322.58 L561.6,322.58 L561.85,322.58 L562.09,322.58 L562.34,322.58 L562.6,322.58 L562.85,322.58 L563.11,322.58 L563.37,322.58 L563.64,322.58 L563.91,322.58 L564.18,322.58 L564.45,322.58 L564.73,322.58 L565.01,322.58 L565.3,322.58 L565.58,322.58 L565.88,322.58 L566.17,322.58 L566.47,322.58 L566.77,322.58 L567.07,322.58 L567.38,322.58 L567.69,322.58 L568,322.58 L568.32,322.58 L568.64,322.58 L568.97,322.58 L569.3,322.58 L569.63,322.58 L569.96,322.58 L570.3,322.58 L570.64,322.58 L570.99,322.58 L571.33,322.58 L571.69,322.58 L572.04,322.58 L572.4,322.58 L572.76,322.58 L573.13,322.58 L573.5,322.58 L573.87,322.58 L574.25,322.58 L574.63,322.58 L575.01,322.58 L575.4,322.58 L575.79,322.58 L576.18,322.58 L576.58,322.58 L576.98,322.58 L577.39,322.58 L577.8,322.58 L578.21,322.58 L578.62,322.58 L579.04,322.58 L579.47,322.58 L579.9,322.58 L580.33,322.58 L580.76,322.58 L581.2,322.58 L581.64,322.58 L582.09,322.58 L582.54,322.58 L582.99,322.58 L583.45,322.58 L583.91,322.58 L584.38,322.58 L584.84,322.58 L585.32,322.58 L585.79,322.58 L586.27,322.58 L586.76,322.58 L587.25,322.58 L587.74,322.58 L588.23,322.58 L588.73,322.58 L589.24,322.58 L589.75,322.58 L590.26,322.58 L590.77,322.58 L591.29,322.58 L591.82,322.58 L592.34,322.58 L592.88,322.58 L593.41,322.58 L593.95,322.58 L594.49,322.58 L595.04,322.58 L595.59,322.58 L596.15,322.58 L596.71,322.58 L597.27,322.58 L597.84,322.58 L598.41,322.58 L598.99,322.58 L599.57,322.58 L600.15,322.58 L600.74,322.58 L601.34,322.58 L601.93,322.58 L602.53,322.58 L603.14,322.58 L603.75,322.58 L604.36,322.58 L604.98,322.58 L605.6,322.58 L606.23,322.58 L606.86,322.58 L607.49,322.58 L608.13,322.58 L608.77,322.58 L609.42,322.58 L610.07,322.58 L610.73,322.58 L611.39,322.58 L612.05,322.58 L612.72,322.58 L613.39,322.58 L614.07,322.58 L614.75,322.58 L615.44,322.58 L616.13,322.58 L616.82,322.58 L617.52,322.58 L618.23,322.58 L618.94,322.58 L619.65,322.58 L620.36,322.58 L621.09,322.58 L621.81,322.58 L622.54,322.58 L623.28,322.58 L624.01,322.58 L624.76,322.58 L625.51,322.58 L626.26,322.58 L627.02,322.58 L627.78,322.58 L628.54,322.58 L629.31,322.58 L630.09,322.58 L630.87,322.58 L631.65,322.58 L632.44,322.58 L633.23,322.58 L634.03,322.58 L634.83,322.58 L635.64,322.58 L636.45,322.58 L637.27,322.58 L638.09,322.58 L638.91,322.58 L639.74,322.58 L640.58,322.58 L641.42,322.58 L642.26,322.58 L643.11,322.58 L643.96,322.58 L644.82,322.58 L645.68,322.58 L646.55,322.58 L647.42,322.58 L648.3,322.58 L649.18,322.58 L650.07,322.58 L650.96,322.58 L651.85,322.58 L652.75,322.58 L653.66,322.58 L654.57,322.58 L655.48,322.58 L656.4,322.58 L657.33,322.58 L658.26,322.58 L659.19,322.58 L660.13,322.58 L661.07,322.58 L662.02,322.58 L662.98,322.58 L663.93,322.58 L664.9,322.58 L665.87,322.58 L666.84,322.58 L667.82,322.58" stroke="#1f8a8c" stroke-width="1.4" fill="none" stroke-linejoin="round"/>
<line x1="548.8" y1="215.8" x2="548.8" y2="431.2" stroke="#4a4a4a" stroke-width="1.5" stroke-dasharray="6.6,2.2"/>
<line x1="426" y1="240.5" x2="540.8" y2="240.5" stroke="#333" stroke-width="1.05"/><path d="M424,240.5 L428.1,238.2 L427.7,240.5 L428.1,242.8 Z" fill="#1a1a1a"/><path d="M542.8,240.5 L538.7,238.2 L539.1,240.5 L538.7,242.8 Z" fill="#1a1a1a"/><line x1="559.8" y1="240.5" x2="674.2" y2="240.5" stroke="#333" stroke-width="1.05"/><path d="M557.8,240.5 L561.9,238.2 L561.5,240.5 L561.9,242.8 Z" fill="#1a1a1a"/><path d="M676.2,240.5 L672.1,238.2 L672.5,240.5 L672.1,242.8 Z" fill="#1a1a1a"/><text x="481.7" y="234.5" font-family="Liberation Sans, sans-serif" font-size="11.5" fill="#111" text-anchor="middle">-400 mV</text><text x="615.2" y="234.5" font-family="Liberation Sans, sans-serif" font-size="11.5" fill="#111" text-anchor="middle">0 mV</text>
<rect x="467.5" y="356.2" width="75.89999999999998" height="60.30000000000001" fill="#fff" stroke="#555" stroke-width="1"/>
<clipPath id="ic"><rect x="467.5" y="356.2" width="75.89999999999998" height="60.30000000000001"/></clipPath>
<g clip-path="url(#ic)">
<path d="M475.2,397.4 L475.2,397.4 L475.2,397.4 L475.2,397.4 L475.2,397.39 L475.21,397.39 L475.21,397.38 L475.22,397.37 L475.22,397.36 L475.23,397.35 L475.24,397.34 L475.25,397.32 L475.27,397.3 L475.28,397.28 L475.3,397.25 L475.31,397.22 L475.33,397.19 L475.36,397.16 L475.38,397.12 L475.41,397.09 L475.43,397.04 L475.46,397 L475.5,396.95 L475.53,396.9 L475.57,396.85 L475.61,396.79 L475.65,396.73 L475.7,396.67 L475.74,396.61 L475.79,396.54 L475.84,396.47 L475.9,396.4 L475.96,396.32 L476.02,396.24 L476.08,396.16 L476.15,396.08 L476.22,396 L476.29,395.91 L476.36,395.82 L476.44,395.73 L476.52,395.64 L476.61,395.55 L476.69,395.45 L476.79,395.36 L476.88,395.26 L476.98,395.16 L477.08,395.06 L477.18,394.96 L477.29,394.86 L477.4,394.76 L477.51,394.66 L477.63,394.56 L477.75,394.46 L477.87,394.35 L478,394.25 L478.13,394.15 L478.27,394.05 L478.41,393.95 L478.55,393.85 L478.7,393.75 L478.85,393.66 L479,393.56 L479.16,393.46 L479.32,393.37 L479.49,393.27 L479.65,393.18 L479.83,393.09 L480.01,393 L480.19,392.91 L480.37,392.82 L480.56,392.74 L480.75,392.65 L480.95,392.57 L481.15,392.49 L481.36,392.41 L481.57,392.33 L481.78,392.25 L482,392.18 L482.23,392.1 L482.45,392.03 L482.69,391.96 L482.92,391.89 L483.16,391.82 L483.41,391.76 L483.66,391.69 L483.91,391.63 L484.17,391.57 L484.43,391.51 L484.7,391.45 L484.97,391.39 L485.25,391.33 L485.53,391.28 L485.82,391.22 L486.11,391.17 L486.4,391.12 L486.7,391.06 L487.01,391.01 L487.32,390.96 L487.63,390.92 L487.95,390.87 L488.28,390.82 L488.61,390.78 L488.94,390.73 L489.28,390.69 L489.62,390.64 L489.97,390.6 L490.33,390.56 L490.69,390.51 L491.05,390.47 L491.42,390.43 L491.8,390.39 L492.18,390.35 L492.56,390.31 L492.95,390.27 L493.35,390.24 L493.75,390.2 L494.15,390.16 L494.56,390.13 L494.98,390.09 L495.4,390.05 L495.83,390.02 L496.26,389.98 L496.7,389.95 L497.14,389.92 L497.59,389.88 L498.04,389.85 L498.5,389.82 L498.97,389.78 L499.44,389.75 L499.92,389.72 L500.4,389.69 L500.89,389.66 L501.38,389.63 L501.88,389.6 L502.38,389.57 L502.89,389.54 L503.41,389.51 L503.93,389.48 L504.46,389.45 L504.99,389.43 L505.53,389.4 L506.07,389.37 L506.62,389.34 L507.18,389.32 L507.74,389.29 L508.31,389.27 L508.88,389.24 L509.46,389.22 L510.05,389.19 L510.64,389.17 L511.24,389.14 L511.84,389.12 L512.45,389.1 L513.07,389.07 L513.69,389.05 L514.31,389.03 L514.95,389.01 L515.59,388.99 L516.23,388.96 L516.89,388.94 L517.55,388.92 L518.21,388.9 L518.88,388.88 L519.56,388.86 L520.24,388.84 L520.93,388.82 L521.63,388.8 L522.33,388.78 L523.04,388.77 L523.75,388.75 L524.48,388.73 L525.2,388.71 L525.94,388.69 L526.68,388.68 L527.43,388.66 L528.18,388.64 L528.94,388.63 L529.71,388.61 L530.48,388.59 L531.26,388.58 L532.04,388.56 L532.84,388.55 L533.64,388.53 L534.44,388.52 L535.26,388.5 L536.08,388.49 L536.9,388.47 L537.73,388.46 L538.57,388.44 L539.42,388.43 L540.27,388.41 L541.13,388.4 L542,388.38 L542.87,388.37 L543.75,388.36 L544.64,388.34 L545.53,388.33 L546.43,388.32 L547.34,388.3 L548.25,388.29 L549.17,388.28" stroke="#ff8a1c" stroke-width="1.3" fill="none"/>
<path d="M488.65,383.87 L488.65,397.67 M486.65,383.87 L490.65,383.87 M486.65,397.67 L490.65,397.67 M502.1,382.68 L502.1,396.48 M500.1,382.68 L504.1,382.68 M500.1,396.48 L504.1,396.48 M515.55,382.09 L515.55,395.89 M513.55,382.09 L517.55,382.09 M513.55,395.89 L517.55,395.89 M529,381.73 L529,395.53 M527,381.73 L531,381.73 M527,395.53 L531,395.53" stroke="#ff8a1c" stroke-width="1.0" fill="none"/>
<path d="M475.2,457.1 L475.2,457.08 L475.2,457 L475.2,456.84 L475.2,456.56 L475.21,456.16 L475.21,455.62 L475.22,454.94 L475.22,454.1 L475.23,453.1 L475.24,451.93 L475.25,450.6 L475.27,449.1 L475.28,447.45 L475.3,445.63 L475.31,443.67 L475.33,441.56 L475.36,439.33 L475.38,436.98 L475.41,434.53 L475.43,431.99 L475.46,429.39 L475.5,426.73 L475.53,424.03 L475.57,421.32 L475.61,418.62 L475.65,415.93 L475.7,413.27 L475.74,410.67 L475.79,408.13 L475.84,405.67 L475.9,403.3 L475.96,401.04 L476.02,398.88 L476.08,396.84 L476.15,394.92 L476.22,393.12 L476.29,391.46 L476.36,389.91 L476.44,388.49 L476.52,387.19 L476.61,386.02 L476.69,384.95 L476.79,383.99 L476.88,383.13 L476.98,382.37 L477.08,381.69 L477.18,381.1 L477.29,380.57 L477.4,380.12 L477.51,379.72 L477.63,379.38 L477.75,379.08 L477.87,378.82 L478,378.6 L478.13,378.42 L478.27,378.25 L478.41,378.12 L478.55,378 L478.7,377.89 L478.85,377.81 L479,377.73 L479.16,377.66 L479.32,377.6 L479.49,377.55 L479.65,377.51 L479.83,377.47 L480.01,377.43 L480.19,377.4 L480.37,377.37 L480.56,377.34 L480.75,377.31 L480.95,377.29 L481.15,377.27 L481.36,377.25 L481.57,377.23 L481.78,377.21 L482,377.19 L482.23,377.18 L482.45,377.16 L482.69,377.15 L482.92,377.14 L483.16,377.12 L483.41,377.11 L483.66,377.1 L483.91,377.09 L484.17,377.09 L484.43,377.08 L484.7,377.07 L484.97,377.06 L485.25,377.06 L485.53,377.05 L485.82,377.05 L486.11,377.04 L486.4,377.04 L486.7,377.03 L487.01,377.03 L487.32,377.03 L487.63,377.02 L487.95,377.02 L488.28,377.02 L488.61,377.02 L488.94,377.01 L489.28,377.01 L489.62,377.01 L489.97,377.01 L490.33,377.01 L490.69,377.01 L491.05,377.01 L491.42,377.01 L491.8,377.01 L492.18,377 L492.56,377 L492.95,377 L493.35,377 L493.75,377 L494.15,377 L494.56,377 L494.98,377 L495.4,377 L495.83,377 L496.26,377 L496.7,377 L497.14,377 L497.59,377 L498.04,377 L498.5,377 L498.97,377 L499.44,377 L499.92,377 L500.4,377 L500.89,377 L501.38,377 L501.88,377 L502.38,377 L502.89,377 L503.41,377 L503.93,377 L504.46,377 L504.99,377 L505.53,377 L506.07,377 L506.62,377 L507.18,377 L507.74,377 L508.31,377 L508.88,377 L509.46,377 L510.05,377 L510.64,377 L511.24,377 L511.84,377 L512.45,377 L513.07,377 L513.69,377 L514.31,377 L514.95,377 L515.59,377 L516.23,377 L516.89,377 L517.55,377 L518.21,377 L518.88,377 L519.56,377 L520.24,377 L520.93,377 L521.63,377 L522.33,377 L523.04,377 L523.75,377 L524.48,377 L525.2,377 L525.94,377 L526.68,377 L527.43,377 L528.18,377 L528.94,377 L529.71,377 L530.48,377 L531.26,377 L532.04,377 L532.84,377 L533.64,377 L534.44,377 L535.26,377 L536.08,377 L536.9,377 L537.73,377 L538.57,377 L539.42,377 L540.27,377 L541.13,377 L542,377 L542.87,377 L543.75,377 L544.64,377 L545.53,377 L546.43,377 L547.34,377 L548.25,377 L549.17,377" stroke="#9a2aac" stroke-width="1.3" fill="none"/>
<path d="M475.2,434 L475.2,433.98 L475.2,433.91 L475.2,433.75 L475.2,433.49 L475.21,433.12 L475.21,432.62 L475.22,431.98 L475.22,431.2 L475.23,430.27 L475.24,429.19 L475.25,427.97 L475.27,426.6 L475.28,425.09 L475.3,423.46 L475.31,421.7 L475.33,419.84 L475.36,417.88 L475.38,415.84 L475.41,413.74 L475.43,411.59 L475.46,409.42 L475.5,407.23 L475.53,405.05 L475.57,402.9 L475.61,400.78 L475.65,398.72 L475.7,396.73 L475.74,394.82 L475.79,392.99 L475.84,391.27 L475.9,389.65 L475.96,388.15 L476.02,386.75 L476.08,385.47 L476.15,384.3 L476.22,383.24 L476.29,382.28 L476.36,381.43 L476.44,380.68 L476.52,380.01 L476.61,379.42 L476.69,378.92 L476.79,378.48 L476.88,378.1 L476.98,377.78 L477.08,377.5 L477.18,377.27 L477.29,377.07 L477.4,376.9 L477.51,376.77 L477.63,376.65 L477.75,376.55 L477.87,376.47 L478,376.4 L478.13,376.34 L478.27,376.29 L478.41,376.24 L478.55,376.2 L478.7,376.16 L478.85,376.13 L479,376.1 L479.16,376.08 L479.32,376.05 L479.49,376.03 L479.65,376 L479.83,375.98 L480.01,375.96 L480.19,375.94 L480.37,375.92 L480.56,375.9 L480.75,375.88 L480.95,375.86 L481.15,375.84 L481.36,375.83 L481.57,375.81 L481.78,375.79 L482,375.78 L482.23,375.76 L482.45,375.75 L482.69,375.73 L482.92,375.72 L483.16,375.71 L483.41,375.7 L483.66,375.68 L483.91,375.67 L484.17,375.66 L484.43,375.65 L484.7,375.64 L484.97,375.63 L485.25,375.62 L485.53,375.62 L485.82,375.61 L486.11,375.6 L486.4,375.59 L486.7,375.59 L487.01,375.58 L487.32,375.57 L487.63,375.57 L487.95,375.56 L488.28,375.56 L488.61,375.55 L488.94,375.55 L489.28,375.55 L489.62,375.54 L489.97,375.54 L490.33,375.54 L490.69,375.53 L491.05,375.53 L491.42,375.53 L491.8,375.52 L492.18,375.52 L492.56,375.52 L492.95,375.52 L493.35,375.52 L493.75,375.52 L494.15,375.51 L494.56,375.51 L494.98,375.51 L495.4,375.51 L495.83,375.51 L496.26,375.51 L496.7,375.51 L497.14,375.51 L497.59,375.51 L498.04,375.51 L498.5,375.5 L498.97,375.5 L499.44,375.5 L499.92,375.5 L500.4,375.5 L500.89,375.5 L501.38,375.5 L501.88,375.5 L502.38,375.5 L502.89,375.5 L503.41,375.5 L503.93,375.5 L504.46,375.5 L504.99,375.5 L505.53,375.5 L506.07,375.5 L506.62,375.5 L507.18,375.5 L507.74,375.5 L508.31,375.5 L508.88,375.5 L509.46,375.5 L510.05,375.5 L510.64,375.5 L511.24,375.5 L511.84,375.5 L512.45,375.5 L513.07,375.5 L513.69,375.5 L514.31,375.5 L514.95,375.5 L515.59,375.5 L516.23,375.5 L516.89,375.5 L517.55,375.5 L518.21,375.5 L518.88,375.5 L519.56,375.5 L520.24,375.5 L520.93,375.5 L521.63,375.5 L522.33,375.5 L523.04,375.5 L523.75,375.5 L524.48,375.5 L525.2,375.5 L525.94,375.5 L526.68,375.5 L527.43,375.5 L528.18,375.5 L528.94,375.5 L529.71,375.5 L530.48,375.5 L531.26,375.5 L532.04,375.5 L532.84,375.5 L533.64,375.5 L534.44,375.5 L535.26,375.5 L536.08,375.5 L536.9,375.5 L537.73,375.5 L538.57,375.5 L539.42,375.5 L540.27,375.5 L541.13,375.5 L542,375.5 L542.87,375.5 L543.75,375.5 L544.64,375.5 L545.53,375.5 L546.43,375.5 L547.34,375.5 L548.25,375.5 L549.17,375.5" stroke="#8b1a22" stroke-width="1.2" fill="none"/>
<path d="M475.2,439.4 L475.2,439.38 L475.2,439.28 L475.2,439.08 L475.2,438.74 L475.21,438.26 L475.21,437.6 L475.22,436.78 L475.22,435.77 L475.23,434.57 L475.24,433.19 L475.25,431.63 L475.27,429.89 L475.28,427.98 L475.3,425.92 L475.31,423.72 L475.33,421.4 L475.36,418.98 L475.38,416.48 L475.41,413.93 L475.43,411.35 L475.46,408.76 L475.5,406.19 L475.53,403.65 L475.57,401.18 L475.61,398.78 L475.65,396.48 L475.7,394.29 L475.74,392.23 L475.79,390.29 L475.84,388.49 L475.9,386.84 L475.96,385.33 L476.02,383.95 L476.08,382.72 L476.15,381.62 L476.22,380.65 L476.29,379.8 L476.36,379.05 L476.44,378.41 L476.52,377.86 L476.61,377.39 L476.69,376.99 L476.79,376.66 L476.88,376.38 L476.98,376.15 L477.08,375.96 L477.18,375.8 L477.29,375.68 L477.4,375.57 L477.51,375.48 L477.63,375.41 L477.75,375.35 L477.87,375.3 L478,375.26 L478.13,375.22 L478.27,375.19 L478.41,375.16 L478.55,375.14 L478.7,375.12 L478.85,375.09 L479,375.07 L479.16,375.05 L479.32,375.03 L479.49,375.02 L479.65,375 L479.83,374.98 L480.01,374.97 L480.19,374.95 L480.37,374.93 L480.56,374.92 L480.75,374.9 L480.95,374.89 L481.15,374.87 L481.36,374.86 L481.57,374.85 L481.78,374.83 L482,374.82 L482.23,374.81 L482.45,374.8 L482.69,374.79 L482.92,374.78 L483.16,374.77 L483.41,374.76 L483.66,374.75 L483.91,374.74 L484.17,374.73 L484.43,374.72 L484.7,374.71 L484.97,374.71 L485.25,374.7 L485.53,374.69 L485.82,374.69 L486.11,374.68 L486.4,374.67 L486.7,374.67 L487.01,374.66 L487.32,374.66 L487.63,374.66 L487.95,374.65 L488.28,374.65 L488.61,374.64 L488.94,374.64 L489.28,374.64 L489.62,374.63 L489.97,374.63 L490.33,374.63 L490.69,374.63 L491.05,374.62 L491.42,374.62 L491.8,374.62 L492.18,374.62 L492.56,374.62 L492.95,374.61 L493.35,374.61 L493.75,374.61 L494.15,374.61 L494.56,374.61 L494.98,374.61 L495.4,374.61 L495.83,374.61 L496.26,374.61 L496.7,374.61 L497.14,374.61 L497.59,374.6 L498.04,374.6 L498.5,374.6 L498.97,374.6 L499.44,374.6 L499.92,374.6 L500.4,374.6 L500.89,374.6 L501.38,374.6 L501.88,374.6 L502.38,374.6 L502.89,374.6 L503.41,374.6 L503.93,374.6 L504.46,374.6 L504.99,374.6 L505.53,374.6 L506.07,374.6 L506.62,374.6 L507.18,374.6 L507.74,374.6 L508.31,374.6 L508.88,374.6 L509.46,374.6 L510.05,374.6 L510.64,374.6 L511.24,374.6 L511.84,374.6 L512.45,374.6 L513.07,374.6 L513.69,374.6 L514.31,374.6 L514.95,374.6 L515.59,374.6 L516.23,374.6 L516.89,374.6 L517.55,374.6 L518.21,374.6 L518.88,374.6 L519.56,374.6 L520.24,374.6 L520.93,374.6 L521.63,374.6 L522.33,374.6 L523.04,374.6 L523.75,374.6 L524.48,374.6 L525.2,374.6 L525.94,374.6 L526.68,374.6 L527.43,374.6 L528.18,374.6 L528.94,374.6 L529.71,374.6 L530.48,374.6 L531.26,374.6 L532.04,374.6 L532.84,374.6 L533.64,374.6 L534.44,374.6 L535.26,374.6 L536.08,374.6 L536.9,374.6 L537.73,374.6 L538.57,374.6 L539.42,374.6 L540.27,374.6 L541.13,374.6 L542,374.6 L542.87,374.6 L543.75,374.6 L544.64,374.6 L545.53,374.6 L546.43,374.6 L547.34,374.6 L548.25,374.6 L549.17,374.6" stroke="#1f8a8c" stroke-width="1.3" fill="none"/>
<path d="M488.65,374.92 L488.65,379.12 M487.05,374.92 L490.25,374.92 M487.05,379.12 L490.25,379.12 M502.1,374.9 L502.1,379.1 M500.5,374.9 L503.7,374.9 M500.5,379.1 L503.7,379.1 M515.55,374.9 L515.55,379.1 M513.95,374.9 L517.15,374.9 M513.95,379.1 L517.15,379.1 M529,374.9 L529,379.1 M527.4,374.9 L530.6,374.9 M527.4,379.1 L530.6,379.1" stroke="#9a2aac" stroke-width="1.0" fill="none"/>
<path d="M488.65,372.24 L488.65,377.04 M487.05,372.24 L490.25,372.24 M487.05,377.04 L490.25,377.04 M502.1,372.2 L502.1,377 M500.5,372.2 L503.7,372.2 M500.5,377 L503.7,377 M515.55,372.2 L515.55,377 M513.95,372.2 L517.15,372.2 M513.95,377 L517.15,377 M529,372.2 L529,377 M527.4,372.2 L530.6,372.2 M527.4,377 L530.6,377" stroke="#1f8a8c" stroke-width="1.0" fill="none"/>
<rect x="487.35" y="373.34" width="2.6" height="2.6" fill="#2d6b78"/>
<rect x="500.8" y="373.3" width="2.6" height="2.6" fill="#2d6b78"/>
<rect x="514.25" y="373.3" width="2.6" height="2.6" fill="#2d6b78"/>
<rect x="527.7" y="373.3" width="2.6" height="2.6" fill="#2d6b78"/>
</g>
<line x1="467.5" y1="371.3" x2="470.0" y2="371.3" stroke="#555" stroke-width="0.9"/>
<text x="464.0" y="375" font-family="Liberation Sans, sans-serif" font-size="11" fill="#111" text-anchor="end">0</text>
<line x1="467.5" y1="401.3" x2="470.0" y2="401.3" stroke="#555" stroke-width="0.9"/>
<text x="464.0" y="405" font-family="Liberation Sans, sans-serif" font-size="11" fill="#111" text-anchor="end">-100</text>
<line x1="475.2" y1="416.5" x2="475.2" y2="414.0" stroke="#555" stroke-width="0.9"/>
<text x="475.2" y="427.8" font-family="Liberation Sans, sans-serif" font-size="11" fill="#111" text-anchor="middle">0</text>
<line x1="529" y1="416.5" x2="529" y2="414.0" stroke="#555" stroke-width="0.9"/>
<text x="529" y="427.8" font-family="Liberation Sans, sans-serif" font-size="11" fill="#111" text-anchor="middle">80</text>
<line x1="583.2" y1="365.9" x2="607.3" y2="365.9" stroke="#ff8a1c" stroke-width="1.3"/>
<text x="613.9" y="368.4" font-family="Liberation Sans, sans-serif" font-size="11" fill="#111">6HB-2C (iii)</text>
<line x1="583.2" y1="382.2" x2="607.3" y2="382.2" stroke="#8b1a22" stroke-width="1.3"/>
<text x="612.7" y="385.1" font-family="Liberation Sans, sans-serif" font-size="11" fill="#111">6HB (iv)</text>
<line x1="583.2" y1="398.5" x2="607.3" y2="398.5" stroke="#1f8a8c" stroke-width="1.3"/>
<text x="615" y="401.7" font-family="Liberation Sans, sans-serif" font-size="11" fill="#111">6HB-1C (v)</text>
<line x1="583.2" y1="414.7" x2="607.3" y2="414.7" stroke="#9a2aac" stroke-width="1.3"/>
<text x="613.9" y="418.4" font-family="Liberation Sans, sans-serif" font-size="11" fill="#111">6HB-3C (vi)</text>
<text x="530.5" y="464" font-family="Liberation Sans, sans-serif" font-size="11" fill="#111">Time (s)</text>
<text transform="translate(382.6,343.6) rotate(-90)" font-family="Liberation Sans, sans-serif" font-size="11" fill="#111">I<tspan font-size="7" dy="2">H+</tspan><tspan dy="-2"> (nA)</tspan></text>
</svg>
</body></html>
